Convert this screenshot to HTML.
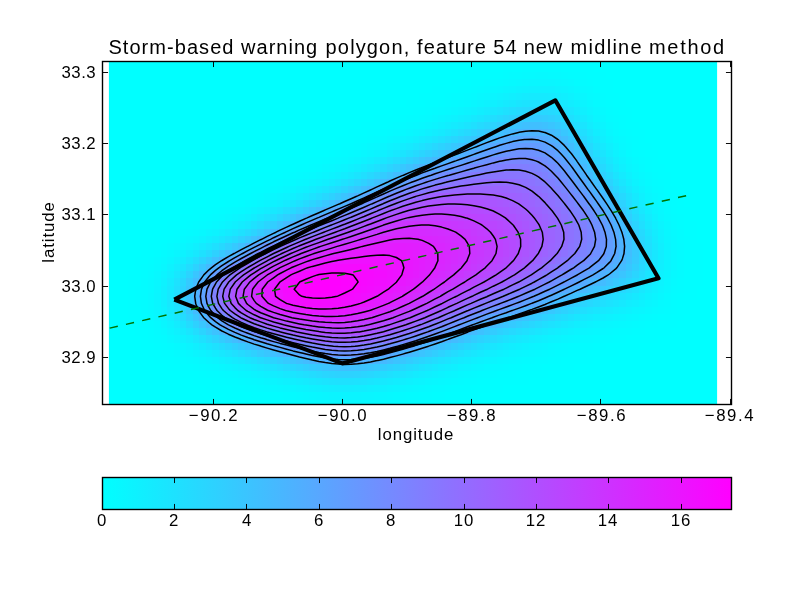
<!DOCTYPE html><html><head><meta charset="utf-8"><title>Storm-based warning polygon</title><style>html,body{margin:0;padding:0;background:#fff}body{width:812px;height:612px;position:relative;overflow:hidden;font-family:"Liberation Sans",sans-serif;color:#000}.t{position:absolute;white-space:nowrap;line-height:20px;height:20px;will-change:transform;-webkit-font-smoothing:antialiased}.c{width:100px;text-align:center}.r{width:100px;text-align:right}.yl{transform:rotate(-90deg);transform-origin:50% 50%}.ti span{position:absolute;top:0}</style></head><body><svg width="812" height="612" viewBox="0 0 812 612" style="position:absolute;left:0;top:0"><defs><linearGradient id="cg" x1="0" x2="1" y1="0" y2="0"><stop offset="0" stop-color="#00ffff"/><stop offset="1" stop-color="#ff00ff"/></linearGradient><clipPath id="ax"><rect x="102.5" y="61.5" width="629.0" height="343.0"/></clipPath></defs><rect x="102.5" y="477.5" width="629.0" height="32.0" fill="url(#cg)" stroke="#000" stroke-width="1.39"/><g clip-path="url(#ax)"><rect x="108.90" y="61.5" width="608.20" height="343.0" fill="#00ffff"/><g shape-rendering="crispEdges"><rect x="496.50" y="61.50" width="32.35" height="3.27" fill="#01feff"/><rect x="528.80" y="61.50" width="32.35" height="3.27" fill="#02fdff"/><rect x="561.10" y="61.50" width="25.89" height="3.27" fill="#01feff"/><rect x="477.12" y="64.72" width="25.89" height="7.17" fill="#01feff"/><rect x="502.96" y="64.72" width="19.43" height="7.17" fill="#02fdff"/><rect x="522.34" y="64.72" width="38.81" height="7.17" fill="#03fcff"/><rect x="561.10" y="64.72" width="19.43" height="7.17" fill="#02fdff"/><rect x="580.48" y="64.72" width="12.97" height="7.17" fill="#01feff"/><rect x="464.20" y="71.85" width="25.89" height="7.17" fill="#01feff"/><rect x="490.04" y="71.85" width="12.97" height="7.17" fill="#02fdff"/><rect x="502.96" y="71.85" width="6.51" height="7.17" fill="#03fcff"/><rect x="509.42" y="71.85" width="12.97" height="7.17" fill="#04fbff"/><rect x="522.34" y="71.85" width="12.97" height="7.17" fill="#05faff"/><rect x="535.26" y="71.85" width="12.97" height="7.17" fill="#06f9ff"/><rect x="548.18" y="71.85" width="12.97" height="7.17" fill="#05faff"/><rect x="561.10" y="71.85" width="6.51" height="7.17" fill="#04fbff"/><rect x="567.56" y="71.85" width="12.97" height="7.17" fill="#03fcff"/><rect x="580.48" y="71.85" width="6.51" height="7.17" fill="#02fdff"/><rect x="586.94" y="71.85" width="19.43" height="7.17" fill="#01feff"/><rect x="451.28" y="78.97" width="19.43" height="7.17" fill="#01feff"/><rect x="470.66" y="78.97" width="12.97" height="7.17" fill="#02fdff"/><rect x="483.58" y="78.97" width="12.97" height="7.17" fill="#03fcff"/><rect x="496.50" y="78.97" width="6.51" height="7.17" fill="#04fbff"/><rect x="502.96" y="78.97" width="6.51" height="7.17" fill="#05faff"/><rect x="509.42" y="78.97" width="6.51" height="7.17" fill="#06f9ff"/><rect x="515.88" y="78.97" width="6.51" height="7.17" fill="#07f8ff"/><rect x="522.34" y="78.97" width="6.51" height="7.17" fill="#08f7ff"/><rect x="528.80" y="78.97" width="25.89" height="7.17" fill="#09f6ff"/><rect x="554.64" y="78.97" width="6.51" height="7.17" fill="#08f7ff"/><rect x="561.10" y="78.97" width="6.51" height="7.17" fill="#07f8ff"/><rect x="567.56" y="78.97" width="6.51" height="7.17" fill="#06f9ff"/><rect x="574.02" y="78.97" width="6.51" height="7.17" fill="#04fbff"/><rect x="580.48" y="78.97" width="6.51" height="7.17" fill="#03fcff"/><rect x="586.94" y="78.97" width="6.51" height="7.17" fill="#02fdff"/><rect x="593.40" y="78.97" width="19.43" height="7.17" fill="#01feff"/><rect x="431.90" y="86.10" width="25.89" height="7.17" fill="#01feff"/><rect x="457.74" y="86.10" width="12.97" height="7.17" fill="#02fdff"/><rect x="470.66" y="86.10" width="6.51" height="7.17" fill="#03fcff"/><rect x="477.12" y="86.10" width="6.51" height="7.17" fill="#04fbff"/><rect x="483.58" y="86.10" width="6.51" height="7.17" fill="#05faff"/><rect x="490.04" y="86.10" width="6.51" height="7.17" fill="#06f9ff"/><rect x="496.50" y="86.10" width="6.51" height="7.17" fill="#07f8ff"/><rect x="502.96" y="86.10" width="6.51" height="7.17" fill="#09f6ff"/><rect x="509.42" y="86.10" width="6.51" height="7.17" fill="#0af5ff"/><rect x="515.88" y="86.10" width="6.51" height="7.17" fill="#0cf3ff"/><rect x="522.34" y="86.10" width="6.51" height="7.17" fill="#0df2ff"/><rect x="528.80" y="86.10" width="25.89" height="7.17" fill="#0ef1ff"/><rect x="554.64" y="86.10" width="6.51" height="7.17" fill="#0cf3ff"/><rect x="561.10" y="86.10" width="6.51" height="7.17" fill="#0bf4ff"/><rect x="567.56" y="86.10" width="6.51" height="7.17" fill="#09f6ff"/><rect x="574.02" y="86.10" width="6.51" height="7.17" fill="#07f8ff"/><rect x="580.48" y="86.10" width="6.51" height="7.17" fill="#05faff"/><rect x="586.94" y="86.10" width="6.51" height="7.17" fill="#04fbff"/><rect x="593.40" y="86.10" width="6.51" height="7.17" fill="#02fdff"/><rect x="599.86" y="86.10" width="12.97" height="7.17" fill="#01feff"/><rect x="418.98" y="93.22" width="25.89" height="7.17" fill="#01feff"/><rect x="444.82" y="93.22" width="6.51" height="7.17" fill="#02fdff"/><rect x="451.28" y="93.22" width="12.97" height="7.17" fill="#03fcff"/><rect x="464.20" y="93.22" width="6.51" height="7.17" fill="#04fbff"/><rect x="470.66" y="93.22" width="6.51" height="7.17" fill="#05faff"/><rect x="477.12" y="93.22" width="6.51" height="7.17" fill="#07f8ff"/><rect x="483.58" y="93.22" width="6.51" height="7.17" fill="#08f7ff"/><rect x="490.04" y="93.22" width="6.51" height="7.17" fill="#0af5ff"/><rect x="496.50" y="93.22" width="6.51" height="7.17" fill="#0cf3ff"/><rect x="502.96" y="93.22" width="6.51" height="7.17" fill="#0ef1ff"/><rect x="509.42" y="93.22" width="6.51" height="7.17" fill="#10efff"/><rect x="515.88" y="93.22" width="6.51" height="7.17" fill="#12edff"/><rect x="522.34" y="93.22" width="6.51" height="7.17" fill="#14ebff"/><rect x="528.80" y="93.22" width="19.43" height="7.17" fill="#15eaff"/><rect x="548.18" y="93.22" width="6.51" height="7.17" fill="#14ebff"/><rect x="554.64" y="93.22" width="6.51" height="7.17" fill="#12edff"/><rect x="561.10" y="93.22" width="6.51" height="7.17" fill="#10efff"/><rect x="567.56" y="93.22" width="6.51" height="7.17" fill="#0df2ff"/><rect x="574.02" y="93.22" width="6.51" height="7.17" fill="#0af5ff"/><rect x="580.48" y="93.22" width="6.51" height="7.17" fill="#08f7ff"/><rect x="586.94" y="93.22" width="6.51" height="7.17" fill="#05faff"/><rect x="593.40" y="93.22" width="6.51" height="7.17" fill="#04fbff"/><rect x="599.86" y="93.22" width="6.51" height="7.17" fill="#02fdff"/><rect x="606.32" y="93.22" width="12.97" height="7.17" fill="#01feff"/><rect x="406.06" y="100.35" width="19.43" height="7.17" fill="#01feff"/><rect x="425.44" y="100.35" width="12.97" height="7.17" fill="#02fdff"/><rect x="438.36" y="100.35" width="6.51" height="7.17" fill="#03fcff"/><rect x="444.82" y="100.35" width="6.51" height="7.17" fill="#04fbff"/><rect x="451.28" y="100.35" width="6.51" height="7.17" fill="#05faff"/><rect x="457.74" y="100.35" width="6.51" height="7.17" fill="#06f9ff"/><rect x="464.20" y="100.35" width="6.51" height="7.17" fill="#07f8ff"/><rect x="470.66" y="100.35" width="6.51" height="7.17" fill="#09f6ff"/><rect x="477.12" y="100.35" width="6.51" height="7.17" fill="#0bf4ff"/><rect x="483.58" y="100.35" width="6.51" height="7.17" fill="#0df2ff"/><rect x="490.04" y="100.35" width="6.51" height="7.17" fill="#0ff0ff"/><rect x="496.50" y="100.35" width="6.51" height="7.17" fill="#12edff"/><rect x="502.96" y="100.35" width="6.51" height="7.17" fill="#15eaff"/><rect x="509.42" y="100.35" width="6.51" height="7.17" fill="#17e8ff"/><rect x="515.88" y="100.35" width="6.51" height="7.17" fill="#1ae5ff"/><rect x="522.34" y="100.35" width="6.51" height="7.17" fill="#1ce3ff"/><rect x="528.80" y="100.35" width="6.51" height="7.17" fill="#1de2ff"/><rect x="535.26" y="100.35" width="12.97" height="7.17" fill="#1ee1ff"/><rect x="548.18" y="100.35" width="6.51" height="7.17" fill="#1ce3ff"/><rect x="554.64" y="100.35" width="6.51" height="7.17" fill="#19e6ff"/><rect x="561.10" y="100.35" width="6.51" height="7.17" fill="#16e9ff"/><rect x="567.56" y="100.35" width="6.51" height="7.17" fill="#12edff"/><rect x="574.02" y="100.35" width="6.51" height="7.17" fill="#0ff0ff"/><rect x="580.48" y="100.35" width="6.51" height="7.17" fill="#0bf4ff"/><rect x="586.94" y="100.35" width="6.51" height="7.17" fill="#08f7ff"/><rect x="593.40" y="100.35" width="6.51" height="7.17" fill="#05faff"/><rect x="599.86" y="100.35" width="6.51" height="7.17" fill="#03fcff"/><rect x="606.32" y="100.35" width="6.51" height="7.17" fill="#02fdff"/><rect x="612.78" y="100.35" width="12.97" height="7.17" fill="#01feff"/><rect x="393.14" y="107.47" width="19.43" height="7.17" fill="#01feff"/><rect x="412.52" y="107.47" width="12.97" height="7.17" fill="#02fdff"/><rect x="425.44" y="107.47" width="6.51" height="7.17" fill="#03fcff"/><rect x="431.90" y="107.47" width="6.51" height="7.17" fill="#04fbff"/><rect x="438.36" y="107.47" width="6.51" height="7.17" fill="#05faff"/><rect x="444.82" y="107.47" width="6.51" height="7.17" fill="#06f9ff"/><rect x="451.28" y="107.47" width="6.51" height="7.17" fill="#08f7ff"/><rect x="457.74" y="107.47" width="6.51" height="7.17" fill="#0af5ff"/><rect x="464.20" y="107.47" width="6.51" height="7.17" fill="#0cf3ff"/><rect x="470.66" y="107.47" width="6.51" height="7.17" fill="#0ef1ff"/><rect x="477.12" y="107.47" width="6.51" height="7.17" fill="#11eeff"/><rect x="483.58" y="107.47" width="6.51" height="7.17" fill="#14ebff"/><rect x="490.04" y="107.47" width="6.51" height="7.17" fill="#17e8ff"/><rect x="496.50" y="107.47" width="6.51" height="7.17" fill="#1ae5ff"/><rect x="502.96" y="107.47" width="6.51" height="7.17" fill="#1ee1ff"/><rect x="509.42" y="107.47" width="6.51" height="7.17" fill="#21deff"/><rect x="515.88" y="107.47" width="6.51" height="7.17" fill="#24dbff"/><rect x="522.34" y="107.47" width="6.51" height="7.17" fill="#26d9ff"/><rect x="528.80" y="107.47" width="12.97" height="7.17" fill="#28d7ff"/><rect x="541.72" y="107.47" width="6.51" height="7.17" fill="#27d8ff"/><rect x="548.18" y="107.47" width="6.51" height="7.17" fill="#25daff"/><rect x="554.64" y="107.47" width="6.51" height="7.17" fill="#22ddff"/><rect x="561.10" y="107.47" width="6.51" height="7.17" fill="#1ee1ff"/><rect x="567.56" y="107.47" width="6.51" height="7.17" fill="#19e6ff"/><rect x="574.02" y="107.47" width="6.51" height="7.17" fill="#14ebff"/><rect x="580.48" y="107.47" width="6.51" height="7.17" fill="#0ff0ff"/><rect x="586.94" y="107.47" width="6.51" height="7.17" fill="#0bf4ff"/><rect x="593.40" y="107.47" width="6.51" height="7.17" fill="#08f7ff"/><rect x="599.86" y="107.47" width="6.51" height="7.17" fill="#05faff"/><rect x="606.32" y="107.47" width="6.51" height="7.17" fill="#03fcff"/><rect x="612.78" y="107.47" width="6.51" height="7.17" fill="#02fdff"/><rect x="619.24" y="107.47" width="12.97" height="7.17" fill="#01feff"/><rect x="373.76" y="114.60" width="25.89" height="7.17" fill="#01feff"/><rect x="399.60" y="114.60" width="6.51" height="7.17" fill="#02fdff"/><rect x="406.06" y="114.60" width="12.97" height="7.17" fill="#03fcff"/><rect x="418.98" y="114.60" width="6.51" height="7.17" fill="#04fbff"/><rect x="425.44" y="114.60" width="6.51" height="7.17" fill="#05faff"/><rect x="431.90" y="114.60" width="6.51" height="7.17" fill="#07f8ff"/><rect x="438.36" y="114.60" width="6.51" height="7.17" fill="#09f6ff"/><rect x="444.82" y="114.60" width="6.51" height="7.17" fill="#0bf4ff"/><rect x="451.28" y="114.60" width="6.51" height="7.17" fill="#0df2ff"/><rect x="457.74" y="114.60" width="6.51" height="7.17" fill="#10efff"/><rect x="464.20" y="114.60" width="6.51" height="7.17" fill="#12edff"/><rect x="470.66" y="114.60" width="6.51" height="7.17" fill="#16e9ff"/><rect x="477.12" y="114.60" width="6.51" height="7.17" fill="#19e6ff"/><rect x="483.58" y="114.60" width="6.51" height="7.17" fill="#1de2ff"/><rect x="490.04" y="114.60" width="6.51" height="7.17" fill="#21deff"/><rect x="496.50" y="114.60" width="6.51" height="7.17" fill="#25daff"/><rect x="502.96" y="114.60" width="6.51" height="7.17" fill="#29d6ff"/><rect x="509.42" y="114.60" width="6.51" height="7.17" fill="#2cd3ff"/><rect x="515.88" y="114.60" width="6.51" height="7.17" fill="#30cfff"/><rect x="522.34" y="114.60" width="6.51" height="7.17" fill="#32cdff"/><rect x="528.80" y="114.60" width="6.51" height="7.17" fill="#33ccff"/><rect x="535.26" y="114.60" width="6.51" height="7.17" fill="#34cbff"/><rect x="541.72" y="114.60" width="6.51" height="7.17" fill="#32cdff"/><rect x="548.18" y="114.60" width="6.51" height="7.17" fill="#2fd0ff"/><rect x="554.64" y="114.60" width="6.51" height="7.17" fill="#2bd4ff"/><rect x="561.10" y="114.60" width="6.51" height="7.17" fill="#26d9ff"/><rect x="567.56" y="114.60" width="6.51" height="7.17" fill="#20dfff"/><rect x="574.02" y="114.60" width="6.51" height="7.17" fill="#1ae5ff"/><rect x="580.48" y="114.60" width="6.51" height="7.17" fill="#14ebff"/><rect x="586.94" y="114.60" width="6.51" height="7.17" fill="#0ff0ff"/><rect x="593.40" y="114.60" width="6.51" height="7.17" fill="#0af5ff"/><rect x="599.86" y="114.60" width="6.51" height="7.17" fill="#07f8ff"/><rect x="606.32" y="114.60" width="6.51" height="7.17" fill="#04fbff"/><rect x="612.78" y="114.60" width="6.51" height="7.17" fill="#03fcff"/><rect x="619.24" y="114.60" width="6.51" height="7.17" fill="#02fdff"/><rect x="625.70" y="114.60" width="6.51" height="7.17" fill="#01feff"/><rect x="360.84" y="121.72" width="25.89" height="7.17" fill="#01feff"/><rect x="386.68" y="121.72" width="6.51" height="7.17" fill="#02fdff"/><rect x="393.14" y="121.72" width="6.51" height="7.17" fill="#03fcff"/><rect x="399.60" y="121.72" width="6.51" height="7.17" fill="#04fbff"/><rect x="406.06" y="121.72" width="6.51" height="7.17" fill="#05faff"/><rect x="412.52" y="121.72" width="6.51" height="7.17" fill="#06f9ff"/><rect x="418.98" y="121.72" width="6.51" height="7.17" fill="#07f8ff"/><rect x="425.44" y="121.72" width="6.51" height="7.17" fill="#09f6ff"/><rect x="431.90" y="121.72" width="6.51" height="7.17" fill="#0bf4ff"/><rect x="438.36" y="121.72" width="6.51" height="7.17" fill="#0ef1ff"/><rect x="444.82" y="121.72" width="6.51" height="7.17" fill="#11eeff"/><rect x="451.28" y="121.72" width="6.51" height="7.17" fill="#14ebff"/><rect x="457.74" y="121.72" width="6.51" height="7.17" fill="#17e8ff"/><rect x="464.20" y="121.72" width="6.51" height="7.17" fill="#1be4ff"/><rect x="470.66" y="121.72" width="6.51" height="7.17" fill="#1fe0ff"/><rect x="477.12" y="121.72" width="6.51" height="7.17" fill="#24dbff"/><rect x="483.58" y="121.72" width="6.51" height="7.17" fill="#28d7ff"/><rect x="490.04" y="121.72" width="6.51" height="7.17" fill="#2cd3ff"/><rect x="496.50" y="121.72" width="6.51" height="7.17" fill="#31ceff"/><rect x="502.96" y="121.72" width="6.51" height="7.17" fill="#35caff"/><rect x="509.42" y="121.72" width="6.51" height="7.17" fill="#39c6ff"/><rect x="515.88" y="121.72" width="6.51" height="7.17" fill="#3cc3ff"/><rect x="522.34" y="121.72" width="6.51" height="7.17" fill="#3fc0ff"/><rect x="528.80" y="121.72" width="12.97" height="7.17" fill="#40bfff"/><rect x="541.72" y="121.72" width="6.51" height="7.17" fill="#3ec1ff"/><rect x="548.18" y="121.72" width="6.51" height="7.17" fill="#3ac5ff"/><rect x="554.64" y="121.72" width="6.51" height="7.17" fill="#35caff"/><rect x="561.10" y="121.72" width="6.51" height="7.17" fill="#2fd0ff"/><rect x="567.56" y="121.72" width="6.51" height="7.17" fill="#28d7ff"/><rect x="574.02" y="121.72" width="6.51" height="7.17" fill="#21deff"/><rect x="580.48" y="121.72" width="6.51" height="7.17" fill="#1ae5ff"/><rect x="586.94" y="121.72" width="6.51" height="7.17" fill="#13ecff"/><rect x="593.40" y="121.72" width="6.51" height="7.17" fill="#0ef1ff"/><rect x="599.86" y="121.72" width="6.51" height="7.17" fill="#0af5ff"/><rect x="606.32" y="121.72" width="6.51" height="7.17" fill="#06f9ff"/><rect x="612.78" y="121.72" width="6.51" height="7.17" fill="#04fbff"/><rect x="619.24" y="121.72" width="6.51" height="7.17" fill="#02fdff"/><rect x="625.70" y="121.72" width="12.97" height="7.17" fill="#01feff"/><rect x="347.92" y="128.85" width="19.43" height="7.17" fill="#01feff"/><rect x="367.30" y="128.85" width="12.97" height="7.17" fill="#02fdff"/><rect x="380.22" y="128.85" width="6.51" height="7.17" fill="#03fcff"/><rect x="386.68" y="128.85" width="6.51" height="7.17" fill="#04fbff"/><rect x="393.14" y="128.85" width="6.51" height="7.17" fill="#05faff"/><rect x="399.60" y="128.85" width="6.51" height="7.17" fill="#06f9ff"/><rect x="406.06" y="128.85" width="6.51" height="7.17" fill="#08f7ff"/><rect x="412.52" y="128.85" width="6.51" height="7.17" fill="#0af5ff"/><rect x="418.98" y="128.85" width="6.51" height="7.17" fill="#0cf3ff"/><rect x="425.44" y="128.85" width="6.51" height="7.17" fill="#0ff0ff"/><rect x="431.90" y="128.85" width="6.51" height="7.17" fill="#12edff"/><rect x="438.36" y="128.85" width="6.51" height="7.17" fill="#15eaff"/><rect x="444.82" y="128.85" width="6.51" height="7.17" fill="#19e6ff"/><rect x="451.28" y="128.85" width="6.51" height="7.17" fill="#1de2ff"/><rect x="457.74" y="128.85" width="6.51" height="7.17" fill="#22ddff"/><rect x="464.20" y="128.85" width="6.51" height="7.17" fill="#26d9ff"/><rect x="470.66" y="128.85" width="6.51" height="7.17" fill="#2bd4ff"/><rect x="477.12" y="128.85" width="6.51" height="7.17" fill="#30cfff"/><rect x="483.58" y="128.85" width="6.51" height="7.17" fill="#35caff"/><rect x="490.04" y="128.85" width="6.51" height="7.17" fill="#3ac5ff"/><rect x="496.50" y="128.85" width="6.51" height="7.17" fill="#3ec1ff"/><rect x="502.96" y="128.85" width="6.51" height="7.17" fill="#43bcff"/><rect x="509.42" y="128.85" width="6.51" height="7.17" fill="#47b8ff"/><rect x="515.88" y="128.85" width="6.51" height="7.17" fill="#4ab5ff"/><rect x="522.34" y="128.85" width="19.43" height="7.17" fill="#4cb3ff"/><rect x="541.72" y="128.85" width="6.51" height="7.17" fill="#49b6ff"/><rect x="548.18" y="128.85" width="6.51" height="7.17" fill="#45baff"/><rect x="554.64" y="128.85" width="6.51" height="7.17" fill="#3fc0ff"/><rect x="561.10" y="128.85" width="6.51" height="7.17" fill="#38c7ff"/><rect x="567.56" y="128.85" width="6.51" height="7.17" fill="#31ceff"/><rect x="574.02" y="128.85" width="6.51" height="7.17" fill="#28d7ff"/><rect x="580.48" y="128.85" width="6.51" height="7.17" fill="#20dfff"/><rect x="586.94" y="128.85" width="6.51" height="7.17" fill="#19e6ff"/><rect x="593.40" y="128.85" width="6.51" height="7.17" fill="#12edff"/><rect x="599.86" y="128.85" width="6.51" height="7.17" fill="#0df2ff"/><rect x="606.32" y="128.85" width="6.51" height="7.17" fill="#08f7ff"/><rect x="612.78" y="128.85" width="6.51" height="7.17" fill="#05faff"/><rect x="619.24" y="128.85" width="6.51" height="7.17" fill="#03fcff"/><rect x="625.70" y="128.85" width="6.51" height="7.17" fill="#02fdff"/><rect x="632.16" y="128.85" width="12.97" height="7.17" fill="#01feff"/><rect x="335.00" y="135.97" width="19.43" height="7.17" fill="#01feff"/><rect x="354.38" y="135.97" width="12.97" height="7.17" fill="#02fdff"/><rect x="367.30" y="135.97" width="6.51" height="7.17" fill="#03fcff"/><rect x="373.76" y="135.97" width="6.51" height="7.17" fill="#04fbff"/><rect x="380.22" y="135.97" width="6.51" height="7.17" fill="#05faff"/><rect x="386.68" y="135.97" width="6.51" height="7.17" fill="#07f8ff"/><rect x="393.14" y="135.97" width="6.51" height="7.17" fill="#09f6ff"/><rect x="399.60" y="135.97" width="6.51" height="7.17" fill="#0bf4ff"/><rect x="406.06" y="135.97" width="6.51" height="7.17" fill="#0df2ff"/><rect x="412.52" y="135.97" width="6.51" height="7.17" fill="#10efff"/><rect x="418.98" y="135.97" width="6.51" height="7.17" fill="#14ebff"/><rect x="425.44" y="135.97" width="6.51" height="7.17" fill="#17e8ff"/><rect x="431.90" y="135.97" width="6.51" height="7.17" fill="#1be4ff"/><rect x="438.36" y="135.97" width="6.51" height="7.17" fill="#1fe0ff"/><rect x="444.82" y="135.97" width="6.51" height="7.17" fill="#24dbff"/><rect x="451.28" y="135.97" width="6.51" height="7.17" fill="#29d6ff"/><rect x="457.74" y="135.97" width="6.51" height="7.17" fill="#2ed1ff"/><rect x="464.20" y="135.97" width="6.51" height="7.17" fill="#33ccff"/><rect x="470.66" y="135.97" width="6.51" height="7.17" fill="#38c7ff"/><rect x="477.12" y="135.97" width="6.51" height="7.17" fill="#3ec1ff"/><rect x="483.58" y="135.97" width="6.51" height="7.17" fill="#43bcff"/><rect x="490.04" y="135.97" width="6.51" height="7.17" fill="#48b7ff"/><rect x="496.50" y="135.97" width="6.51" height="7.17" fill="#4cb3ff"/><rect x="502.96" y="135.97" width="6.51" height="7.17" fill="#51aeff"/><rect x="509.42" y="135.97" width="6.51" height="7.17" fill="#54abff"/><rect x="515.88" y="135.97" width="6.51" height="7.17" fill="#57a8ff"/><rect x="522.34" y="135.97" width="12.97" height="7.17" fill="#58a7ff"/><rect x="535.26" y="135.97" width="6.51" height="7.17" fill="#57a8ff"/><rect x="541.72" y="135.97" width="6.51" height="7.17" fill="#54abff"/><rect x="548.18" y="135.97" width="6.51" height="7.17" fill="#50afff"/><rect x="554.64" y="135.97" width="6.51" height="7.17" fill="#49b6ff"/><rect x="561.10" y="135.97" width="6.51" height="7.17" fill="#42bdff"/><rect x="567.56" y="135.97" width="6.51" height="7.17" fill="#39c6ff"/><rect x="574.02" y="135.97" width="6.51" height="7.17" fill="#30cfff"/><rect x="580.48" y="135.97" width="6.51" height="7.17" fill="#27d8ff"/><rect x="586.94" y="135.97" width="6.51" height="7.17" fill="#1ee1ff"/><rect x="593.40" y="135.97" width="6.51" height="7.17" fill="#17e8ff"/><rect x="599.86" y="135.97" width="6.51" height="7.17" fill="#10efff"/><rect x="606.32" y="135.97" width="6.51" height="7.17" fill="#0bf4ff"/><rect x="612.78" y="135.97" width="6.51" height="7.17" fill="#07f8ff"/><rect x="619.24" y="135.97" width="6.51" height="7.17" fill="#05faff"/><rect x="625.70" y="135.97" width="6.51" height="7.17" fill="#03fcff"/><rect x="632.16" y="135.97" width="6.51" height="7.17" fill="#02fdff"/><rect x="638.62" y="135.97" width="6.51" height="7.17" fill="#01feff"/><rect x="315.62" y="143.10" width="25.89" height="7.17" fill="#01feff"/><rect x="341.46" y="143.10" width="12.97" height="7.17" fill="#02fdff"/><rect x="354.38" y="143.10" width="6.51" height="7.17" fill="#03fcff"/><rect x="360.84" y="143.10" width="6.51" height="7.17" fill="#04fbff"/><rect x="367.30" y="143.10" width="6.51" height="7.17" fill="#06f9ff"/><rect x="373.76" y="143.10" width="6.51" height="7.17" fill="#07f8ff"/><rect x="380.22" y="143.10" width="6.51" height="7.17" fill="#09f6ff"/><rect x="386.68" y="143.10" width="6.51" height="7.17" fill="#0cf3ff"/><rect x="393.14" y="143.10" width="6.51" height="7.17" fill="#0ef1ff"/><rect x="399.60" y="143.10" width="6.51" height="7.17" fill="#12edff"/><rect x="406.06" y="143.10" width="6.51" height="7.17" fill="#15eaff"/><rect x="412.52" y="143.10" width="6.51" height="7.17" fill="#19e6ff"/><rect x="418.98" y="143.10" width="6.51" height="7.17" fill="#1de2ff"/><rect x="425.44" y="143.10" width="6.51" height="7.17" fill="#22ddff"/><rect x="431.90" y="143.10" width="6.51" height="7.17" fill="#27d8ff"/><rect x="438.36" y="143.10" width="6.51" height="7.17" fill="#2cd3ff"/><rect x="444.82" y="143.10" width="6.51" height="7.17" fill="#31ceff"/><rect x="451.28" y="143.10" width="6.51" height="7.17" fill="#37c8ff"/><rect x="457.74" y="143.10" width="6.51" height="7.17" fill="#3cc3ff"/><rect x="464.20" y="143.10" width="6.51" height="7.17" fill="#42bdff"/><rect x="470.66" y="143.10" width="6.51" height="7.17" fill="#47b8ff"/><rect x="477.12" y="143.10" width="6.51" height="7.17" fill="#4db2ff"/><rect x="483.58" y="143.10" width="6.51" height="7.17" fill="#52adff"/><rect x="490.04" y="143.10" width="6.51" height="7.17" fill="#56a9ff"/><rect x="496.50" y="143.10" width="6.51" height="7.17" fill="#5ba4ff"/><rect x="502.96" y="143.10" width="6.51" height="7.17" fill="#5ea1ff"/><rect x="509.42" y="143.10" width="6.51" height="7.17" fill="#619eff"/><rect x="515.88" y="143.10" width="6.51" height="7.17" fill="#639cff"/><rect x="522.34" y="143.10" width="12.97" height="7.17" fill="#649bff"/><rect x="535.26" y="143.10" width="6.51" height="7.17" fill="#629dff"/><rect x="541.72" y="143.10" width="6.51" height="7.17" fill="#5ea1ff"/><rect x="548.18" y="143.10" width="6.51" height="7.17" fill="#59a6ff"/><rect x="554.64" y="143.10" width="6.51" height="7.17" fill="#53acff"/><rect x="561.10" y="143.10" width="6.51" height="7.17" fill="#4bb4ff"/><rect x="567.56" y="143.10" width="6.51" height="7.17" fill="#42bdff"/><rect x="574.02" y="143.10" width="6.51" height="7.17" fill="#38c7ff"/><rect x="580.48" y="143.10" width="6.51" height="7.17" fill="#2ed1ff"/><rect x="586.94" y="143.10" width="6.51" height="7.17" fill="#25daff"/><rect x="593.40" y="143.10" width="6.51" height="7.17" fill="#1ce3ff"/><rect x="599.86" y="143.10" width="6.51" height="7.17" fill="#15eaff"/><rect x="606.32" y="143.10" width="6.51" height="7.17" fill="#0ff0ff"/><rect x="612.78" y="143.10" width="6.51" height="7.17" fill="#0af5ff"/><rect x="619.24" y="143.10" width="6.51" height="7.17" fill="#06f9ff"/><rect x="625.70" y="143.10" width="6.51" height="7.17" fill="#04fbff"/><rect x="632.16" y="143.10" width="6.51" height="7.17" fill="#02fdff"/><rect x="638.62" y="143.10" width="12.97" height="7.17" fill="#01feff"/><rect x="302.70" y="150.22" width="25.89" height="7.17" fill="#01feff"/><rect x="328.54" y="150.22" width="6.51" height="7.17" fill="#02fdff"/><rect x="335.00" y="150.22" width="6.51" height="7.17" fill="#03fcff"/><rect x="341.46" y="150.22" width="6.51" height="7.17" fill="#04fbff"/><rect x="347.92" y="150.22" width="6.51" height="7.17" fill="#05faff"/><rect x="354.38" y="150.22" width="6.51" height="7.17" fill="#06f9ff"/><rect x="360.84" y="150.22" width="6.51" height="7.17" fill="#08f7ff"/><rect x="367.30" y="150.22" width="6.51" height="7.17" fill="#0af5ff"/><rect x="373.76" y="150.22" width="6.51" height="7.17" fill="#0cf3ff"/><rect x="380.22" y="150.22" width="6.51" height="7.17" fill="#0ff0ff"/><rect x="386.68" y="150.22" width="6.51" height="7.17" fill="#13ecff"/><rect x="393.14" y="150.22" width="6.51" height="7.17" fill="#17e8ff"/><rect x="399.60" y="150.22" width="6.51" height="7.17" fill="#1be4ff"/><rect x="406.06" y="150.22" width="6.51" height="7.17" fill="#20dfff"/><rect x="412.52" y="150.22" width="6.51" height="7.17" fill="#25daff"/><rect x="418.98" y="150.22" width="6.51" height="7.17" fill="#2ad5ff"/><rect x="425.44" y="150.22" width="6.51" height="7.17" fill="#2fd0ff"/><rect x="431.90" y="150.22" width="6.51" height="7.17" fill="#35caff"/><rect x="438.36" y="150.22" width="6.51" height="7.17" fill="#3bc4ff"/><rect x="444.82" y="150.22" width="6.51" height="7.17" fill="#41beff"/><rect x="451.28" y="150.22" width="6.51" height="7.17" fill="#46b9ff"/><rect x="457.74" y="150.22" width="6.51" height="7.17" fill="#4cb3ff"/><rect x="464.20" y="150.22" width="6.51" height="7.17" fill="#51aeff"/><rect x="470.66" y="150.22" width="6.51" height="7.17" fill="#57a8ff"/><rect x="477.12" y="150.22" width="6.51" height="7.17" fill="#5ca3ff"/><rect x="483.58" y="150.22" width="6.51" height="7.17" fill="#609fff"/><rect x="490.04" y="150.22" width="6.51" height="7.17" fill="#649bff"/><rect x="496.50" y="150.22" width="6.51" height="7.17" fill="#6897ff"/><rect x="502.96" y="150.22" width="6.51" height="7.17" fill="#6b94ff"/><rect x="509.42" y="150.22" width="6.51" height="7.17" fill="#6d92ff"/><rect x="515.88" y="150.22" width="12.97" height="7.17" fill="#6f90ff"/><rect x="528.80" y="150.22" width="6.51" height="7.17" fill="#6e91ff"/><rect x="535.26" y="150.22" width="6.51" height="7.17" fill="#6b94ff"/><rect x="541.72" y="150.22" width="6.51" height="7.17" fill="#6897ff"/><rect x="548.18" y="150.22" width="6.51" height="7.17" fill="#639cff"/><rect x="554.64" y="150.22" width="6.51" height="7.17" fill="#5ca3ff"/><rect x="561.10" y="150.22" width="6.51" height="7.17" fill="#54abff"/><rect x="567.56" y="150.22" width="6.51" height="7.17" fill="#4ab5ff"/><rect x="574.02" y="150.22" width="6.51" height="7.17" fill="#40bfff"/><rect x="580.48" y="150.22" width="6.51" height="7.17" fill="#36c9ff"/><rect x="586.94" y="150.22" width="6.51" height="7.17" fill="#2cd3ff"/><rect x="593.40" y="150.22" width="6.51" height="7.17" fill="#22ddff"/><rect x="599.86" y="150.22" width="6.51" height="7.17" fill="#1ae5ff"/><rect x="606.32" y="150.22" width="6.51" height="7.17" fill="#13ecff"/><rect x="612.78" y="150.22" width="6.51" height="7.17" fill="#0df2ff"/><rect x="619.24" y="150.22" width="6.51" height="7.17" fill="#09f6ff"/><rect x="625.70" y="150.22" width="6.51" height="7.17" fill="#05faff"/><rect x="632.16" y="150.22" width="6.51" height="7.17" fill="#03fcff"/><rect x="638.62" y="150.22" width="6.51" height="7.17" fill="#02fdff"/><rect x="645.08" y="150.22" width="12.97" height="7.17" fill="#01feff"/><rect x="289.78" y="157.35" width="19.43" height="7.17" fill="#01feff"/><rect x="309.16" y="157.35" width="12.97" height="7.17" fill="#02fdff"/><rect x="322.08" y="157.35" width="6.51" height="7.17" fill="#03fcff"/><rect x="328.54" y="157.35" width="6.51" height="7.17" fill="#04fbff"/><rect x="335.00" y="157.35" width="6.51" height="7.17" fill="#05faff"/><rect x="341.46" y="157.35" width="6.51" height="7.17" fill="#06f9ff"/><rect x="347.92" y="157.35" width="6.51" height="7.17" fill="#08f7ff"/><rect x="354.38" y="157.35" width="6.51" height="7.17" fill="#0af5ff"/><rect x="360.84" y="157.35" width="6.51" height="7.17" fill="#0df2ff"/><rect x="367.30" y="157.35" width="6.51" height="7.17" fill="#10efff"/><rect x="373.76" y="157.35" width="6.51" height="7.17" fill="#14ebff"/><rect x="380.22" y="157.35" width="6.51" height="7.17" fill="#18e7ff"/><rect x="386.68" y="157.35" width="6.51" height="7.17" fill="#1de2ff"/><rect x="393.14" y="157.35" width="6.51" height="7.17" fill="#22ddff"/><rect x="399.60" y="157.35" width="6.51" height="7.17" fill="#27d8ff"/><rect x="406.06" y="157.35" width="6.51" height="7.17" fill="#2dd2ff"/><rect x="412.52" y="157.35" width="6.51" height="7.17" fill="#33ccff"/><rect x="418.98" y="157.35" width="6.51" height="7.17" fill="#39c6ff"/><rect x="425.44" y="157.35" width="6.51" height="7.17" fill="#3fc0ff"/><rect x="431.90" y="157.35" width="6.51" height="7.17" fill="#46b9ff"/><rect x="438.36" y="157.35" width="6.51" height="7.17" fill="#4cb3ff"/><rect x="444.82" y="157.35" width="6.51" height="7.17" fill="#51aeff"/><rect x="451.28" y="157.35" width="6.51" height="7.17" fill="#57a8ff"/><rect x="457.74" y="157.35" width="6.51" height="7.17" fill="#5ca3ff"/><rect x="464.20" y="157.35" width="6.51" height="7.17" fill="#619eff"/><rect x="470.66" y="157.35" width="6.51" height="7.17" fill="#6699ff"/><rect x="477.12" y="157.35" width="6.51" height="7.17" fill="#6a95ff"/><rect x="483.58" y="157.35" width="6.51" height="7.17" fill="#6e91ff"/><rect x="490.04" y="157.35" width="6.51" height="7.17" fill="#728dff"/><rect x="496.50" y="157.35" width="6.51" height="7.17" fill="#758aff"/><rect x="502.96" y="157.35" width="6.51" height="7.17" fill="#7788ff"/><rect x="509.42" y="157.35" width="6.51" height="7.17" fill="#7887ff"/><rect x="515.88" y="157.35" width="6.51" height="7.17" fill="#7986ff"/><rect x="522.34" y="157.35" width="6.51" height="7.17" fill="#7887ff"/><rect x="528.80" y="157.35" width="6.51" height="7.17" fill="#7788ff"/><rect x="535.26" y="157.35" width="6.51" height="7.17" fill="#748bff"/><rect x="541.72" y="157.35" width="6.51" height="7.17" fill="#708fff"/><rect x="548.18" y="157.35" width="6.51" height="7.17" fill="#6b94ff"/><rect x="554.64" y="157.35" width="6.51" height="7.17" fill="#649bff"/><rect x="561.10" y="157.35" width="6.51" height="7.17" fill="#5ca3ff"/><rect x="567.56" y="157.35" width="6.51" height="7.17" fill="#53acff"/><rect x="574.02" y="157.35" width="6.51" height="7.17" fill="#49b6ff"/><rect x="580.48" y="157.35" width="6.51" height="7.17" fill="#3ec1ff"/><rect x="586.94" y="157.35" width="6.51" height="7.17" fill="#33ccff"/><rect x="593.40" y="157.35" width="6.51" height="7.17" fill="#29d6ff"/><rect x="599.86" y="157.35" width="6.51" height="7.17" fill="#20dfff"/><rect x="606.32" y="157.35" width="6.51" height="7.17" fill="#18e7ff"/><rect x="612.78" y="157.35" width="6.51" height="7.17" fill="#11eeff"/><rect x="619.24" y="157.35" width="6.51" height="7.17" fill="#0cf3ff"/><rect x="625.70" y="157.35" width="6.51" height="7.17" fill="#08f7ff"/><rect x="632.16" y="157.35" width="6.51" height="7.17" fill="#05faff"/><rect x="638.62" y="157.35" width="6.51" height="7.17" fill="#03fcff"/><rect x="645.08" y="157.35" width="6.51" height="7.17" fill="#02fdff"/><rect x="651.54" y="157.35" width="6.51" height="7.17" fill="#01feff"/><rect x="276.86" y="164.47" width="19.43" height="7.17" fill="#01feff"/><rect x="296.24" y="164.47" width="12.97" height="7.17" fill="#02fdff"/><rect x="309.16" y="164.47" width="6.51" height="7.17" fill="#03fcff"/><rect x="315.62" y="164.47" width="6.51" height="7.17" fill="#04fbff"/><rect x="322.08" y="164.47" width="6.51" height="7.17" fill="#06f9ff"/><rect x="328.54" y="164.47" width="6.51" height="7.17" fill="#07f8ff"/><rect x="335.00" y="164.47" width="6.51" height="7.17" fill="#09f6ff"/><rect x="341.46" y="164.47" width="6.51" height="7.17" fill="#0bf4ff"/><rect x="347.92" y="164.47" width="6.51" height="7.17" fill="#0ef1ff"/><rect x="354.38" y="164.47" width="6.51" height="7.17" fill="#11eeff"/><rect x="360.84" y="164.47" width="6.51" height="7.17" fill="#15eaff"/><rect x="367.30" y="164.47" width="6.51" height="7.17" fill="#19e6ff"/><rect x="373.76" y="164.47" width="6.51" height="7.17" fill="#1ee1ff"/><rect x="380.22" y="164.47" width="6.51" height="7.17" fill="#24dbff"/><rect x="386.68" y="164.47" width="6.51" height="7.17" fill="#2ad5ff"/><rect x="393.14" y="164.47" width="6.51" height="7.17" fill="#30cfff"/><rect x="399.60" y="164.47" width="6.51" height="7.17" fill="#37c8ff"/><rect x="406.06" y="164.47" width="6.51" height="7.17" fill="#3dc2ff"/><rect x="412.52" y="164.47" width="6.51" height="7.17" fill="#44bbff"/><rect x="418.98" y="164.47" width="6.51" height="7.17" fill="#4bb4ff"/><rect x="425.44" y="164.47" width="6.51" height="7.17" fill="#51aeff"/><rect x="431.90" y="164.47" width="6.51" height="7.17" fill="#57a8ff"/><rect x="438.36" y="164.47" width="6.51" height="7.17" fill="#5da2ff"/><rect x="444.82" y="164.47" width="6.51" height="7.17" fill="#639cff"/><rect x="451.28" y="164.47" width="6.51" height="7.17" fill="#6897ff"/><rect x="457.74" y="164.47" width="6.51" height="7.17" fill="#6d92ff"/><rect x="464.20" y="164.47" width="6.51" height="7.17" fill="#718eff"/><rect x="470.66" y="164.47" width="6.51" height="7.17" fill="#758aff"/><rect x="477.12" y="164.47" width="6.51" height="7.17" fill="#7887ff"/><rect x="483.58" y="164.47" width="6.51" height="7.17" fill="#7b84ff"/><rect x="490.04" y="164.47" width="6.51" height="7.17" fill="#7e81ff"/><rect x="496.50" y="164.47" width="6.51" height="7.17" fill="#807fff"/><rect x="502.96" y="164.47" width="6.51" height="7.17" fill="#817eff"/><rect x="509.42" y="164.47" width="12.97" height="7.17" fill="#827dff"/><rect x="522.34" y="164.47" width="6.51" height="7.17" fill="#817eff"/><rect x="528.80" y="164.47" width="6.51" height="7.17" fill="#7f80ff"/><rect x="535.26" y="164.47" width="6.51" height="7.17" fill="#7c83ff"/><rect x="541.72" y="164.47" width="6.51" height="7.17" fill="#7887ff"/><rect x="548.18" y="164.47" width="6.51" height="7.17" fill="#728dff"/><rect x="554.64" y="164.47" width="6.51" height="7.17" fill="#6c93ff"/><rect x="561.10" y="164.47" width="6.51" height="7.17" fill="#649bff"/><rect x="567.56" y="164.47" width="6.51" height="7.17" fill="#5ba4ff"/><rect x="574.02" y="164.47" width="6.51" height="7.17" fill="#51aeff"/><rect x="580.48" y="164.47" width="6.51" height="7.17" fill="#46b9ff"/><rect x="586.94" y="164.47" width="6.51" height="7.17" fill="#3bc4ff"/><rect x="593.40" y="164.47" width="6.51" height="7.17" fill="#30cfff"/><rect x="599.86" y="164.47" width="6.51" height="7.17" fill="#26d9ff"/><rect x="606.32" y="164.47" width="6.51" height="7.17" fill="#1de2ff"/><rect x="612.78" y="164.47" width="6.51" height="7.17" fill="#15eaff"/><rect x="619.24" y="164.47" width="6.51" height="7.17" fill="#0ff0ff"/><rect x="625.70" y="164.47" width="6.51" height="7.17" fill="#0af5ff"/><rect x="632.16" y="164.47" width="6.51" height="7.17" fill="#07f8ff"/><rect x="638.62" y="164.47" width="6.51" height="7.17" fill="#04fbff"/><rect x="645.08" y="164.47" width="6.51" height="7.17" fill="#02fdff"/><rect x="651.54" y="164.47" width="12.97" height="7.17" fill="#01feff"/><rect x="257.48" y="171.60" width="25.89" height="7.17" fill="#01feff"/><rect x="283.32" y="171.60" width="6.51" height="7.17" fill="#02fdff"/><rect x="289.78" y="171.60" width="6.51" height="7.17" fill="#03fcff"/><rect x="296.24" y="171.60" width="6.51" height="7.17" fill="#04fbff"/><rect x="302.70" y="171.60" width="6.51" height="7.17" fill="#05faff"/><rect x="309.16" y="171.60" width="6.51" height="7.17" fill="#06f9ff"/><rect x="315.62" y="171.60" width="6.51" height="7.17" fill="#08f7ff"/><rect x="322.08" y="171.60" width="6.51" height="7.17" fill="#0af5ff"/><rect x="328.54" y="171.60" width="6.51" height="7.17" fill="#0cf3ff"/><rect x="335.00" y="171.60" width="6.51" height="7.17" fill="#0ff0ff"/><rect x="341.46" y="171.60" width="6.51" height="7.17" fill="#12edff"/><rect x="347.92" y="171.60" width="6.51" height="7.17" fill="#16e9ff"/><rect x="354.38" y="171.60" width="6.51" height="7.17" fill="#1be4ff"/><rect x="360.84" y="171.60" width="6.51" height="7.17" fill="#20dfff"/><rect x="367.30" y="171.60" width="6.51" height="7.17" fill="#26d9ff"/><rect x="373.76" y="171.60" width="6.51" height="7.17" fill="#2cd3ff"/><rect x="380.22" y="171.60" width="6.51" height="7.17" fill="#33ccff"/><rect x="386.68" y="171.60" width="6.51" height="7.17" fill="#3ac5ff"/><rect x="393.14" y="171.60" width="6.51" height="7.17" fill="#41beff"/><rect x="399.60" y="171.60" width="6.51" height="7.17" fill="#49b6ff"/><rect x="406.06" y="171.60" width="6.51" height="7.17" fill="#50afff"/><rect x="412.52" y="171.60" width="6.51" height="7.17" fill="#57a8ff"/><rect x="418.98" y="171.60" width="6.51" height="7.17" fill="#5ea1ff"/><rect x="425.44" y="171.60" width="6.51" height="7.17" fill="#649bff"/><rect x="431.90" y="171.60" width="6.51" height="7.17" fill="#6a95ff"/><rect x="438.36" y="171.60" width="6.51" height="7.17" fill="#708fff"/><rect x="444.82" y="171.60" width="6.51" height="7.17" fill="#748bff"/><rect x="451.28" y="171.60" width="6.51" height="7.17" fill="#7986ff"/><rect x="457.74" y="171.60" width="6.51" height="7.17" fill="#7d82ff"/><rect x="464.20" y="171.60" width="6.51" height="7.17" fill="#807fff"/><rect x="470.66" y="171.60" width="6.51" height="7.17" fill="#837cff"/><rect x="477.12" y="171.60" width="6.51" height="7.17" fill="#857aff"/><rect x="483.58" y="171.60" width="6.51" height="7.17" fill="#8778ff"/><rect x="490.04" y="171.60" width="6.51" height="7.17" fill="#8976ff"/><rect x="496.50" y="171.60" width="19.43" height="7.17" fill="#8a75ff"/><rect x="515.88" y="171.60" width="6.51" height="7.17" fill="#8976ff"/><rect x="522.34" y="171.60" width="6.51" height="7.17" fill="#8877ff"/><rect x="528.80" y="171.60" width="6.51" height="7.17" fill="#8679ff"/><rect x="535.26" y="171.60" width="6.51" height="7.17" fill="#827dff"/><rect x="541.72" y="171.60" width="6.51" height="7.17" fill="#7e81ff"/><rect x="548.18" y="171.60" width="6.51" height="7.17" fill="#7986ff"/><rect x="554.64" y="171.60" width="6.51" height="7.17" fill="#738cff"/><rect x="561.10" y="171.60" width="6.51" height="7.17" fill="#6b94ff"/><rect x="567.56" y="171.60" width="6.51" height="7.17" fill="#629dff"/><rect x="574.02" y="171.60" width="6.51" height="7.17" fill="#59a6ff"/><rect x="580.48" y="171.60" width="6.51" height="7.17" fill="#4eb1ff"/><rect x="586.94" y="171.60" width="6.51" height="7.17" fill="#43bcff"/><rect x="593.40" y="171.60" width="6.51" height="7.17" fill="#38c7ff"/><rect x="599.86" y="171.60" width="6.51" height="7.17" fill="#2ed1ff"/><rect x="606.32" y="171.60" width="6.51" height="7.17" fill="#24dbff"/><rect x="612.78" y="171.60" width="6.51" height="7.17" fill="#1be4ff"/><rect x="619.24" y="171.60" width="6.51" height="7.17" fill="#14ebff"/><rect x="625.70" y="171.60" width="6.51" height="7.17" fill="#0ef1ff"/><rect x="632.16" y="171.60" width="6.51" height="7.17" fill="#09f6ff"/><rect x="638.62" y="171.60" width="6.51" height="7.17" fill="#06f9ff"/><rect x="645.08" y="171.60" width="6.51" height="7.17" fill="#04fbff"/><rect x="651.54" y="171.60" width="6.51" height="7.17" fill="#02fdff"/><rect x="658.00" y="171.60" width="12.97" height="7.17" fill="#01feff"/><rect x="244.56" y="178.72" width="19.43" height="7.17" fill="#01feff"/><rect x="263.94" y="178.72" width="12.97" height="7.17" fill="#02fdff"/><rect x="276.86" y="178.72" width="6.51" height="7.17" fill="#03fcff"/><rect x="283.32" y="178.72" width="6.51" height="7.17" fill="#04fbff"/><rect x="289.78" y="178.72" width="6.51" height="7.17" fill="#05faff"/><rect x="296.24" y="178.72" width="6.51" height="7.17" fill="#07f8ff"/><rect x="302.70" y="178.72" width="6.51" height="7.17" fill="#08f7ff"/><rect x="309.16" y="178.72" width="6.51" height="7.17" fill="#0bf4ff"/><rect x="315.62" y="178.72" width="6.51" height="7.17" fill="#0df2ff"/><rect x="322.08" y="178.72" width="6.51" height="7.17" fill="#10efff"/><rect x="328.54" y="178.72" width="6.51" height="7.17" fill="#14ebff"/><rect x="335.00" y="178.72" width="6.51" height="7.17" fill="#18e7ff"/><rect x="341.46" y="178.72" width="6.51" height="7.17" fill="#1de2ff"/><rect x="347.92" y="178.72" width="6.51" height="7.17" fill="#22ddff"/><rect x="354.38" y="178.72" width="6.51" height="7.17" fill="#28d7ff"/><rect x="360.84" y="178.72" width="6.51" height="7.17" fill="#2ed1ff"/><rect x="367.30" y="178.72" width="6.51" height="7.17" fill="#35caff"/><rect x="373.76" y="178.72" width="6.51" height="7.17" fill="#3dc2ff"/><rect x="380.22" y="178.72" width="6.51" height="7.17" fill="#45baff"/><rect x="386.68" y="178.72" width="6.51" height="7.17" fill="#4db2ff"/><rect x="393.14" y="178.72" width="6.51" height="7.17" fill="#55aaff"/><rect x="399.60" y="178.72" width="6.51" height="7.17" fill="#5da2ff"/><rect x="406.06" y="178.72" width="6.51" height="7.17" fill="#649bff"/><rect x="412.52" y="178.72" width="6.51" height="7.17" fill="#6b94ff"/><rect x="418.98" y="178.72" width="6.51" height="7.17" fill="#728dff"/><rect x="425.44" y="178.72" width="6.51" height="7.17" fill="#7887ff"/><rect x="431.90" y="178.72" width="6.51" height="7.17" fill="#7d82ff"/><rect x="438.36" y="178.72" width="6.51" height="7.17" fill="#817eff"/><rect x="444.82" y="178.72" width="6.51" height="7.17" fill="#857aff"/><rect x="451.28" y="178.72" width="6.51" height="7.17" fill="#8976ff"/><rect x="457.74" y="178.72" width="6.51" height="7.17" fill="#8b74ff"/><rect x="464.20" y="178.72" width="6.51" height="7.17" fill="#8e71ff"/><rect x="470.66" y="178.72" width="6.51" height="7.17" fill="#8f70ff"/><rect x="477.12" y="178.72" width="6.51" height="7.17" fill="#916eff"/><rect x="483.58" y="178.72" width="6.51" height="7.17" fill="#926dff"/><rect x="490.04" y="178.72" width="19.43" height="7.17" fill="#936cff"/><rect x="509.42" y="178.72" width="6.51" height="7.17" fill="#926dff"/><rect x="515.88" y="178.72" width="6.51" height="7.17" fill="#906fff"/><rect x="522.34" y="178.72" width="6.51" height="7.17" fill="#8e71ff"/><rect x="528.80" y="178.72" width="6.51" height="7.17" fill="#8c73ff"/><rect x="535.26" y="178.72" width="6.51" height="7.17" fill="#8877ff"/><rect x="541.72" y="178.72" width="6.51" height="7.17" fill="#847bff"/><rect x="548.18" y="178.72" width="6.51" height="7.17" fill="#7f80ff"/><rect x="554.64" y="178.72" width="6.51" height="7.17" fill="#7986ff"/><rect x="561.10" y="178.72" width="6.51" height="7.17" fill="#728dff"/><rect x="567.56" y="178.72" width="6.51" height="7.17" fill="#6a95ff"/><rect x="574.02" y="178.72" width="6.51" height="7.17" fill="#619eff"/><rect x="580.48" y="178.72" width="6.51" height="7.17" fill="#57a8ff"/><rect x="586.94" y="178.72" width="6.51" height="7.17" fill="#4cb3ff"/><rect x="593.40" y="178.72" width="6.51" height="7.17" fill="#41beff"/><rect x="599.86" y="178.72" width="6.51" height="7.17" fill="#36c9ff"/><rect x="606.32" y="178.72" width="6.51" height="7.17" fill="#2bd4ff"/><rect x="612.78" y="178.72" width="6.51" height="7.17" fill="#21deff"/><rect x="619.24" y="178.72" width="6.51" height="7.17" fill="#19e6ff"/><rect x="625.70" y="178.72" width="6.51" height="7.17" fill="#12edff"/><rect x="632.16" y="178.72" width="6.51" height="7.17" fill="#0cf3ff"/><rect x="638.62" y="178.72" width="6.51" height="7.17" fill="#08f7ff"/><rect x="645.08" y="178.72" width="6.51" height="7.17" fill="#05faff"/><rect x="651.54" y="178.72" width="6.51" height="7.17" fill="#03fcff"/><rect x="658.00" y="178.72" width="6.51" height="7.17" fill="#02fdff"/><rect x="664.46" y="178.72" width="6.51" height="7.17" fill="#01feff"/><rect x="231.64" y="185.85" width="19.43" height="7.17" fill="#01feff"/><rect x="251.02" y="185.85" width="12.97" height="7.17" fill="#02fdff"/><rect x="263.94" y="185.85" width="6.51" height="7.17" fill="#03fcff"/><rect x="270.40" y="185.85" width="6.51" height="7.17" fill="#04fbff"/><rect x="276.86" y="185.85" width="6.51" height="7.17" fill="#05faff"/><rect x="283.32" y="185.85" width="6.51" height="7.17" fill="#07f8ff"/><rect x="289.78" y="185.85" width="6.51" height="7.17" fill="#09f6ff"/><rect x="296.24" y="185.85" width="6.51" height="7.17" fill="#0cf3ff"/><rect x="302.70" y="185.85" width="6.51" height="7.17" fill="#0ef1ff"/><rect x="309.16" y="185.85" width="6.51" height="7.17" fill="#12edff"/><rect x="315.62" y="185.85" width="6.51" height="7.17" fill="#16e9ff"/><rect x="322.08" y="185.85" width="6.51" height="7.17" fill="#1ae5ff"/><rect x="328.54" y="185.85" width="6.51" height="7.17" fill="#1fe0ff"/><rect x="335.00" y="185.85" width="6.51" height="7.17" fill="#24dbff"/><rect x="341.46" y="185.85" width="6.51" height="7.17" fill="#2ad5ff"/><rect x="347.92" y="185.85" width="6.51" height="7.17" fill="#31ceff"/><rect x="354.38" y="185.85" width="6.51" height="7.17" fill="#38c7ff"/><rect x="360.84" y="185.85" width="6.51" height="7.17" fill="#40bfff"/><rect x="367.30" y="185.85" width="6.51" height="7.17" fill="#48b7ff"/><rect x="373.76" y="185.85" width="6.51" height="7.17" fill="#50afff"/><rect x="380.22" y="185.85" width="6.51" height="7.17" fill="#59a6ff"/><rect x="386.68" y="185.85" width="6.51" height="7.17" fill="#619eff"/><rect x="393.14" y="185.85" width="6.51" height="7.17" fill="#6a95ff"/><rect x="399.60" y="185.85" width="6.51" height="7.17" fill="#728dff"/><rect x="406.06" y="185.85" width="6.51" height="7.17" fill="#7986ff"/><rect x="412.52" y="185.85" width="6.51" height="7.17" fill="#7f80ff"/><rect x="418.98" y="185.85" width="6.51" height="7.17" fill="#857aff"/><rect x="425.44" y="185.85" width="6.51" height="7.17" fill="#8a75ff"/><rect x="431.90" y="185.85" width="6.51" height="7.17" fill="#8f70ff"/><rect x="438.36" y="185.85" width="6.51" height="7.17" fill="#926dff"/><rect x="444.82" y="185.85" width="6.51" height="7.17" fill="#956aff"/><rect x="451.28" y="185.85" width="6.51" height="7.17" fill="#9768ff"/><rect x="457.74" y="185.85" width="6.51" height="7.17" fill="#9966ff"/><rect x="464.20" y="185.85" width="6.51" height="7.17" fill="#9a65ff"/><rect x="470.66" y="185.85" width="32.35" height="7.17" fill="#9b64ff"/><rect x="502.96" y="185.85" width="6.51" height="7.17" fill="#9a65ff"/><rect x="509.42" y="185.85" width="6.51" height="7.17" fill="#9867ff"/><rect x="515.88" y="185.85" width="6.51" height="7.17" fill="#9669ff"/><rect x="522.34" y="185.85" width="6.51" height="7.17" fill="#946bff"/><rect x="528.80" y="185.85" width="6.51" height="7.17" fill="#916eff"/><rect x="535.26" y="185.85" width="6.51" height="7.17" fill="#8e71ff"/><rect x="541.72" y="185.85" width="6.51" height="7.17" fill="#8a75ff"/><rect x="548.18" y="185.85" width="6.51" height="7.17" fill="#857aff"/><rect x="554.64" y="185.85" width="6.51" height="7.17" fill="#7f80ff"/><rect x="561.10" y="185.85" width="6.51" height="7.17" fill="#7887ff"/><rect x="567.56" y="185.85" width="6.51" height="7.17" fill="#718eff"/><rect x="574.02" y="185.85" width="6.51" height="7.17" fill="#6897ff"/><rect x="580.48" y="185.85" width="6.51" height="7.17" fill="#5fa0ff"/><rect x="586.94" y="185.85" width="6.51" height="7.17" fill="#54abff"/><rect x="593.40" y="185.85" width="6.51" height="7.17" fill="#49b6ff"/><rect x="599.86" y="185.85" width="6.51" height="7.17" fill="#3ec1ff"/><rect x="606.32" y="185.85" width="6.51" height="7.17" fill="#33ccff"/><rect x="612.78" y="185.85" width="6.51" height="7.17" fill="#28d7ff"/><rect x="619.24" y="185.85" width="6.51" height="7.17" fill="#1fe0ff"/><rect x="625.70" y="185.85" width="6.51" height="7.17" fill="#17e8ff"/><rect x="632.16" y="185.85" width="6.51" height="7.17" fill="#10efff"/><rect x="638.62" y="185.85" width="6.51" height="7.17" fill="#0bf4ff"/><rect x="645.08" y="185.85" width="6.51" height="7.17" fill="#07f8ff"/><rect x="651.54" y="185.85" width="6.51" height="7.17" fill="#04fbff"/><rect x="658.00" y="185.85" width="6.51" height="7.17" fill="#03fcff"/><rect x="664.46" y="185.85" width="12.97" height="7.17" fill="#01feff"/><rect x="218.72" y="192.97" width="19.43" height="7.17" fill="#01feff"/><rect x="238.10" y="192.97" width="12.97" height="7.17" fill="#02fdff"/><rect x="251.02" y="192.97" width="6.51" height="7.17" fill="#03fcff"/><rect x="257.48" y="192.97" width="6.51" height="7.17" fill="#04fbff"/><rect x="263.94" y="192.97" width="6.51" height="7.17" fill="#06f9ff"/><rect x="270.40" y="192.97" width="6.51" height="7.17" fill="#08f7ff"/><rect x="276.86" y="192.97" width="6.51" height="7.17" fill="#0af5ff"/><rect x="283.32" y="192.97" width="6.51" height="7.17" fill="#0cf3ff"/><rect x="289.78" y="192.97" width="6.51" height="7.17" fill="#0ff0ff"/><rect x="296.24" y="192.97" width="6.51" height="7.17" fill="#13ecff"/><rect x="302.70" y="192.97" width="6.51" height="7.17" fill="#17e8ff"/><rect x="309.16" y="192.97" width="6.51" height="7.17" fill="#1ce3ff"/><rect x="315.62" y="192.97" width="6.51" height="7.17" fill="#21deff"/><rect x="322.08" y="192.97" width="6.51" height="7.17" fill="#27d8ff"/><rect x="328.54" y="192.97" width="6.51" height="7.17" fill="#2dd2ff"/><rect x="335.00" y="192.97" width="6.51" height="7.17" fill="#34cbff"/><rect x="341.46" y="192.97" width="6.51" height="7.17" fill="#3bc4ff"/><rect x="347.92" y="192.97" width="6.51" height="7.17" fill="#43bcff"/><rect x="354.38" y="192.97" width="6.51" height="7.17" fill="#4bb4ff"/><rect x="360.84" y="192.97" width="6.51" height="7.17" fill="#54abff"/><rect x="367.30" y="192.97" width="6.51" height="7.17" fill="#5da2ff"/><rect x="373.76" y="192.97" width="6.51" height="7.17" fill="#6699ff"/><rect x="380.22" y="192.97" width="6.51" height="7.17" fill="#6e91ff"/><rect x="386.68" y="192.97" width="6.51" height="7.17" fill="#7788ff"/><rect x="393.14" y="192.97" width="6.51" height="7.17" fill="#7f80ff"/><rect x="399.60" y="192.97" width="6.51" height="7.17" fill="#8679ff"/><rect x="406.06" y="192.97" width="6.51" height="7.17" fill="#8d72ff"/><rect x="412.52" y="192.97" width="6.51" height="7.17" fill="#936cff"/><rect x="418.98" y="192.97" width="6.51" height="7.17" fill="#9867ff"/><rect x="425.44" y="192.97" width="6.51" height="7.17" fill="#9c63ff"/><rect x="431.90" y="192.97" width="6.51" height="7.17" fill="#9f60ff"/><rect x="438.36" y="192.97" width="6.51" height="7.17" fill="#a15eff"/><rect x="444.82" y="192.97" width="6.51" height="7.17" fill="#a35cff"/><rect x="451.28" y="192.97" width="6.51" height="7.17" fill="#a45bff"/><rect x="457.74" y="192.97" width="19.43" height="7.17" fill="#a55aff"/><rect x="477.12" y="192.97" width="12.97" height="7.17" fill="#a45bff"/><rect x="490.04" y="192.97" width="6.51" height="7.17" fill="#a35cff"/><rect x="496.50" y="192.97" width="6.51" height="7.17" fill="#a25dff"/><rect x="502.96" y="192.97" width="6.51" height="7.17" fill="#a05fff"/><rect x="509.42" y="192.97" width="6.51" height="7.17" fill="#9e61ff"/><rect x="515.88" y="192.97" width="6.51" height="7.17" fill="#9c63ff"/><rect x="522.34" y="192.97" width="6.51" height="7.17" fill="#9966ff"/><rect x="528.80" y="192.97" width="6.51" height="7.17" fill="#9669ff"/><rect x="535.26" y="192.97" width="6.51" height="7.17" fill="#936cff"/><rect x="541.72" y="192.97" width="6.51" height="7.17" fill="#8f70ff"/><rect x="548.18" y="192.97" width="6.51" height="7.17" fill="#8a75ff"/><rect x="554.64" y="192.97" width="6.51" height="7.17" fill="#857aff"/><rect x="561.10" y="192.97" width="6.51" height="7.17" fill="#7f80ff"/><rect x="567.56" y="192.97" width="6.51" height="7.17" fill="#7887ff"/><rect x="574.02" y="192.97" width="6.51" height="7.17" fill="#708fff"/><rect x="580.48" y="192.97" width="6.51" height="7.17" fill="#6798ff"/><rect x="586.94" y="192.97" width="6.51" height="7.17" fill="#5da2ff"/><rect x="593.40" y="192.97" width="6.51" height="7.17" fill="#52adff"/><rect x="599.86" y="192.97" width="6.51" height="7.17" fill="#47b8ff"/><rect x="606.32" y="192.97" width="6.51" height="7.17" fill="#3bc4ff"/><rect x="612.78" y="192.97" width="6.51" height="7.17" fill="#30cfff"/><rect x="619.24" y="192.97" width="6.51" height="7.17" fill="#26d9ff"/><rect x="625.70" y="192.97" width="6.51" height="7.17" fill="#1de2ff"/><rect x="632.16" y="192.97" width="6.51" height="7.17" fill="#15eaff"/><rect x="638.62" y="192.97" width="6.51" height="7.17" fill="#0ef1ff"/><rect x="645.08" y="192.97" width="6.51" height="7.17" fill="#09f6ff"/><rect x="651.54" y="192.97" width="6.51" height="7.17" fill="#06f9ff"/><rect x="658.00" y="192.97" width="6.51" height="7.17" fill="#04fbff"/><rect x="664.46" y="192.97" width="6.51" height="7.17" fill="#02fdff"/><rect x="670.92" y="192.97" width="12.97" height="7.17" fill="#01feff"/><rect x="205.80" y="200.10" width="19.43" height="7.17" fill="#01feff"/><rect x="225.18" y="200.10" width="12.97" height="7.17" fill="#02fdff"/><rect x="238.10" y="200.10" width="6.51" height="7.17" fill="#03fcff"/><rect x="244.56" y="200.10" width="6.51" height="7.17" fill="#05faff"/><rect x="251.02" y="200.10" width="6.51" height="7.17" fill="#06f9ff"/><rect x="257.48" y="200.10" width="6.51" height="7.17" fill="#08f7ff"/><rect x="263.94" y="200.10" width="6.51" height="7.17" fill="#0af5ff"/><rect x="270.40" y="200.10" width="6.51" height="7.17" fill="#0df2ff"/><rect x="276.86" y="200.10" width="6.51" height="7.17" fill="#10efff"/><rect x="283.32" y="200.10" width="6.51" height="7.17" fill="#14ebff"/><rect x="289.78" y="200.10" width="6.51" height="7.17" fill="#19e6ff"/><rect x="296.24" y="200.10" width="6.51" height="7.17" fill="#1ee1ff"/><rect x="302.70" y="200.10" width="6.51" height="7.17" fill="#24dbff"/><rect x="309.16" y="200.10" width="6.51" height="7.17" fill="#2ad5ff"/><rect x="315.62" y="200.10" width="6.51" height="7.17" fill="#30cfff"/><rect x="322.08" y="200.10" width="6.51" height="7.17" fill="#38c7ff"/><rect x="328.54" y="200.10" width="6.51" height="7.17" fill="#3fc0ff"/><rect x="335.00" y="200.10" width="6.51" height="7.17" fill="#47b8ff"/><rect x="341.46" y="200.10" width="6.51" height="7.17" fill="#4fb0ff"/><rect x="347.92" y="200.10" width="6.51" height="7.17" fill="#58a7ff"/><rect x="354.38" y="200.10" width="6.51" height="7.17" fill="#619eff"/><rect x="360.84" y="200.10" width="6.51" height="7.17" fill="#6a95ff"/><rect x="367.30" y="200.10" width="6.51" height="7.17" fill="#738cff"/><rect x="373.76" y="200.10" width="6.51" height="7.17" fill="#7c83ff"/><rect x="380.22" y="200.10" width="6.51" height="7.17" fill="#847bff"/><rect x="386.68" y="200.10" width="6.51" height="7.17" fill="#8d72ff"/><rect x="393.14" y="200.10" width="6.51" height="7.17" fill="#946bff"/><rect x="399.60" y="200.10" width="6.51" height="7.17" fill="#9a65ff"/><rect x="406.06" y="200.10" width="6.51" height="7.17" fill="#a05fff"/><rect x="412.52" y="200.10" width="6.51" height="7.17" fill="#a55aff"/><rect x="418.98" y="200.10" width="6.51" height="7.17" fill="#a857ff"/><rect x="425.44" y="200.10" width="6.51" height="7.17" fill="#ab54ff"/><rect x="431.90" y="200.10" width="6.51" height="7.17" fill="#ad52ff"/><rect x="438.36" y="200.10" width="32.35" height="7.17" fill="#af50ff"/><rect x="470.66" y="200.10" width="6.51" height="7.17" fill="#ae51ff"/><rect x="477.12" y="200.10" width="6.51" height="7.17" fill="#ad52ff"/><rect x="483.58" y="200.10" width="6.51" height="7.17" fill="#ab54ff"/><rect x="490.04" y="200.10" width="6.51" height="7.17" fill="#aa55ff"/><rect x="496.50" y="200.10" width="6.51" height="7.17" fill="#a857ff"/><rect x="502.96" y="200.10" width="6.51" height="7.17" fill="#a659ff"/><rect x="509.42" y="200.10" width="6.51" height="7.17" fill="#a35cff"/><rect x="515.88" y="200.10" width="6.51" height="7.17" fill="#a15eff"/><rect x="522.34" y="200.10" width="6.51" height="7.17" fill="#9e61ff"/><rect x="528.80" y="200.10" width="6.51" height="7.17" fill="#9b64ff"/><rect x="535.26" y="200.10" width="6.51" height="7.17" fill="#9768ff"/><rect x="541.72" y="200.10" width="6.51" height="7.17" fill="#936cff"/><rect x="548.18" y="200.10" width="6.51" height="7.17" fill="#8f70ff"/><rect x="554.64" y="200.10" width="6.51" height="7.17" fill="#8a75ff"/><rect x="561.10" y="200.10" width="6.51" height="7.17" fill="#847bff"/><rect x="567.56" y="200.10" width="6.51" height="7.17" fill="#7e81ff"/><rect x="574.02" y="200.10" width="6.51" height="7.17" fill="#7689ff"/><rect x="580.48" y="200.10" width="6.51" height="7.17" fill="#6e91ff"/><rect x="586.94" y="200.10" width="6.51" height="7.17" fill="#659aff"/><rect x="593.40" y="200.10" width="6.51" height="7.17" fill="#5ba4ff"/><rect x="599.86" y="200.10" width="6.51" height="7.17" fill="#50afff"/><rect x="606.32" y="200.10" width="6.51" height="7.17" fill="#44bbff"/><rect x="612.78" y="200.10" width="6.51" height="7.17" fill="#38c7ff"/><rect x="619.24" y="200.10" width="6.51" height="7.17" fill="#2dd2ff"/><rect x="625.70" y="200.10" width="6.51" height="7.17" fill="#23dcff"/><rect x="632.16" y="200.10" width="6.51" height="7.17" fill="#1ae5ff"/><rect x="638.62" y="200.10" width="6.51" height="7.17" fill="#12edff"/><rect x="645.08" y="200.10" width="6.51" height="7.17" fill="#0cf3ff"/><rect x="651.54" y="200.10" width="6.51" height="7.17" fill="#08f7ff"/><rect x="658.00" y="200.10" width="6.51" height="7.17" fill="#05faff"/><rect x="664.46" y="200.10" width="6.51" height="7.17" fill="#03fcff"/><rect x="670.92" y="200.10" width="6.51" height="7.17" fill="#02fdff"/><rect x="677.38" y="200.10" width="6.51" height="7.17" fill="#01feff"/><rect x="192.88" y="207.22" width="19.43" height="7.17" fill="#01feff"/><rect x="212.26" y="207.22" width="6.51" height="7.17" fill="#02fdff"/><rect x="218.72" y="207.22" width="6.51" height="7.17" fill="#03fcff"/><rect x="225.18" y="207.22" width="6.51" height="7.17" fill="#04fbff"/><rect x="231.64" y="207.22" width="6.51" height="7.17" fill="#05faff"/><rect x="238.10" y="207.22" width="6.51" height="7.17" fill="#06f9ff"/><rect x="244.56" y="207.22" width="6.51" height="7.17" fill="#08f7ff"/><rect x="251.02" y="207.22" width="6.51" height="7.17" fill="#0bf4ff"/><rect x="257.48" y="207.22" width="6.51" height="7.17" fill="#0ef1ff"/><rect x="263.94" y="207.22" width="6.51" height="7.17" fill="#11eeff"/><rect x="270.40" y="207.22" width="6.51" height="7.17" fill="#16e9ff"/><rect x="276.86" y="207.22" width="6.51" height="7.17" fill="#1ae5ff"/><rect x="283.32" y="207.22" width="6.51" height="7.17" fill="#20dfff"/><rect x="289.78" y="207.22" width="6.51" height="7.17" fill="#26d9ff"/><rect x="296.24" y="207.22" width="6.51" height="7.17" fill="#2dd2ff"/><rect x="302.70" y="207.22" width="6.51" height="7.17" fill="#34cbff"/><rect x="309.16" y="207.22" width="6.51" height="7.17" fill="#3bc4ff"/><rect x="315.62" y="207.22" width="6.51" height="7.17" fill="#43bcff"/><rect x="322.08" y="207.22" width="6.51" height="7.17" fill="#4cb3ff"/><rect x="328.54" y="207.22" width="6.51" height="7.17" fill="#54abff"/><rect x="335.00" y="207.22" width="6.51" height="7.17" fill="#5da2ff"/><rect x="341.46" y="207.22" width="6.51" height="7.17" fill="#6699ff"/><rect x="347.92" y="207.22" width="6.51" height="7.17" fill="#6f90ff"/><rect x="354.38" y="207.22" width="6.51" height="7.17" fill="#7887ff"/><rect x="360.84" y="207.22" width="6.51" height="7.17" fill="#817eff"/><rect x="367.30" y="207.22" width="6.51" height="7.17" fill="#8976ff"/><rect x="373.76" y="207.22" width="6.51" height="7.17" fill="#926dff"/><rect x="380.22" y="207.22" width="6.51" height="7.17" fill="#9a65ff"/><rect x="386.68" y="207.22" width="6.51" height="7.17" fill="#a15eff"/><rect x="393.14" y="207.22" width="6.51" height="7.17" fill="#a758ff"/><rect x="399.60" y="207.22" width="6.51" height="7.17" fill="#ad52ff"/><rect x="406.06" y="207.22" width="6.51" height="7.17" fill="#b14eff"/><rect x="412.52" y="207.22" width="6.51" height="7.17" fill="#b44bff"/><rect x="418.98" y="207.22" width="6.51" height="7.17" fill="#b748ff"/><rect x="425.44" y="207.22" width="6.51" height="7.17" fill="#b946ff"/><rect x="431.90" y="207.22" width="19.43" height="7.17" fill="#ba45ff"/><rect x="451.28" y="207.22" width="6.51" height="7.17" fill="#b946ff"/><rect x="457.74" y="207.22" width="6.51" height="7.17" fill="#b847ff"/><rect x="464.20" y="207.22" width="6.51" height="7.17" fill="#b748ff"/><rect x="470.66" y="207.22" width="6.51" height="7.17" fill="#b54aff"/><rect x="477.12" y="207.22" width="6.51" height="7.17" fill="#b44bff"/><rect x="483.58" y="207.22" width="6.51" height="7.17" fill="#b24dff"/><rect x="490.04" y="207.22" width="6.51" height="7.17" fill="#b04fff"/><rect x="496.50" y="207.22" width="6.51" height="7.17" fill="#ad52ff"/><rect x="502.96" y="207.22" width="6.51" height="7.17" fill="#ab54ff"/><rect x="509.42" y="207.22" width="6.51" height="7.17" fill="#a857ff"/><rect x="515.88" y="207.22" width="6.51" height="7.17" fill="#a55aff"/><rect x="522.34" y="207.22" width="6.51" height="7.17" fill="#a25dff"/><rect x="528.80" y="207.22" width="6.51" height="7.17" fill="#9f60ff"/><rect x="535.26" y="207.22" width="6.51" height="7.17" fill="#9b64ff"/><rect x="541.72" y="207.22" width="6.51" height="7.17" fill="#9768ff"/><rect x="548.18" y="207.22" width="6.51" height="7.17" fill="#936cff"/><rect x="554.64" y="207.22" width="6.51" height="7.17" fill="#8e71ff"/><rect x="561.10" y="207.22" width="6.51" height="7.17" fill="#8976ff"/><rect x="567.56" y="207.22" width="6.51" height="7.17" fill="#837cff"/><rect x="574.02" y="207.22" width="6.51" height="7.17" fill="#7d82ff"/><rect x="580.48" y="207.22" width="6.51" height="7.17" fill="#758aff"/><rect x="586.94" y="207.22" width="6.51" height="7.17" fill="#6c93ff"/><rect x="593.40" y="207.22" width="6.51" height="7.17" fill="#639cff"/><rect x="599.86" y="207.22" width="6.51" height="7.17" fill="#58a7ff"/><rect x="606.32" y="207.22" width="6.51" height="7.17" fill="#4cb3ff"/><rect x="612.78" y="207.22" width="6.51" height="7.17" fill="#41beff"/><rect x="619.24" y="207.22" width="6.51" height="7.17" fill="#35caff"/><rect x="625.70" y="207.22" width="6.51" height="7.17" fill="#2ad5ff"/><rect x="632.16" y="207.22" width="6.51" height="7.17" fill="#20dfff"/><rect x="638.62" y="207.22" width="6.51" height="7.17" fill="#17e8ff"/><rect x="645.08" y="207.22" width="6.51" height="7.17" fill="#10efff"/><rect x="651.54" y="207.22" width="6.51" height="7.17" fill="#0af5ff"/><rect x="658.00" y="207.22" width="6.51" height="7.17" fill="#07f8ff"/><rect x="664.46" y="207.22" width="6.51" height="7.17" fill="#04fbff"/><rect x="670.92" y="207.22" width="6.51" height="7.17" fill="#02fdff"/><rect x="677.38" y="207.22" width="12.97" height="7.17" fill="#01feff"/><rect x="179.96" y="214.35" width="19.43" height="7.17" fill="#01feff"/><rect x="199.34" y="214.35" width="6.51" height="7.17" fill="#02fdff"/><rect x="205.80" y="214.35" width="6.51" height="7.17" fill="#03fcff"/><rect x="212.26" y="214.35" width="6.51" height="7.17" fill="#04fbff"/><rect x="218.72" y="214.35" width="6.51" height="7.17" fill="#05faff"/><rect x="225.18" y="214.35" width="6.51" height="7.17" fill="#07f8ff"/><rect x="231.64" y="214.35" width="6.51" height="7.17" fill="#09f6ff"/><rect x="238.10" y="214.35" width="6.51" height="7.17" fill="#0bf4ff"/><rect x="244.56" y="214.35" width="6.51" height="7.17" fill="#0ef1ff"/><rect x="251.02" y="214.35" width="6.51" height="7.17" fill="#12edff"/><rect x="257.48" y="214.35" width="6.51" height="7.17" fill="#17e8ff"/><rect x="263.94" y="214.35" width="6.51" height="7.17" fill="#1ce3ff"/><rect x="270.40" y="214.35" width="6.51" height="7.17" fill="#21deff"/><rect x="276.86" y="214.35" width="6.51" height="7.17" fill="#28d7ff"/><rect x="283.32" y="214.35" width="6.51" height="7.17" fill="#2fd0ff"/><rect x="289.78" y="214.35" width="6.51" height="7.17" fill="#37c8ff"/><rect x="296.24" y="214.35" width="6.51" height="7.17" fill="#3fc0ff"/><rect x="302.70" y="214.35" width="6.51" height="7.17" fill="#48b7ff"/><rect x="309.16" y="214.35" width="6.51" height="7.17" fill="#51aeff"/><rect x="315.62" y="214.35" width="6.51" height="7.17" fill="#5aa5ff"/><rect x="322.08" y="214.35" width="6.51" height="7.17" fill="#639cff"/><rect x="328.54" y="214.35" width="6.51" height="7.17" fill="#6c93ff"/><rect x="335.00" y="214.35" width="6.51" height="7.17" fill="#758aff"/><rect x="341.46" y="214.35" width="6.51" height="7.17" fill="#7e81ff"/><rect x="347.92" y="214.35" width="6.51" height="7.17" fill="#8679ff"/><rect x="354.38" y="214.35" width="6.51" height="7.17" fill="#8f70ff"/><rect x="360.84" y="214.35" width="6.51" height="7.17" fill="#9768ff"/><rect x="367.30" y="214.35" width="6.51" height="7.17" fill="#9f60ff"/><rect x="373.76" y="214.35" width="6.51" height="7.17" fill="#a659ff"/><rect x="380.22" y="214.35" width="6.51" height="7.17" fill="#ad52ff"/><rect x="386.68" y="214.35" width="6.51" height="7.17" fill="#b34cff"/><rect x="393.14" y="214.35" width="6.51" height="7.17" fill="#b847ff"/><rect x="399.60" y="214.35" width="6.51" height="7.17" fill="#bc43ff"/><rect x="406.06" y="214.35" width="6.51" height="7.17" fill="#bf40ff"/><rect x="412.52" y="214.35" width="6.51" height="7.17" fill="#c23dff"/><rect x="418.98" y="214.35" width="6.51" height="7.17" fill="#c33cff"/><rect x="425.44" y="214.35" width="19.43" height="7.17" fill="#c43bff"/><rect x="444.82" y="214.35" width="6.51" height="7.17" fill="#c33cff"/><rect x="451.28" y="214.35" width="6.51" height="7.17" fill="#c13eff"/><rect x="457.74" y="214.35" width="6.51" height="7.17" fill="#c03fff"/><rect x="464.20" y="214.35" width="6.51" height="7.17" fill="#be41ff"/><rect x="470.66" y="214.35" width="6.51" height="7.17" fill="#bc43ff"/><rect x="477.12" y="214.35" width="6.51" height="7.17" fill="#ba45ff"/><rect x="483.58" y="214.35" width="6.51" height="7.17" fill="#b847ff"/><rect x="490.04" y="214.35" width="6.51" height="7.17" fill="#b54aff"/><rect x="496.50" y="214.35" width="6.51" height="7.17" fill="#b24dff"/><rect x="502.96" y="214.35" width="6.51" height="7.17" fill="#af50ff"/><rect x="509.42" y="214.35" width="6.51" height="7.17" fill="#ad52ff"/><rect x="515.88" y="214.35" width="6.51" height="7.17" fill="#a956ff"/><rect x="522.34" y="214.35" width="6.51" height="7.17" fill="#a659ff"/><rect x="528.80" y="214.35" width="6.51" height="7.17" fill="#a35cff"/><rect x="535.26" y="214.35" width="6.51" height="7.17" fill="#9f60ff"/><rect x="541.72" y="214.35" width="6.51" height="7.17" fill="#9b64ff"/><rect x="548.18" y="214.35" width="6.51" height="7.17" fill="#9768ff"/><rect x="554.64" y="214.35" width="6.51" height="7.17" fill="#926dff"/><rect x="561.10" y="214.35" width="6.51" height="7.17" fill="#8d72ff"/><rect x="567.56" y="214.35" width="6.51" height="7.17" fill="#8877ff"/><rect x="574.02" y="214.35" width="6.51" height="7.17" fill="#827dff"/><rect x="580.48" y="214.35" width="6.51" height="7.17" fill="#7b84ff"/><rect x="586.94" y="214.35" width="6.51" height="7.17" fill="#738cff"/><rect x="593.40" y="214.35" width="6.51" height="7.17" fill="#6a95ff"/><rect x="599.86" y="214.35" width="6.51" height="7.17" fill="#5fa0ff"/><rect x="606.32" y="214.35" width="6.51" height="7.17" fill="#54abff"/><rect x="612.78" y="214.35" width="6.51" height="7.17" fill="#48b7ff"/><rect x="619.24" y="214.35" width="6.51" height="7.17" fill="#3cc3ff"/><rect x="625.70" y="214.35" width="6.51" height="7.17" fill="#30cfff"/><rect x="632.16" y="214.35" width="6.51" height="7.17" fill="#25daff"/><rect x="638.62" y="214.35" width="6.51" height="7.17" fill="#1ce3ff"/><rect x="645.08" y="214.35" width="6.51" height="7.17" fill="#14ebff"/><rect x="651.54" y="214.35" width="6.51" height="7.17" fill="#0df2ff"/><rect x="658.00" y="214.35" width="6.51" height="7.17" fill="#08f7ff"/><rect x="664.46" y="214.35" width="6.51" height="7.17" fill="#05faff"/><rect x="670.92" y="214.35" width="6.51" height="7.17" fill="#03fcff"/><rect x="677.38" y="214.35" width="6.51" height="7.17" fill="#02fdff"/><rect x="683.84" y="214.35" width="6.51" height="7.17" fill="#01feff"/><rect x="167.04" y="221.47" width="19.43" height="7.17" fill="#01feff"/><rect x="186.42" y="221.47" width="6.51" height="7.17" fill="#02fdff"/><rect x="192.88" y="221.47" width="6.51" height="7.17" fill="#03fcff"/><rect x="199.34" y="221.47" width="6.51" height="7.17" fill="#04fbff"/><rect x="205.80" y="221.47" width="6.51" height="7.17" fill="#05faff"/><rect x="212.26" y="221.47" width="6.51" height="7.17" fill="#07f8ff"/><rect x="218.72" y="221.47" width="6.51" height="7.17" fill="#09f6ff"/><rect x="225.18" y="221.47" width="6.51" height="7.17" fill="#0cf3ff"/><rect x="231.64" y="221.47" width="6.51" height="7.17" fill="#0ff0ff"/><rect x="238.10" y="221.47" width="6.51" height="7.17" fill="#13ecff"/><rect x="244.56" y="221.47" width="6.51" height="7.17" fill="#17e8ff"/><rect x="251.02" y="221.47" width="6.51" height="7.17" fill="#1de2ff"/><rect x="257.48" y="221.47" width="6.51" height="7.17" fill="#23dcff"/><rect x="263.94" y="221.47" width="6.51" height="7.17" fill="#2ad5ff"/><rect x="270.40" y="221.47" width="6.51" height="7.17" fill="#31ceff"/><rect x="276.86" y="221.47" width="6.51" height="7.17" fill="#3ac5ff"/><rect x="283.32" y="221.47" width="6.51" height="7.17" fill="#43bcff"/><rect x="289.78" y="221.47" width="6.51" height="7.17" fill="#4cb3ff"/><rect x="296.24" y="221.47" width="6.51" height="7.17" fill="#55aaff"/><rect x="302.70" y="221.47" width="6.51" height="7.17" fill="#5fa0ff"/><rect x="309.16" y="221.47" width="6.51" height="7.17" fill="#6996ff"/><rect x="315.62" y="221.47" width="6.51" height="7.17" fill="#728dff"/><rect x="322.08" y="221.47" width="6.51" height="7.17" fill="#7b84ff"/><rect x="328.54" y="221.47" width="6.51" height="7.17" fill="#847bff"/><rect x="335.00" y="221.47" width="6.51" height="7.17" fill="#8d72ff"/><rect x="341.46" y="221.47" width="6.51" height="7.17" fill="#956aff"/><rect x="347.92" y="221.47" width="6.51" height="7.17" fill="#9d62ff"/><rect x="354.38" y="221.47" width="6.51" height="7.17" fill="#a55aff"/><rect x="360.84" y="221.47" width="6.51" height="7.17" fill="#ac53ff"/><rect x="367.30" y="221.47" width="6.51" height="7.17" fill="#b34cff"/><rect x="373.76" y="221.47" width="6.51" height="7.17" fill="#b946ff"/><rect x="380.22" y="221.47" width="6.51" height="7.17" fill="#be41ff"/><rect x="386.68" y="221.47" width="6.51" height="7.17" fill="#c33cff"/><rect x="393.14" y="221.47" width="6.51" height="7.17" fill="#c738ff"/><rect x="399.60" y="221.47" width="6.51" height="7.17" fill="#ca35ff"/><rect x="406.06" y="221.47" width="6.51" height="7.17" fill="#cc33ff"/><rect x="412.52" y="221.47" width="19.43" height="7.17" fill="#cd32ff"/><rect x="431.90" y="221.47" width="6.51" height="7.17" fill="#cc33ff"/><rect x="438.36" y="221.47" width="6.51" height="7.17" fill="#cb34ff"/><rect x="444.82" y="221.47" width="6.51" height="7.17" fill="#ca35ff"/><rect x="451.28" y="221.47" width="6.51" height="7.17" fill="#c837ff"/><rect x="457.74" y="221.47" width="6.51" height="7.17" fill="#c639ff"/><rect x="464.20" y="221.47" width="6.51" height="7.17" fill="#c43bff"/><rect x="470.66" y="221.47" width="6.51" height="7.17" fill="#c23dff"/><rect x="477.12" y="221.47" width="6.51" height="7.17" fill="#bf40ff"/><rect x="483.58" y="221.47" width="6.51" height="7.17" fill="#bc43ff"/><rect x="490.04" y="221.47" width="6.51" height="7.17" fill="#ba45ff"/><rect x="496.50" y="221.47" width="6.51" height="7.17" fill="#b748ff"/><rect x="502.96" y="221.47" width="6.51" height="7.17" fill="#b34cff"/><rect x="509.42" y="221.47" width="6.51" height="7.17" fill="#b04fff"/><rect x="515.88" y="221.47" width="6.51" height="7.17" fill="#ad52ff"/><rect x="522.34" y="221.47" width="6.51" height="7.17" fill="#a956ff"/><rect x="528.80" y="221.47" width="6.51" height="7.17" fill="#a55aff"/><rect x="535.26" y="221.47" width="6.51" height="7.17" fill="#a25dff"/><rect x="541.72" y="221.47" width="6.51" height="7.17" fill="#9e61ff"/><rect x="548.18" y="221.47" width="6.51" height="7.17" fill="#9966ff"/><rect x="554.64" y="221.47" width="6.51" height="7.17" fill="#956aff"/><rect x="561.10" y="221.47" width="6.51" height="7.17" fill="#906fff"/><rect x="567.56" y="221.47" width="6.51" height="7.17" fill="#8b74ff"/><rect x="574.02" y="221.47" width="6.51" height="7.17" fill="#857aff"/><rect x="580.48" y="221.47" width="6.51" height="7.17" fill="#7f80ff"/><rect x="586.94" y="221.47" width="6.51" height="7.17" fill="#7887ff"/><rect x="593.40" y="221.47" width="6.51" height="7.17" fill="#6f90ff"/><rect x="599.86" y="221.47" width="6.51" height="7.17" fill="#659aff"/><rect x="606.32" y="221.47" width="6.51" height="7.17" fill="#5ba4ff"/><rect x="612.78" y="221.47" width="6.51" height="7.17" fill="#4fb0ff"/><rect x="619.24" y="221.47" width="6.51" height="7.17" fill="#43bcff"/><rect x="625.70" y="221.47" width="6.51" height="7.17" fill="#37c8ff"/><rect x="632.16" y="221.47" width="6.51" height="7.17" fill="#2bd4ff"/><rect x="638.62" y="221.47" width="6.51" height="7.17" fill="#20dfff"/><rect x="645.08" y="221.47" width="6.51" height="7.17" fill="#17e8ff"/><rect x="651.54" y="221.47" width="6.51" height="7.17" fill="#10efff"/><rect x="658.00" y="221.47" width="6.51" height="7.17" fill="#0bf4ff"/><rect x="664.46" y="221.47" width="6.51" height="7.17" fill="#07f8ff"/><rect x="670.92" y="221.47" width="6.51" height="7.17" fill="#04fbff"/><rect x="677.38" y="221.47" width="6.51" height="7.17" fill="#02fdff"/><rect x="683.84" y="221.47" width="12.97" height="7.17" fill="#01feff"/><rect x="160.58" y="228.60" width="12.97" height="7.17" fill="#01feff"/><rect x="173.50" y="228.60" width="6.51" height="7.17" fill="#02fdff"/><rect x="179.96" y="228.60" width="6.51" height="7.17" fill="#03fcff"/><rect x="186.42" y="228.60" width="6.51" height="7.17" fill="#04fbff"/><rect x="192.88" y="228.60" width="6.51" height="7.17" fill="#05faff"/><rect x="199.34" y="228.60" width="6.51" height="7.17" fill="#07f8ff"/><rect x="205.80" y="228.60" width="6.51" height="7.17" fill="#0af5ff"/><rect x="212.26" y="228.60" width="6.51" height="7.17" fill="#0cf3ff"/><rect x="218.72" y="228.60" width="6.51" height="7.17" fill="#10efff"/><rect x="225.18" y="228.60" width="6.51" height="7.17" fill="#14ebff"/><rect x="231.64" y="228.60" width="6.51" height="7.17" fill="#18e7ff"/><rect x="238.10" y="228.60" width="6.51" height="7.17" fill="#1ee1ff"/><rect x="244.56" y="228.60" width="6.51" height="7.17" fill="#24dbff"/><rect x="251.02" y="228.60" width="6.51" height="7.17" fill="#2bd4ff"/><rect x="257.48" y="228.60" width="6.51" height="7.17" fill="#33ccff"/><rect x="263.94" y="228.60" width="6.51" height="7.17" fill="#3cc3ff"/><rect x="270.40" y="228.60" width="6.51" height="7.17" fill="#46b9ff"/><rect x="276.86" y="228.60" width="6.51" height="7.17" fill="#4fb0ff"/><rect x="283.32" y="228.60" width="6.51" height="7.17" fill="#5aa5ff"/><rect x="289.78" y="228.60" width="6.51" height="7.17" fill="#649bff"/><rect x="296.24" y="228.60" width="6.51" height="7.17" fill="#6e91ff"/><rect x="302.70" y="228.60" width="6.51" height="7.17" fill="#7986ff"/><rect x="309.16" y="228.60" width="6.51" height="7.17" fill="#827dff"/><rect x="315.62" y="228.60" width="6.51" height="7.17" fill="#8c73ff"/><rect x="322.08" y="228.60" width="6.51" height="7.17" fill="#956aff"/><rect x="328.54" y="228.60" width="6.51" height="7.17" fill="#9d62ff"/><rect x="335.00" y="228.60" width="6.51" height="7.17" fill="#a55aff"/><rect x="341.46" y="228.60" width="6.51" height="7.17" fill="#ac53ff"/><rect x="347.92" y="228.60" width="6.51" height="7.17" fill="#b34cff"/><rect x="354.38" y="228.60" width="6.51" height="7.17" fill="#b946ff"/><rect x="360.84" y="228.60" width="6.51" height="7.17" fill="#bf40ff"/><rect x="367.30" y="228.60" width="6.51" height="7.17" fill="#c43bff"/><rect x="373.76" y="228.60" width="6.51" height="7.17" fill="#c936ff"/><rect x="380.22" y="228.60" width="6.51" height="7.17" fill="#cd32ff"/><rect x="386.68" y="228.60" width="6.51" height="7.17" fill="#d02fff"/><rect x="393.14" y="228.60" width="6.51" height="7.17" fill="#d32cff"/><rect x="399.60" y="228.60" width="6.51" height="7.17" fill="#d42bff"/><rect x="406.06" y="228.60" width="6.51" height="7.17" fill="#d52aff"/><rect x="412.52" y="228.60" width="6.51" height="7.17" fill="#d629ff"/><rect x="418.98" y="228.60" width="6.51" height="7.17" fill="#d52aff"/><rect x="425.44" y="228.60" width="6.51" height="7.17" fill="#d42bff"/><rect x="431.90" y="228.60" width="6.51" height="7.17" fill="#d32cff"/><rect x="438.36" y="228.60" width="6.51" height="7.17" fill="#d22dff"/><rect x="444.82" y="228.60" width="6.51" height="7.17" fill="#d02fff"/><rect x="451.28" y="228.60" width="6.51" height="7.17" fill="#ce31ff"/><rect x="457.74" y="228.60" width="6.51" height="7.17" fill="#cb34ff"/><rect x="464.20" y="228.60" width="6.51" height="7.17" fill="#c936ff"/><rect x="470.66" y="228.60" width="6.51" height="7.17" fill="#c639ff"/><rect x="477.12" y="228.60" width="6.51" height="7.17" fill="#c33cff"/><rect x="483.58" y="228.60" width="6.51" height="7.17" fill="#c03fff"/><rect x="490.04" y="228.60" width="6.51" height="7.17" fill="#bd42ff"/><rect x="496.50" y="228.60" width="6.51" height="7.17" fill="#ba45ff"/><rect x="502.96" y="228.60" width="6.51" height="7.17" fill="#b649ff"/><rect x="509.42" y="228.60" width="6.51" height="7.17" fill="#b34cff"/><rect x="515.88" y="228.60" width="6.51" height="7.17" fill="#af50ff"/><rect x="522.34" y="228.60" width="6.51" height="7.17" fill="#ac53ff"/><rect x="528.80" y="228.60" width="6.51" height="7.17" fill="#a857ff"/><rect x="535.26" y="228.60" width="6.51" height="7.17" fill="#a45bff"/><rect x="541.72" y="228.60" width="6.51" height="7.17" fill="#9f60ff"/><rect x="548.18" y="228.60" width="6.51" height="7.17" fill="#9b64ff"/><rect x="554.64" y="228.60" width="6.51" height="7.17" fill="#9768ff"/><rect x="561.10" y="228.60" width="6.51" height="7.17" fill="#926dff"/><rect x="567.56" y="228.60" width="6.51" height="7.17" fill="#8d72ff"/><rect x="574.02" y="228.60" width="6.51" height="7.17" fill="#8877ff"/><rect x="580.48" y="228.60" width="6.51" height="7.17" fill="#827dff"/><rect x="586.94" y="228.60" width="6.51" height="7.17" fill="#7b84ff"/><rect x="593.40" y="228.60" width="6.51" height="7.17" fill="#738cff"/><rect x="599.86" y="228.60" width="6.51" height="7.17" fill="#6a95ff"/><rect x="606.32" y="228.60" width="6.51" height="7.17" fill="#5fa0ff"/><rect x="612.78" y="228.60" width="6.51" height="7.17" fill="#54abff"/><rect x="619.24" y="228.60" width="6.51" height="7.17" fill="#48b7ff"/><rect x="625.70" y="228.60" width="6.51" height="7.17" fill="#3cc3ff"/><rect x="632.16" y="228.60" width="6.51" height="7.17" fill="#30cfff"/><rect x="638.62" y="228.60" width="6.51" height="7.17" fill="#25daff"/><rect x="645.08" y="228.60" width="6.51" height="7.17" fill="#1be4ff"/><rect x="651.54" y="228.60" width="6.51" height="7.17" fill="#13ecff"/><rect x="658.00" y="228.60" width="6.51" height="7.17" fill="#0df2ff"/><rect x="664.46" y="228.60" width="6.51" height="7.17" fill="#08f7ff"/><rect x="670.92" y="228.60" width="6.51" height="7.17" fill="#05faff"/><rect x="677.38" y="228.60" width="6.51" height="7.17" fill="#03fcff"/><rect x="683.84" y="228.60" width="12.97" height="7.17" fill="#01feff"/><rect x="154.12" y="235.72" width="12.97" height="7.17" fill="#01feff"/><rect x="167.04" y="235.72" width="6.51" height="7.17" fill="#02fdff"/><rect x="173.50" y="235.72" width="6.51" height="7.17" fill="#03fcff"/><rect x="179.96" y="235.72" width="6.51" height="7.17" fill="#05faff"/><rect x="186.42" y="235.72" width="6.51" height="7.17" fill="#07f8ff"/><rect x="192.88" y="235.72" width="6.51" height="7.17" fill="#09f6ff"/><rect x="199.34" y="235.72" width="6.51" height="7.17" fill="#0cf3ff"/><rect x="205.80" y="235.72" width="6.51" height="7.17" fill="#10efff"/><rect x="212.26" y="235.72" width="6.51" height="7.17" fill="#14ebff"/><rect x="218.72" y="235.72" width="6.51" height="7.17" fill="#19e6ff"/><rect x="225.18" y="235.72" width="6.51" height="7.17" fill="#1fe0ff"/><rect x="231.64" y="235.72" width="6.51" height="7.17" fill="#25daff"/><rect x="238.10" y="235.72" width="6.51" height="7.17" fill="#2dd2ff"/><rect x="244.56" y="235.72" width="6.51" height="7.17" fill="#35caff"/><rect x="251.02" y="235.72" width="6.51" height="7.17" fill="#3ec1ff"/><rect x="257.48" y="235.72" width="6.51" height="7.17" fill="#48b7ff"/><rect x="263.94" y="235.72" width="6.51" height="7.17" fill="#52adff"/><rect x="270.40" y="235.72" width="6.51" height="7.17" fill="#5da2ff"/><rect x="276.86" y="235.72" width="6.51" height="7.17" fill="#6897ff"/><rect x="283.32" y="235.72" width="6.51" height="7.17" fill="#748bff"/><rect x="289.78" y="235.72" width="6.51" height="7.17" fill="#7e81ff"/><rect x="296.24" y="235.72" width="6.51" height="7.17" fill="#8976ff"/><rect x="302.70" y="235.72" width="6.51" height="7.17" fill="#936cff"/><rect x="309.16" y="235.72" width="6.51" height="7.17" fill="#9c63ff"/><rect x="315.62" y="235.72" width="6.51" height="7.17" fill="#a55aff"/><rect x="322.08" y="235.72" width="6.51" height="7.17" fill="#ad52ff"/><rect x="328.54" y="235.72" width="6.51" height="7.17" fill="#b44bff"/><rect x="335.00" y="235.72" width="6.51" height="7.17" fill="#bb44ff"/><rect x="341.46" y="235.72" width="6.51" height="7.17" fill="#c13eff"/><rect x="347.92" y="235.72" width="6.51" height="7.17" fill="#c639ff"/><rect x="354.38" y="235.72" width="6.51" height="7.17" fill="#cb34ff"/><rect x="360.84" y="235.72" width="6.51" height="7.17" fill="#cf30ff"/><rect x="367.30" y="235.72" width="6.51" height="7.17" fill="#d32cff"/><rect x="373.76" y="235.72" width="6.51" height="7.17" fill="#d629ff"/><rect x="380.22" y="235.72" width="6.51" height="7.17" fill="#d926ff"/><rect x="386.68" y="235.72" width="6.51" height="7.17" fill="#db24ff"/><rect x="393.14" y="235.72" width="6.51" height="7.17" fill="#dc23ff"/><rect x="399.60" y="235.72" width="12.97" height="7.17" fill="#dd22ff"/><rect x="412.52" y="235.72" width="6.51" height="7.17" fill="#dc23ff"/><rect x="418.98" y="235.72" width="6.51" height="7.17" fill="#db24ff"/><rect x="425.44" y="235.72" width="6.51" height="7.17" fill="#da25ff"/><rect x="431.90" y="235.72" width="6.51" height="7.17" fill="#d827ff"/><rect x="438.36" y="235.72" width="6.51" height="7.17" fill="#d629ff"/><rect x="444.82" y="235.72" width="6.51" height="7.17" fill="#d42bff"/><rect x="451.28" y="235.72" width="6.51" height="7.17" fill="#d12eff"/><rect x="457.74" y="235.72" width="6.51" height="7.17" fill="#cf30ff"/><rect x="464.20" y="235.72" width="6.51" height="7.17" fill="#cc33ff"/><rect x="470.66" y="235.72" width="6.51" height="7.17" fill="#c936ff"/><rect x="477.12" y="235.72" width="6.51" height="7.17" fill="#c639ff"/><rect x="483.58" y="235.72" width="6.51" height="7.17" fill="#c33cff"/><rect x="490.04" y="235.72" width="6.51" height="7.17" fill="#c03fff"/><rect x="496.50" y="235.72" width="6.51" height="7.17" fill="#bc43ff"/><rect x="502.96" y="235.72" width="6.51" height="7.17" fill="#b847ff"/><rect x="509.42" y="235.72" width="6.51" height="7.17" fill="#b54aff"/><rect x="515.88" y="235.72" width="6.51" height="7.17" fill="#b14eff"/><rect x="522.34" y="235.72" width="6.51" height="7.17" fill="#ad52ff"/><rect x="528.80" y="235.72" width="6.51" height="7.17" fill="#a956ff"/><rect x="535.26" y="235.72" width="6.51" height="7.17" fill="#a45bff"/><rect x="541.72" y="235.72" width="6.51" height="7.17" fill="#a05fff"/><rect x="548.18" y="235.72" width="6.51" height="7.17" fill="#9c63ff"/><rect x="554.64" y="235.72" width="6.51" height="7.17" fill="#9768ff"/><rect x="561.10" y="235.72" width="6.51" height="7.17" fill="#926dff"/><rect x="567.56" y="235.72" width="6.51" height="7.17" fill="#8d72ff"/><rect x="574.02" y="235.72" width="6.51" height="7.17" fill="#8877ff"/><rect x="580.48" y="235.72" width="6.51" height="7.17" fill="#827dff"/><rect x="586.94" y="235.72" width="6.51" height="7.17" fill="#7c83ff"/><rect x="593.40" y="235.72" width="6.51" height="7.17" fill="#748bff"/><rect x="599.86" y="235.72" width="6.51" height="7.17" fill="#6c93ff"/><rect x="606.32" y="235.72" width="6.51" height="7.17" fill="#629dff"/><rect x="612.78" y="235.72" width="6.51" height="7.17" fill="#57a8ff"/><rect x="619.24" y="235.72" width="6.51" height="7.17" fill="#4cb3ff"/><rect x="625.70" y="235.72" width="6.51" height="7.17" fill="#40bfff"/><rect x="632.16" y="235.72" width="6.51" height="7.17" fill="#34cbff"/><rect x="638.62" y="235.72" width="6.51" height="7.17" fill="#28d7ff"/><rect x="645.08" y="235.72" width="6.51" height="7.17" fill="#1ee1ff"/><rect x="651.54" y="235.72" width="6.51" height="7.17" fill="#15eaff"/><rect x="658.00" y="235.72" width="6.51" height="7.17" fill="#0ef1ff"/><rect x="664.46" y="235.72" width="6.51" height="7.17" fill="#09f6ff"/><rect x="670.92" y="235.72" width="6.51" height="7.17" fill="#06f9ff"/><rect x="677.38" y="235.72" width="6.51" height="7.17" fill="#03fcff"/><rect x="683.84" y="235.72" width="6.51" height="7.17" fill="#02fdff"/><rect x="690.30" y="235.72" width="6.51" height="7.17" fill="#01feff"/><rect x="147.66" y="242.85" width="12.97" height="7.17" fill="#01feff"/><rect x="160.58" y="242.85" width="6.51" height="7.17" fill="#02fdff"/><rect x="167.04" y="242.85" width="6.51" height="7.17" fill="#04fbff"/><rect x="173.50" y="242.85" width="6.51" height="7.17" fill="#06f9ff"/><rect x="179.96" y="242.85" width="6.51" height="7.17" fill="#08f7ff"/><rect x="186.42" y="242.85" width="6.51" height="7.17" fill="#0bf4ff"/><rect x="192.88" y="242.85" width="6.51" height="7.17" fill="#0ff0ff"/><rect x="199.34" y="242.85" width="6.51" height="7.17" fill="#14ebff"/><rect x="205.80" y="242.85" width="6.51" height="7.17" fill="#19e6ff"/><rect x="212.26" y="242.85" width="6.51" height="7.17" fill="#1fe0ff"/><rect x="218.72" y="242.85" width="6.51" height="7.17" fill="#26d9ff"/><rect x="225.18" y="242.85" width="6.51" height="7.17" fill="#2ed1ff"/><rect x="231.64" y="242.85" width="6.51" height="7.17" fill="#36c9ff"/><rect x="238.10" y="242.85" width="6.51" height="7.17" fill="#3fc0ff"/><rect x="244.56" y="242.85" width="6.51" height="7.17" fill="#4ab5ff"/><rect x="251.02" y="242.85" width="6.51" height="7.17" fill="#54abff"/><rect x="257.48" y="242.85" width="6.51" height="7.17" fill="#609fff"/><rect x="263.94" y="242.85" width="6.51" height="7.17" fill="#6c93ff"/><rect x="270.40" y="242.85" width="6.51" height="7.17" fill="#7788ff"/><rect x="276.86" y="242.85" width="6.51" height="7.17" fill="#837cff"/><rect x="283.32" y="242.85" width="6.51" height="7.17" fill="#8f70ff"/><rect x="289.78" y="242.85" width="6.51" height="7.17" fill="#9966ff"/><rect x="296.24" y="242.85" width="6.51" height="7.17" fill="#a45bff"/><rect x="302.70" y="242.85" width="6.51" height="7.17" fill="#ad52ff"/><rect x="309.16" y="242.85" width="6.51" height="7.17" fill="#b54aff"/><rect x="315.62" y="242.85" width="6.51" height="7.17" fill="#bd42ff"/><rect x="322.08" y="242.85" width="6.51" height="7.17" fill="#c33cff"/><rect x="328.54" y="242.85" width="6.51" height="7.17" fill="#c936ff"/><rect x="335.00" y="242.85" width="6.51" height="7.17" fill="#ce31ff"/><rect x="341.46" y="242.85" width="6.51" height="7.17" fill="#d22dff"/><rect x="347.92" y="242.85" width="6.51" height="7.17" fill="#d629ff"/><rect x="354.38" y="242.85" width="6.51" height="7.17" fill="#da25ff"/><rect x="360.84" y="242.85" width="6.51" height="7.17" fill="#dd22ff"/><rect x="367.30" y="242.85" width="6.51" height="7.17" fill="#df20ff"/><rect x="373.76" y="242.85" width="6.51" height="7.17" fill="#e11eff"/><rect x="380.22" y="242.85" width="6.51" height="7.17" fill="#e21dff"/><rect x="386.68" y="242.85" width="6.51" height="7.17" fill="#e31cff"/><rect x="393.14" y="242.85" width="6.51" height="7.17" fill="#e41bff"/><rect x="399.60" y="242.85" width="6.51" height="7.17" fill="#e31cff"/><rect x="406.06" y="242.85" width="6.51" height="7.17" fill="#e21dff"/><rect x="412.52" y="242.85" width="6.51" height="7.17" fill="#e11eff"/><rect x="418.98" y="242.85" width="6.51" height="7.17" fill="#df20ff"/><rect x="425.44" y="242.85" width="6.51" height="7.17" fill="#dd22ff"/><rect x="431.90" y="242.85" width="6.51" height="7.17" fill="#db24ff"/><rect x="438.36" y="242.85" width="6.51" height="7.17" fill="#d926ff"/><rect x="444.82" y="242.85" width="6.51" height="7.17" fill="#d629ff"/><rect x="451.28" y="242.85" width="6.51" height="7.17" fill="#d42bff"/><rect x="457.74" y="242.85" width="6.51" height="7.17" fill="#d12eff"/><rect x="464.20" y="242.85" width="6.51" height="7.17" fill="#ce31ff"/><rect x="470.66" y="242.85" width="6.51" height="7.17" fill="#cb34ff"/><rect x="477.12" y="242.85" width="6.51" height="7.17" fill="#c837ff"/><rect x="483.58" y="242.85" width="6.51" height="7.17" fill="#c43bff"/><rect x="490.04" y="242.85" width="6.51" height="7.17" fill="#c13eff"/><rect x="496.50" y="242.85" width="6.51" height="7.17" fill="#bd42ff"/><rect x="502.96" y="242.85" width="6.51" height="7.17" fill="#b946ff"/><rect x="509.42" y="242.85" width="6.51" height="7.17" fill="#b54aff"/><rect x="515.88" y="242.85" width="6.51" height="7.17" fill="#b14eff"/><rect x="522.34" y="242.85" width="6.51" height="7.17" fill="#ad52ff"/><rect x="528.80" y="242.85" width="6.51" height="7.17" fill="#a857ff"/><rect x="535.26" y="242.85" width="6.51" height="7.17" fill="#a45bff"/><rect x="541.72" y="242.85" width="6.51" height="7.17" fill="#9f60ff"/><rect x="548.18" y="242.85" width="6.51" height="7.17" fill="#9a65ff"/><rect x="554.64" y="242.85" width="6.51" height="7.17" fill="#9669ff"/><rect x="561.10" y="242.85" width="6.51" height="7.17" fill="#916eff"/><rect x="567.56" y="242.85" width="6.51" height="7.17" fill="#8b74ff"/><rect x="574.02" y="242.85" width="6.51" height="7.17" fill="#8679ff"/><rect x="580.48" y="242.85" width="6.51" height="7.17" fill="#807fff"/><rect x="586.94" y="242.85" width="6.51" height="7.17" fill="#7a85ff"/><rect x="593.40" y="242.85" width="6.51" height="7.17" fill="#738cff"/><rect x="599.86" y="242.85" width="6.51" height="7.17" fill="#6b94ff"/><rect x="606.32" y="242.85" width="6.51" height="7.17" fill="#629dff"/><rect x="612.78" y="242.85" width="6.51" height="7.17" fill="#58a7ff"/><rect x="619.24" y="242.85" width="6.51" height="7.17" fill="#4db2ff"/><rect x="625.70" y="242.85" width="6.51" height="7.17" fill="#41beff"/><rect x="632.16" y="242.85" width="6.51" height="7.17" fill="#36c9ff"/><rect x="638.62" y="242.85" width="6.51" height="7.17" fill="#2ad5ff"/><rect x="645.08" y="242.85" width="6.51" height="7.17" fill="#20dfff"/><rect x="651.54" y="242.85" width="6.51" height="7.17" fill="#17e8ff"/><rect x="658.00" y="242.85" width="6.51" height="7.17" fill="#10efff"/><rect x="664.46" y="242.85" width="6.51" height="7.17" fill="#0af5ff"/><rect x="670.92" y="242.85" width="6.51" height="7.17" fill="#06f9ff"/><rect x="677.38" y="242.85" width="6.51" height="7.17" fill="#04fbff"/><rect x="683.84" y="242.85" width="6.51" height="7.17" fill="#02fdff"/><rect x="690.30" y="242.85" width="12.97" height="7.17" fill="#01feff"/><rect x="141.20" y="249.97" width="12.97" height="7.18" fill="#01feff"/><rect x="154.12" y="249.97" width="6.51" height="7.18" fill="#02fdff"/><rect x="160.58" y="249.97" width="6.51" height="7.18" fill="#04fbff"/><rect x="167.04" y="249.97" width="6.51" height="7.18" fill="#06f9ff"/><rect x="173.50" y="249.97" width="6.51" height="7.18" fill="#09f6ff"/><rect x="179.96" y="249.97" width="6.51" height="7.18" fill="#0df2ff"/><rect x="186.42" y="249.97" width="6.51" height="7.18" fill="#12edff"/><rect x="192.88" y="249.97" width="6.51" height="7.18" fill="#17e8ff"/><rect x="199.34" y="249.97" width="6.51" height="7.18" fill="#1ee1ff"/><rect x="205.80" y="249.97" width="6.51" height="7.18" fill="#25daff"/><rect x="212.26" y="249.97" width="6.51" height="7.18" fill="#2ed1ff"/><rect x="218.72" y="249.97" width="6.51" height="7.18" fill="#37c8ff"/><rect x="225.18" y="249.97" width="6.51" height="7.18" fill="#40bfff"/><rect x="231.64" y="249.97" width="6.51" height="7.18" fill="#4bb4ff"/><rect x="238.10" y="249.97" width="6.51" height="7.18" fill="#56a9ff"/><rect x="244.56" y="249.97" width="6.51" height="7.18" fill="#619eff"/><rect x="251.02" y="249.97" width="6.51" height="7.18" fill="#6e91ff"/><rect x="257.48" y="249.97" width="6.51" height="7.18" fill="#7a85ff"/><rect x="263.94" y="249.97" width="6.51" height="7.18" fill="#8679ff"/><rect x="270.40" y="249.97" width="6.51" height="7.18" fill="#936cff"/><rect x="276.86" y="249.97" width="6.51" height="7.18" fill="#9e61ff"/><rect x="283.32" y="249.97" width="6.51" height="7.18" fill="#a956ff"/><rect x="289.78" y="249.97" width="6.51" height="7.18" fill="#b34cff"/><rect x="296.24" y="249.97" width="6.51" height="7.18" fill="#bd42ff"/><rect x="302.70" y="249.97" width="6.51" height="7.18" fill="#c53aff"/><rect x="309.16" y="249.97" width="6.51" height="7.18" fill="#cc33ff"/><rect x="315.62" y="249.97" width="6.51" height="7.18" fill="#d22dff"/><rect x="322.08" y="249.97" width="6.51" height="7.18" fill="#d728ff"/><rect x="328.54" y="249.97" width="6.51" height="7.18" fill="#db24ff"/><rect x="335.00" y="249.97" width="6.51" height="7.18" fill="#de21ff"/><rect x="341.46" y="249.97" width="6.51" height="7.18" fill="#e11eff"/><rect x="347.92" y="249.97" width="6.51" height="7.18" fill="#e41bff"/><rect x="354.38" y="249.97" width="6.51" height="7.18" fill="#e619ff"/><rect x="360.84" y="249.97" width="6.51" height="7.18" fill="#e718ff"/><rect x="367.30" y="249.97" width="6.51" height="7.18" fill="#e817ff"/><rect x="373.76" y="249.97" width="25.89" height="7.18" fill="#e916ff"/><rect x="399.60" y="249.97" width="6.51" height="7.18" fill="#e817ff"/><rect x="406.06" y="249.97" width="6.51" height="7.18" fill="#e619ff"/><rect x="412.52" y="249.97" width="6.51" height="7.18" fill="#e41bff"/><rect x="418.98" y="249.97" width="6.51" height="7.18" fill="#e21dff"/><rect x="425.44" y="249.97" width="6.51" height="7.18" fill="#e01fff"/><rect x="431.90" y="249.97" width="6.51" height="7.18" fill="#dd22ff"/><rect x="438.36" y="249.97" width="6.51" height="7.18" fill="#da25ff"/><rect x="444.82" y="249.97" width="6.51" height="7.18" fill="#d728ff"/><rect x="451.28" y="249.97" width="6.51" height="7.18" fill="#d52aff"/><rect x="457.74" y="249.97" width="6.51" height="7.18" fill="#d22dff"/><rect x="464.20" y="249.97" width="6.51" height="7.18" fill="#ce31ff"/><rect x="470.66" y="249.97" width="6.51" height="7.18" fill="#cb34ff"/><rect x="477.12" y="249.97" width="6.51" height="7.18" fill="#c837ff"/><rect x="483.58" y="249.97" width="6.51" height="7.18" fill="#c43bff"/><rect x="490.04" y="249.97" width="6.51" height="7.18" fill="#c03fff"/><rect x="496.50" y="249.97" width="6.51" height="7.18" fill="#bc43ff"/><rect x="502.96" y="249.97" width="6.51" height="7.18" fill="#b847ff"/><rect x="509.42" y="249.97" width="6.51" height="7.18" fill="#b44bff"/><rect x="515.88" y="249.97" width="6.51" height="7.18" fill="#af50ff"/><rect x="522.34" y="249.97" width="6.51" height="7.18" fill="#ab54ff"/><rect x="528.80" y="249.97" width="6.51" height="7.18" fill="#a659ff"/><rect x="535.26" y="249.97" width="6.51" height="7.18" fill="#a15eff"/><rect x="541.72" y="249.97" width="6.51" height="7.18" fill="#9c63ff"/><rect x="548.18" y="249.97" width="6.51" height="7.18" fill="#9768ff"/><rect x="554.64" y="249.97" width="6.51" height="7.18" fill="#926dff"/><rect x="561.10" y="249.97" width="6.51" height="7.18" fill="#8d72ff"/><rect x="567.56" y="249.97" width="6.51" height="7.18" fill="#8778ff"/><rect x="574.02" y="249.97" width="6.51" height="7.18" fill="#827dff"/><rect x="580.48" y="249.97" width="6.51" height="7.18" fill="#7c83ff"/><rect x="586.94" y="249.97" width="6.51" height="7.18" fill="#7689ff"/><rect x="593.40" y="249.97" width="6.51" height="7.18" fill="#6f90ff"/><rect x="599.86" y="249.97" width="6.51" height="7.18" fill="#6897ff"/><rect x="606.32" y="249.97" width="6.51" height="7.18" fill="#5fa0ff"/><rect x="612.78" y="249.97" width="6.51" height="7.18" fill="#56a9ff"/><rect x="619.24" y="249.97" width="6.51" height="7.18" fill="#4cb3ff"/><rect x="625.70" y="249.97" width="6.51" height="7.18" fill="#41beff"/><rect x="632.16" y="249.97" width="6.51" height="7.18" fill="#36c9ff"/><rect x="638.62" y="249.97" width="6.51" height="7.18" fill="#2bd4ff"/><rect x="645.08" y="249.97" width="6.51" height="7.18" fill="#21deff"/><rect x="651.54" y="249.97" width="6.51" height="7.18" fill="#18e7ff"/><rect x="658.00" y="249.97" width="6.51" height="7.18" fill="#11eeff"/><rect x="664.46" y="249.97" width="6.51" height="7.18" fill="#0bf4ff"/><rect x="670.92" y="249.97" width="6.51" height="7.18" fill="#07f8ff"/><rect x="677.38" y="249.97" width="6.51" height="7.18" fill="#04fbff"/><rect x="683.84" y="249.97" width="6.51" height="7.18" fill="#02fdff"/><rect x="690.30" y="249.97" width="12.97" height="7.18" fill="#01feff"/><rect x="134.74" y="257.10" width="12.97" height="7.17" fill="#01feff"/><rect x="147.66" y="257.10" width="6.51" height="7.17" fill="#02fdff"/><rect x="154.12" y="257.10" width="6.51" height="7.17" fill="#04fbff"/><rect x="160.58" y="257.10" width="6.51" height="7.17" fill="#06f9ff"/><rect x="167.04" y="257.10" width="6.51" height="7.17" fill="#09f6ff"/><rect x="173.50" y="257.10" width="6.51" height="7.17" fill="#0ef1ff"/><rect x="179.96" y="257.10" width="6.51" height="7.17" fill="#13ecff"/><rect x="186.42" y="257.10" width="6.51" height="7.17" fill="#1ae5ff"/><rect x="192.88" y="257.10" width="6.51" height="7.17" fill="#22ddff"/><rect x="199.34" y="257.10" width="6.51" height="7.17" fill="#2bd4ff"/><rect x="205.80" y="257.10" width="6.51" height="7.17" fill="#34cbff"/><rect x="212.26" y="257.10" width="6.51" height="7.17" fill="#3fc0ff"/><rect x="218.72" y="257.10" width="6.51" height="7.17" fill="#4ab5ff"/><rect x="225.18" y="257.10" width="6.51" height="7.17" fill="#55aaff"/><rect x="231.64" y="257.10" width="6.51" height="7.17" fill="#619eff"/><rect x="238.10" y="257.10" width="6.51" height="7.17" fill="#6e91ff"/><rect x="244.56" y="257.10" width="6.51" height="7.17" fill="#7b84ff"/><rect x="251.02" y="257.10" width="6.51" height="7.17" fill="#8877ff"/><rect x="257.48" y="257.10" width="6.51" height="7.17" fill="#946bff"/><rect x="263.94" y="257.10" width="6.51" height="7.17" fill="#a15eff"/><rect x="270.40" y="257.10" width="6.51" height="7.17" fill="#ad52ff"/><rect x="276.86" y="257.10" width="6.51" height="7.17" fill="#b847ff"/><rect x="283.32" y="257.10" width="6.51" height="7.17" fill="#c23dff"/><rect x="289.78" y="257.10" width="6.51" height="7.17" fill="#cb34ff"/><rect x="296.24" y="257.10" width="6.51" height="7.17" fill="#d22dff"/><rect x="302.70" y="257.10" width="6.51" height="7.17" fill="#d926ff"/><rect x="309.16" y="257.10" width="6.51" height="7.17" fill="#df20ff"/><rect x="315.62" y="257.10" width="6.51" height="7.17" fill="#e31cff"/><rect x="322.08" y="257.10" width="6.51" height="7.17" fill="#e619ff"/><rect x="328.54" y="257.10" width="6.51" height="7.17" fill="#e916ff"/><rect x="335.00" y="257.10" width="6.51" height="7.17" fill="#eb14ff"/><rect x="341.46" y="257.10" width="6.51" height="7.17" fill="#ed12ff"/><rect x="347.92" y="257.10" width="6.51" height="7.17" fill="#ee11ff"/><rect x="354.38" y="257.10" width="25.89" height="7.17" fill="#ef10ff"/><rect x="380.22" y="257.10" width="6.51" height="7.17" fill="#ee11ff"/><rect x="386.68" y="257.10" width="6.51" height="7.17" fill="#ed12ff"/><rect x="393.14" y="257.10" width="6.51" height="7.17" fill="#ec13ff"/><rect x="399.60" y="257.10" width="6.51" height="7.17" fill="#ea15ff"/><rect x="406.06" y="257.10" width="6.51" height="7.17" fill="#e817ff"/><rect x="412.52" y="257.10" width="6.51" height="7.17" fill="#e619ff"/><rect x="418.98" y="257.10" width="6.51" height="7.17" fill="#e31cff"/><rect x="425.44" y="257.10" width="6.51" height="7.17" fill="#e01fff"/><rect x="431.90" y="257.10" width="6.51" height="7.17" fill="#dd22ff"/><rect x="438.36" y="257.10" width="6.51" height="7.17" fill="#da25ff"/><rect x="444.82" y="257.10" width="6.51" height="7.17" fill="#d728ff"/><rect x="451.28" y="257.10" width="6.51" height="7.17" fill="#d42bff"/><rect x="457.74" y="257.10" width="6.51" height="7.17" fill="#d02fff"/><rect x="464.20" y="257.10" width="6.51" height="7.17" fill="#cd32ff"/><rect x="470.66" y="257.10" width="6.51" height="7.17" fill="#c936ff"/><rect x="477.12" y="257.10" width="6.51" height="7.17" fill="#c639ff"/><rect x="483.58" y="257.10" width="6.51" height="7.17" fill="#c23dff"/><rect x="490.04" y="257.10" width="6.51" height="7.17" fill="#be41ff"/><rect x="496.50" y="257.10" width="6.51" height="7.17" fill="#b946ff"/><rect x="502.96" y="257.10" width="6.51" height="7.17" fill="#b54aff"/><rect x="509.42" y="257.10" width="6.51" height="7.17" fill="#b04fff"/><rect x="515.88" y="257.10" width="6.51" height="7.17" fill="#ac53ff"/><rect x="522.34" y="257.10" width="6.51" height="7.17" fill="#a758ff"/><rect x="528.80" y="257.10" width="6.51" height="7.17" fill="#a25dff"/><rect x="535.26" y="257.10" width="6.51" height="7.17" fill="#9c63ff"/><rect x="541.72" y="257.10" width="6.51" height="7.17" fill="#9768ff"/><rect x="548.18" y="257.10" width="6.51" height="7.17" fill="#926dff"/><rect x="554.64" y="257.10" width="6.51" height="7.17" fill="#8c73ff"/><rect x="561.10" y="257.10" width="6.51" height="7.17" fill="#8679ff"/><rect x="567.56" y="257.10" width="6.51" height="7.17" fill="#817eff"/><rect x="574.02" y="257.10" width="6.51" height="7.17" fill="#7b84ff"/><rect x="580.48" y="257.10" width="6.51" height="7.17" fill="#758aff"/><rect x="586.94" y="257.10" width="6.51" height="7.17" fill="#6f90ff"/><rect x="593.40" y="257.10" width="6.51" height="7.17" fill="#6996ff"/><rect x="599.86" y="257.10" width="6.51" height="7.17" fill="#629dff"/><rect x="606.32" y="257.10" width="6.51" height="7.17" fill="#5aa5ff"/><rect x="612.78" y="257.10" width="6.51" height="7.17" fill="#51aeff"/><rect x="619.24" y="257.10" width="6.51" height="7.17" fill="#48b7ff"/><rect x="625.70" y="257.10" width="6.51" height="7.17" fill="#3ec1ff"/><rect x="632.16" y="257.10" width="6.51" height="7.17" fill="#34cbff"/><rect x="638.62" y="257.10" width="6.51" height="7.17" fill="#2ad5ff"/><rect x="645.08" y="257.10" width="6.51" height="7.17" fill="#20dfff"/><rect x="651.54" y="257.10" width="6.51" height="7.17" fill="#18e7ff"/><rect x="658.00" y="257.10" width="6.51" height="7.17" fill="#11eeff"/><rect x="664.46" y="257.10" width="6.51" height="7.17" fill="#0bf4ff"/><rect x="670.92" y="257.10" width="6.51" height="7.17" fill="#07f8ff"/><rect x="677.38" y="257.10" width="6.51" height="7.17" fill="#04fbff"/><rect x="683.84" y="257.10" width="6.51" height="7.17" fill="#02fdff"/><rect x="690.30" y="257.10" width="12.97" height="7.17" fill="#01feff"/><rect x="134.74" y="264.23" width="6.51" height="7.17" fill="#01feff"/><rect x="141.20" y="264.23" width="6.51" height="7.17" fill="#02fdff"/><rect x="147.66" y="264.23" width="6.51" height="7.17" fill="#03fcff"/><rect x="154.12" y="264.23" width="6.51" height="7.17" fill="#05faff"/><rect x="160.58" y="264.23" width="6.51" height="7.17" fill="#08f7ff"/><rect x="167.04" y="264.23" width="6.51" height="7.17" fill="#0df2ff"/><rect x="173.50" y="264.23" width="6.51" height="7.17" fill="#13ecff"/><rect x="179.96" y="264.23" width="6.51" height="7.17" fill="#1ae5ff"/><rect x="186.42" y="264.23" width="6.51" height="7.17" fill="#23dcff"/><rect x="192.88" y="264.23" width="6.51" height="7.17" fill="#2dd2ff"/><rect x="199.34" y="264.23" width="6.51" height="7.17" fill="#38c7ff"/><rect x="205.80" y="264.23" width="6.51" height="7.17" fill="#45baff"/><rect x="212.26" y="264.23" width="6.51" height="7.17" fill="#51aeff"/><rect x="218.72" y="264.23" width="6.51" height="7.17" fill="#5ea1ff"/><rect x="225.18" y="264.23" width="6.51" height="7.17" fill="#6c93ff"/><rect x="231.64" y="264.23" width="6.51" height="7.17" fill="#7986ff"/><rect x="238.10" y="264.23" width="6.51" height="7.17" fill="#8679ff"/><rect x="244.56" y="264.23" width="6.51" height="7.17" fill="#946bff"/><rect x="251.02" y="264.23" width="6.51" height="7.17" fill="#a15eff"/><rect x="257.48" y="264.23" width="6.51" height="7.17" fill="#ad52ff"/><rect x="263.94" y="264.23" width="6.51" height="7.17" fill="#b946ff"/><rect x="270.40" y="264.23" width="6.51" height="7.17" fill="#c43bff"/><rect x="276.86" y="264.23" width="6.51" height="7.17" fill="#ce31ff"/><rect x="283.32" y="264.23" width="6.51" height="7.17" fill="#d728ff"/><rect x="289.78" y="264.23" width="6.51" height="7.17" fill="#de21ff"/><rect x="296.24" y="264.23" width="6.51" height="7.17" fill="#e41bff"/><rect x="302.70" y="264.23" width="6.51" height="7.17" fill="#e916ff"/><rect x="309.16" y="264.23" width="6.51" height="7.17" fill="#ed12ff"/><rect x="315.62" y="264.23" width="6.51" height="7.17" fill="#f00fff"/><rect x="322.08" y="264.23" width="6.51" height="7.17" fill="#f20dff"/><rect x="328.54" y="264.23" width="6.51" height="7.17" fill="#f40bff"/><rect x="335.00" y="264.23" width="25.89" height="7.17" fill="#f50aff"/><rect x="360.84" y="264.23" width="12.97" height="7.17" fill="#f40bff"/><rect x="373.76" y="264.23" width="6.51" height="7.17" fill="#f20dff"/><rect x="380.22" y="264.23" width="6.51" height="7.17" fill="#f10eff"/><rect x="386.68" y="264.23" width="6.51" height="7.17" fill="#ef10ff"/><rect x="393.14" y="264.23" width="6.51" height="7.17" fill="#ed12ff"/><rect x="399.60" y="264.23" width="6.51" height="7.17" fill="#eb14ff"/><rect x="406.06" y="264.23" width="6.51" height="7.17" fill="#e817ff"/><rect x="412.52" y="264.23" width="6.51" height="7.17" fill="#e51aff"/><rect x="418.98" y="264.23" width="6.51" height="7.17" fill="#e21dff"/><rect x="425.44" y="264.23" width="6.51" height="7.17" fill="#df20ff"/><rect x="431.90" y="264.23" width="6.51" height="7.17" fill="#dc23ff"/><rect x="438.36" y="264.23" width="6.51" height="7.17" fill="#d827ff"/><rect x="444.82" y="264.23" width="6.51" height="7.17" fill="#d52aff"/><rect x="451.28" y="264.23" width="6.51" height="7.17" fill="#d12eff"/><rect x="457.74" y="264.23" width="6.51" height="7.17" fill="#cd32ff"/><rect x="464.20" y="264.23" width="6.51" height="7.17" fill="#ca35ff"/><rect x="470.66" y="264.23" width="6.51" height="7.17" fill="#c639ff"/><rect x="477.12" y="264.23" width="6.51" height="7.17" fill="#c23dff"/><rect x="483.58" y="264.23" width="6.51" height="7.17" fill="#bd42ff"/><rect x="490.04" y="264.23" width="6.51" height="7.17" fill="#b946ff"/><rect x="496.50" y="264.23" width="6.51" height="7.17" fill="#b54aff"/><rect x="502.96" y="264.23" width="6.51" height="7.17" fill="#b04fff"/><rect x="509.42" y="264.23" width="6.51" height="7.17" fill="#ab54ff"/><rect x="515.88" y="264.23" width="6.51" height="7.17" fill="#a659ff"/><rect x="522.34" y="264.23" width="6.51" height="7.17" fill="#a05fff"/><rect x="528.80" y="264.23" width="6.51" height="7.17" fill="#9b64ff"/><rect x="535.26" y="264.23" width="6.51" height="7.17" fill="#956aff"/><rect x="541.72" y="264.23" width="6.51" height="7.17" fill="#906fff"/><rect x="548.18" y="264.23" width="6.51" height="7.17" fill="#8a75ff"/><rect x="554.64" y="264.23" width="6.51" height="7.17" fill="#847bff"/><rect x="561.10" y="264.23" width="6.51" height="7.17" fill="#7e81ff"/><rect x="567.56" y="264.23" width="6.51" height="7.17" fill="#7887ff"/><rect x="574.02" y="264.23" width="6.51" height="7.17" fill="#728dff"/><rect x="580.48" y="264.23" width="6.51" height="7.17" fill="#6c93ff"/><rect x="586.94" y="264.23" width="6.51" height="7.17" fill="#6699ff"/><rect x="593.40" y="264.23" width="6.51" height="7.17" fill="#609fff"/><rect x="599.86" y="264.23" width="6.51" height="7.17" fill="#59a6ff"/><rect x="606.32" y="264.23" width="6.51" height="7.17" fill="#52adff"/><rect x="612.78" y="264.23" width="6.51" height="7.17" fill="#4ab5ff"/><rect x="619.24" y="264.23" width="6.51" height="7.17" fill="#42bdff"/><rect x="625.70" y="264.23" width="6.51" height="7.17" fill="#39c6ff"/><rect x="632.16" y="264.23" width="6.51" height="7.17" fill="#30cfff"/><rect x="638.62" y="264.23" width="6.51" height="7.17" fill="#27d8ff"/><rect x="645.08" y="264.23" width="6.51" height="7.17" fill="#1ee1ff"/><rect x="651.54" y="264.23" width="6.51" height="7.17" fill="#17e8ff"/><rect x="658.00" y="264.23" width="6.51" height="7.17" fill="#10efff"/><rect x="664.46" y="264.23" width="6.51" height="7.17" fill="#0bf4ff"/><rect x="670.92" y="264.23" width="6.51" height="7.17" fill="#07f8ff"/><rect x="677.38" y="264.23" width="6.51" height="7.17" fill="#04fbff"/><rect x="683.84" y="264.23" width="6.51" height="7.17" fill="#02fdff"/><rect x="690.30" y="264.23" width="12.97" height="7.17" fill="#01feff"/><rect x="128.28" y="271.35" width="12.97" height="7.17" fill="#01feff"/><rect x="141.20" y="271.35" width="6.51" height="7.17" fill="#02fdff"/><rect x="147.66" y="271.35" width="6.51" height="7.17" fill="#04fbff"/><rect x="154.12" y="271.35" width="6.51" height="7.17" fill="#07f8ff"/><rect x="160.58" y="271.35" width="6.51" height="7.17" fill="#0bf4ff"/><rect x="167.04" y="271.35" width="6.51" height="7.17" fill="#10efff"/><rect x="173.50" y="271.35" width="6.51" height="7.17" fill="#18e7ff"/><rect x="179.96" y="271.35" width="6.51" height="7.17" fill="#21deff"/><rect x="186.42" y="271.35" width="6.51" height="7.17" fill="#2cd3ff"/><rect x="192.88" y="271.35" width="6.51" height="7.17" fill="#39c6ff"/><rect x="199.34" y="271.35" width="6.51" height="7.17" fill="#46b9ff"/><rect x="205.80" y="271.35" width="6.51" height="7.17" fill="#55aaff"/><rect x="212.26" y="271.35" width="6.51" height="7.17" fill="#639cff"/><rect x="218.72" y="271.35" width="6.51" height="7.17" fill="#728dff"/><rect x="225.18" y="271.35" width="6.51" height="7.17" fill="#817eff"/><rect x="231.64" y="271.35" width="6.51" height="7.17" fill="#8f70ff"/><rect x="238.10" y="271.35" width="6.51" height="7.17" fill="#9d62ff"/><rect x="244.56" y="271.35" width="6.51" height="7.17" fill="#aa55ff"/><rect x="251.02" y="271.35" width="6.51" height="7.17" fill="#b649ff"/><rect x="257.48" y="271.35" width="6.51" height="7.17" fill="#c23dff"/><rect x="263.94" y="271.35" width="6.51" height="7.17" fill="#cd32ff"/><rect x="270.40" y="271.35" width="6.51" height="7.17" fill="#d728ff"/><rect x="276.86" y="271.35" width="6.51" height="7.17" fill="#df20ff"/><rect x="283.32" y="271.35" width="6.51" height="7.17" fill="#e619ff"/><rect x="289.78" y="271.35" width="6.51" height="7.17" fill="#ec13ff"/><rect x="296.24" y="271.35" width="6.51" height="7.17" fill="#f10eff"/><rect x="302.70" y="271.35" width="6.51" height="7.17" fill="#f50aff"/><rect x="309.16" y="271.35" width="6.51" height="7.17" fill="#f807ff"/><rect x="315.62" y="271.35" width="6.51" height="7.17" fill="#fa05ff"/><rect x="322.08" y="271.35" width="19.43" height="7.17" fill="#fb04ff"/><rect x="341.46" y="271.35" width="6.51" height="7.17" fill="#fa05ff"/><rect x="347.92" y="271.35" width="6.51" height="7.17" fill="#f906ff"/><rect x="354.38" y="271.35" width="6.51" height="7.17" fill="#f807ff"/><rect x="360.84" y="271.35" width="6.51" height="7.17" fill="#f708ff"/><rect x="367.30" y="271.35" width="6.51" height="7.17" fill="#f609ff"/><rect x="373.76" y="271.35" width="6.51" height="7.17" fill="#f40bff"/><rect x="380.22" y="271.35" width="6.51" height="7.17" fill="#f20dff"/><rect x="386.68" y="271.35" width="6.51" height="7.17" fill="#ef10ff"/><rect x="393.14" y="271.35" width="6.51" height="7.17" fill="#ed12ff"/><rect x="399.60" y="271.35" width="6.51" height="7.17" fill="#ea15ff"/><rect x="406.06" y="271.35" width="6.51" height="7.17" fill="#e718ff"/><rect x="412.52" y="271.35" width="6.51" height="7.17" fill="#e41bff"/><rect x="418.98" y="271.35" width="6.51" height="7.17" fill="#e01fff"/><rect x="425.44" y="271.35" width="6.51" height="7.17" fill="#dc23ff"/><rect x="431.90" y="271.35" width="6.51" height="7.17" fill="#d926ff"/><rect x="438.36" y="271.35" width="6.51" height="7.17" fill="#d52aff"/><rect x="444.82" y="271.35" width="6.51" height="7.17" fill="#d12eff"/><rect x="451.28" y="271.35" width="6.51" height="7.17" fill="#cd32ff"/><rect x="457.74" y="271.35" width="6.51" height="7.17" fill="#c936ff"/><rect x="464.20" y="271.35" width="6.51" height="7.17" fill="#c43bff"/><rect x="470.66" y="271.35" width="6.51" height="7.17" fill="#c03fff"/><rect x="477.12" y="271.35" width="6.51" height="7.17" fill="#bb44ff"/><rect x="483.58" y="271.35" width="6.51" height="7.17" fill="#b748ff"/><rect x="490.04" y="271.35" width="6.51" height="7.17" fill="#b24dff"/><rect x="496.50" y="271.35" width="6.51" height="7.17" fill="#ad52ff"/><rect x="502.96" y="271.35" width="6.51" height="7.17" fill="#a857ff"/><rect x="509.42" y="271.35" width="6.51" height="7.17" fill="#a35cff"/><rect x="515.88" y="271.35" width="6.51" height="7.17" fill="#9d62ff"/><rect x="522.34" y="271.35" width="6.51" height="7.17" fill="#9867ff"/><rect x="528.80" y="271.35" width="6.51" height="7.17" fill="#926dff"/><rect x="535.26" y="271.35" width="6.51" height="7.17" fill="#8c73ff"/><rect x="541.72" y="271.35" width="6.51" height="7.17" fill="#8679ff"/><rect x="548.18" y="271.35" width="6.51" height="7.17" fill="#807fff"/><rect x="554.64" y="271.35" width="6.51" height="7.17" fill="#7986ff"/><rect x="561.10" y="271.35" width="6.51" height="7.17" fill="#738cff"/><rect x="567.56" y="271.35" width="6.51" height="7.17" fill="#6d92ff"/><rect x="574.02" y="271.35" width="6.51" height="7.17" fill="#6798ff"/><rect x="580.48" y="271.35" width="6.51" height="7.17" fill="#619eff"/><rect x="586.94" y="271.35" width="6.51" height="7.17" fill="#5ba4ff"/><rect x="593.40" y="271.35" width="6.51" height="7.17" fill="#55aaff"/><rect x="599.86" y="271.35" width="6.51" height="7.17" fill="#4eb1ff"/><rect x="606.32" y="271.35" width="6.51" height="7.17" fill="#48b7ff"/><rect x="612.78" y="271.35" width="6.51" height="7.17" fill="#41beff"/><rect x="619.24" y="271.35" width="6.51" height="7.17" fill="#3ac5ff"/><rect x="625.70" y="271.35" width="6.51" height="7.17" fill="#32cdff"/><rect x="632.16" y="271.35" width="6.51" height="7.17" fill="#2ad5ff"/><rect x="638.62" y="271.35" width="6.51" height="7.17" fill="#23dcff"/><rect x="645.08" y="271.35" width="6.51" height="7.17" fill="#1be4ff"/><rect x="651.54" y="271.35" width="6.51" height="7.17" fill="#14ebff"/><rect x="658.00" y="271.35" width="6.51" height="7.17" fill="#0ef1ff"/><rect x="664.46" y="271.35" width="6.51" height="7.17" fill="#0af5ff"/><rect x="670.92" y="271.35" width="6.51" height="7.17" fill="#06f9ff"/><rect x="677.38" y="271.35" width="6.51" height="7.17" fill="#04fbff"/><rect x="683.84" y="271.35" width="6.51" height="7.17" fill="#02fdff"/><rect x="690.30" y="271.35" width="12.97" height="7.17" fill="#01feff"/><rect x="128.28" y="278.48" width="12.97" height="7.17" fill="#01feff"/><rect x="141.20" y="278.48" width="6.51" height="7.17" fill="#03fcff"/><rect x="147.66" y="278.48" width="6.51" height="7.17" fill="#05faff"/><rect x="154.12" y="278.48" width="6.51" height="7.17" fill="#08f7ff"/><rect x="160.58" y="278.48" width="6.51" height="7.17" fill="#0df2ff"/><rect x="167.04" y="278.48" width="6.51" height="7.17" fill="#14ebff"/><rect x="173.50" y="278.48" width="6.51" height="7.17" fill="#1de2ff"/><rect x="179.96" y="278.48" width="6.51" height="7.17" fill="#28d7ff"/><rect x="186.42" y="278.48" width="6.51" height="7.17" fill="#35caff"/><rect x="192.88" y="278.48" width="6.51" height="7.17" fill="#43bcff"/><rect x="199.34" y="278.48" width="6.51" height="7.17" fill="#53acff"/><rect x="205.80" y="278.48" width="6.51" height="7.17" fill="#639cff"/><rect x="212.26" y="278.48" width="6.51" height="7.17" fill="#738cff"/><rect x="218.72" y="278.48" width="6.51" height="7.17" fill="#837cff"/><rect x="225.18" y="278.48" width="6.51" height="7.17" fill="#926dff"/><rect x="231.64" y="278.48" width="6.51" height="7.17" fill="#a05fff"/><rect x="238.10" y="278.48" width="6.51" height="7.17" fill="#ae51ff"/><rect x="244.56" y="278.48" width="6.51" height="7.17" fill="#bb44ff"/><rect x="251.02" y="278.48" width="6.51" height="7.17" fill="#c738ff"/><rect x="257.48" y="278.48" width="6.51" height="7.17" fill="#d12eff"/><rect x="263.94" y="278.48" width="6.51" height="7.17" fill="#db24ff"/><rect x="270.40" y="278.48" width="6.51" height="7.17" fill="#e41bff"/><rect x="276.86" y="278.48" width="6.51" height="7.17" fill="#eb14ff"/><rect x="283.32" y="278.48" width="6.51" height="7.17" fill="#f10eff"/><rect x="289.78" y="278.48" width="6.51" height="7.17" fill="#f50aff"/><rect x="296.24" y="278.48" width="6.51" height="7.17" fill="#f906ff"/><rect x="302.70" y="278.48" width="6.51" height="7.17" fill="#fc03ff"/><rect x="309.16" y="278.48" width="6.51" height="7.17" fill="#fd02ff"/><rect x="315.62" y="278.48" width="6.51" height="7.17" fill="#fe01ff"/><rect x="322.08" y="278.48" width="6.51" height="7.17" fill="#ff00ff"/><rect x="328.54" y="278.48" width="12.97" height="7.17" fill="#fe01ff"/><rect x="341.46" y="278.48" width="6.51" height="7.17" fill="#fc03ff"/><rect x="347.92" y="278.48" width="6.51" height="7.17" fill="#fb04ff"/><rect x="354.38" y="278.48" width="6.51" height="7.17" fill="#f906ff"/><rect x="360.84" y="278.48" width="6.51" height="7.17" fill="#f708ff"/><rect x="367.30" y="278.48" width="6.51" height="7.17" fill="#f50aff"/><rect x="373.76" y="278.48" width="6.51" height="7.17" fill="#f30cff"/><rect x="380.22" y="278.48" width="6.51" height="7.17" fill="#f00fff"/><rect x="386.68" y="278.48" width="6.51" height="7.17" fill="#ee11ff"/><rect x="393.14" y="278.48" width="6.51" height="7.17" fill="#eb14ff"/><rect x="399.60" y="278.48" width="6.51" height="7.17" fill="#e718ff"/><rect x="406.06" y="278.48" width="6.51" height="7.17" fill="#e41bff"/><rect x="412.52" y="278.48" width="6.51" height="7.17" fill="#e01fff"/><rect x="418.98" y="278.48" width="6.51" height="7.17" fill="#dc23ff"/><rect x="425.44" y="278.48" width="6.51" height="7.17" fill="#d827ff"/><rect x="431.90" y="278.48" width="6.51" height="7.17" fill="#d42bff"/><rect x="438.36" y="278.48" width="6.51" height="7.17" fill="#cf30ff"/><rect x="444.82" y="278.48" width="6.51" height="7.17" fill="#cb34ff"/><rect x="451.28" y="278.48" width="6.51" height="7.17" fill="#c639ff"/><rect x="457.74" y="278.48" width="6.51" height="7.17" fill="#c13eff"/><rect x="464.20" y="278.48" width="6.51" height="7.17" fill="#bd42ff"/><rect x="470.66" y="278.48" width="6.51" height="7.17" fill="#b847ff"/><rect x="477.12" y="278.48" width="6.51" height="7.17" fill="#b34cff"/><rect x="483.58" y="278.48" width="6.51" height="7.17" fill="#ae51ff"/><rect x="490.04" y="278.48" width="6.51" height="7.17" fill="#a857ff"/><rect x="496.50" y="278.48" width="6.51" height="7.17" fill="#a35cff"/><rect x="502.96" y="278.48" width="6.51" height="7.17" fill="#9e61ff"/><rect x="509.42" y="278.48" width="6.51" height="7.17" fill="#9867ff"/><rect x="515.88" y="278.48" width="6.51" height="7.17" fill="#926dff"/><rect x="522.34" y="278.48" width="6.51" height="7.17" fill="#8c73ff"/><rect x="528.80" y="278.48" width="6.51" height="7.17" fill="#8679ff"/><rect x="535.26" y="278.48" width="6.51" height="7.17" fill="#807fff"/><rect x="541.72" y="278.48" width="6.51" height="7.17" fill="#7a85ff"/><rect x="548.18" y="278.48" width="6.51" height="7.17" fill="#738cff"/><rect x="554.64" y="278.48" width="6.51" height="7.17" fill="#6d92ff"/><rect x="561.10" y="278.48" width="6.51" height="7.17" fill="#6699ff"/><rect x="567.56" y="278.48" width="6.51" height="7.17" fill="#609fff"/><rect x="574.02" y="278.48" width="6.51" height="7.17" fill="#5aa5ff"/><rect x="580.48" y="278.48" width="6.51" height="7.17" fill="#54abff"/><rect x="586.94" y="278.48" width="6.51" height="7.17" fill="#4eb1ff"/><rect x="593.40" y="278.48" width="6.51" height="7.17" fill="#48b7ff"/><rect x="599.86" y="278.48" width="6.51" height="7.17" fill="#43bcff"/><rect x="606.32" y="278.48" width="6.51" height="7.17" fill="#3dc2ff"/><rect x="612.78" y="278.48" width="6.51" height="7.17" fill="#37c8ff"/><rect x="619.24" y="278.48" width="6.51" height="7.17" fill="#31ceff"/><rect x="625.70" y="278.48" width="6.51" height="7.17" fill="#2ad5ff"/><rect x="632.16" y="278.48" width="6.51" height="7.17" fill="#24dbff"/><rect x="638.62" y="278.48" width="6.51" height="7.17" fill="#1de2ff"/><rect x="645.08" y="278.48" width="6.51" height="7.17" fill="#17e8ff"/><rect x="651.54" y="278.48" width="6.51" height="7.17" fill="#11eeff"/><rect x="658.00" y="278.48" width="6.51" height="7.17" fill="#0cf3ff"/><rect x="664.46" y="278.48" width="6.51" height="7.17" fill="#08f7ff"/><rect x="670.92" y="278.48" width="6.51" height="7.17" fill="#05faff"/><rect x="677.38" y="278.48" width="6.51" height="7.17" fill="#03fcff"/><rect x="683.84" y="278.48" width="6.51" height="7.17" fill="#02fdff"/><rect x="690.30" y="278.48" width="12.97" height="7.17" fill="#01feff"/><rect x="128.28" y="285.60" width="6.51" height="7.17" fill="#01feff"/><rect x="134.74" y="285.60" width="6.51" height="7.17" fill="#02fdff"/><rect x="141.20" y="285.60" width="6.51" height="7.17" fill="#03fcff"/><rect x="147.66" y="285.60" width="6.51" height="7.17" fill="#05faff"/><rect x="154.12" y="285.60" width="6.51" height="7.17" fill="#09f6ff"/><rect x="160.58" y="285.60" width="6.51" height="7.17" fill="#0ff0ff"/><rect x="167.04" y="285.60" width="6.51" height="7.17" fill="#16e9ff"/><rect x="173.50" y="285.60" width="6.51" height="7.17" fill="#20dfff"/><rect x="179.96" y="285.60" width="6.51" height="7.17" fill="#2cd3ff"/><rect x="186.42" y="285.60" width="6.51" height="7.17" fill="#3ac5ff"/><rect x="192.88" y="285.60" width="6.51" height="7.17" fill="#4ab5ff"/><rect x="199.34" y="285.60" width="6.51" height="7.17" fill="#5ba4ff"/><rect x="205.80" y="285.60" width="6.51" height="7.17" fill="#6c93ff"/><rect x="212.26" y="285.60" width="6.51" height="7.17" fill="#7d82ff"/><rect x="218.72" y="285.60" width="6.51" height="7.17" fill="#8d72ff"/><rect x="225.18" y="285.60" width="6.51" height="7.17" fill="#9d62ff"/><rect x="231.64" y="285.60" width="6.51" height="7.17" fill="#ab54ff"/><rect x="238.10" y="285.60" width="6.51" height="7.17" fill="#b946ff"/><rect x="244.56" y="285.60" width="6.51" height="7.17" fill="#c53aff"/><rect x="251.02" y="285.60" width="6.51" height="7.17" fill="#d02fff"/><rect x="257.48" y="285.60" width="6.51" height="7.17" fill="#da25ff"/><rect x="263.94" y="285.60" width="6.51" height="7.17" fill="#e21dff"/><rect x="270.40" y="285.60" width="6.51" height="7.17" fill="#ea15ff"/><rect x="276.86" y="285.60" width="6.51" height="7.17" fill="#f00fff"/><rect x="283.32" y="285.60" width="6.51" height="7.17" fill="#f50aff"/><rect x="289.78" y="285.60" width="6.51" height="7.17" fill="#f906ff"/><rect x="296.24" y="285.60" width="6.51" height="7.17" fill="#fb04ff"/><rect x="302.70" y="285.60" width="6.51" height="7.17" fill="#fd02ff"/><rect x="309.16" y="285.60" width="19.43" height="7.17" fill="#ff00ff"/><rect x="328.54" y="285.60" width="6.51" height="7.17" fill="#fe01ff"/><rect x="335.00" y="285.60" width="6.51" height="7.17" fill="#fd02ff"/><rect x="341.46" y="285.60" width="6.51" height="7.17" fill="#fb04ff"/><rect x="347.92" y="285.60" width="6.51" height="7.17" fill="#fa05ff"/><rect x="354.38" y="285.60" width="6.51" height="7.17" fill="#f708ff"/><rect x="360.84" y="285.60" width="6.51" height="7.17" fill="#f50aff"/><rect x="367.30" y="285.60" width="6.51" height="7.17" fill="#f30cff"/><rect x="373.76" y="285.60" width="6.51" height="7.17" fill="#f00fff"/><rect x="380.22" y="285.60" width="6.51" height="7.17" fill="#ed12ff"/><rect x="386.68" y="285.60" width="6.51" height="7.17" fill="#ea15ff"/><rect x="393.14" y="285.60" width="6.51" height="7.17" fill="#e619ff"/><rect x="399.60" y="285.60" width="6.51" height="7.17" fill="#e31cff"/><rect x="406.06" y="285.60" width="6.51" height="7.17" fill="#df20ff"/><rect x="412.52" y="285.60" width="6.51" height="7.17" fill="#da25ff"/><rect x="418.98" y="285.60" width="6.51" height="7.17" fill="#d629ff"/><rect x="425.44" y="285.60" width="6.51" height="7.17" fill="#d12eff"/><rect x="431.90" y="285.60" width="6.51" height="7.17" fill="#cc33ff"/><rect x="438.36" y="285.60" width="6.51" height="7.17" fill="#c837ff"/><rect x="444.82" y="285.60" width="6.51" height="7.17" fill="#c23dff"/><rect x="451.28" y="285.60" width="6.51" height="7.17" fill="#bd42ff"/><rect x="457.74" y="285.60" width="6.51" height="7.17" fill="#b847ff"/><rect x="464.20" y="285.60" width="6.51" height="7.17" fill="#b24dff"/><rect x="470.66" y="285.60" width="6.51" height="7.17" fill="#ad52ff"/><rect x="477.12" y="285.60" width="6.51" height="7.17" fill="#a758ff"/><rect x="483.58" y="285.60" width="6.51" height="7.17" fill="#a25dff"/><rect x="490.04" y="285.60" width="6.51" height="7.17" fill="#9c63ff"/><rect x="496.50" y="285.60" width="6.51" height="7.17" fill="#9669ff"/><rect x="502.96" y="285.60" width="6.51" height="7.17" fill="#916eff"/><rect x="509.42" y="285.60" width="6.51" height="7.17" fill="#8b74ff"/><rect x="515.88" y="285.60" width="6.51" height="7.17" fill="#857aff"/><rect x="522.34" y="285.60" width="6.51" height="7.17" fill="#7e81ff"/><rect x="528.80" y="285.60" width="6.51" height="7.17" fill="#7887ff"/><rect x="535.26" y="285.60" width="6.51" height="7.17" fill="#728dff"/><rect x="541.72" y="285.60" width="6.51" height="7.17" fill="#6b94ff"/><rect x="548.18" y="285.60" width="6.51" height="7.17" fill="#659aff"/><rect x="554.64" y="285.60" width="6.51" height="7.17" fill="#5ea1ff"/><rect x="561.10" y="285.60" width="6.51" height="7.17" fill="#58a7ff"/><rect x="567.56" y="285.60" width="6.51" height="7.17" fill="#52adff"/><rect x="574.02" y="285.60" width="6.51" height="7.17" fill="#4cb3ff"/><rect x="580.48" y="285.60" width="6.51" height="7.17" fill="#46b9ff"/><rect x="586.94" y="285.60" width="6.51" height="7.17" fill="#41beff"/><rect x="593.40" y="285.60" width="6.51" height="7.17" fill="#3bc4ff"/><rect x="599.86" y="285.60" width="6.51" height="7.17" fill="#36c9ff"/><rect x="606.32" y="285.60" width="6.51" height="7.17" fill="#31ceff"/><rect x="612.78" y="285.60" width="6.51" height="7.17" fill="#2cd3ff"/><rect x="619.24" y="285.60" width="6.51" height="7.17" fill="#27d8ff"/><rect x="625.70" y="285.60" width="6.51" height="7.17" fill="#22ddff"/><rect x="632.16" y="285.60" width="6.51" height="7.17" fill="#1de2ff"/><rect x="638.62" y="285.60" width="6.51" height="7.17" fill="#17e8ff"/><rect x="645.08" y="285.60" width="6.51" height="7.17" fill="#12edff"/><rect x="651.54" y="285.60" width="6.51" height="7.17" fill="#0ef1ff"/><rect x="658.00" y="285.60" width="6.51" height="7.17" fill="#0af5ff"/><rect x="664.46" y="285.60" width="6.51" height="7.17" fill="#07f8ff"/><rect x="670.92" y="285.60" width="6.51" height="7.17" fill="#04fbff"/><rect x="677.38" y="285.60" width="6.51" height="7.17" fill="#03fcff"/><rect x="683.84" y="285.60" width="6.51" height="7.17" fill="#02fdff"/><rect x="690.30" y="285.60" width="6.51" height="7.17" fill="#01feff"/><rect x="128.28" y="292.73" width="6.51" height="7.17" fill="#01feff"/><rect x="134.74" y="292.73" width="6.51" height="7.17" fill="#02fdff"/><rect x="141.20" y="292.73" width="6.51" height="7.17" fill="#03fcff"/><rect x="147.66" y="292.73" width="6.51" height="7.17" fill="#06f9ff"/><rect x="154.12" y="292.73" width="6.51" height="7.17" fill="#0af5ff"/><rect x="160.58" y="292.73" width="6.51" height="7.17" fill="#0ff0ff"/><rect x="167.04" y="292.73" width="6.51" height="7.17" fill="#17e8ff"/><rect x="173.50" y="292.73" width="6.51" height="7.17" fill="#21deff"/><rect x="179.96" y="292.73" width="6.51" height="7.17" fill="#2ed1ff"/><rect x="186.42" y="292.73" width="6.51" height="7.17" fill="#3dc2ff"/><rect x="192.88" y="292.73" width="6.51" height="7.17" fill="#4db2ff"/><rect x="199.34" y="292.73" width="6.51" height="7.17" fill="#5ea1ff"/><rect x="205.80" y="292.73" width="6.51" height="7.17" fill="#6f90ff"/><rect x="212.26" y="292.73" width="6.51" height="7.17" fill="#807fff"/><rect x="218.72" y="292.73" width="6.51" height="7.17" fill="#916eff"/><rect x="225.18" y="292.73" width="6.51" height="7.17" fill="#a05fff"/><rect x="231.64" y="292.73" width="6.51" height="7.17" fill="#ae51ff"/><rect x="238.10" y="292.73" width="6.51" height="7.17" fill="#bb44ff"/><rect x="244.56" y="292.73" width="6.51" height="7.17" fill="#c738ff"/><rect x="251.02" y="292.73" width="6.51" height="7.17" fill="#d12eff"/><rect x="257.48" y="292.73" width="6.51" height="7.17" fill="#da25ff"/><rect x="263.94" y="292.73" width="6.51" height="7.17" fill="#e21dff"/><rect x="270.40" y="292.73" width="6.51" height="7.17" fill="#e916ff"/><rect x="276.86" y="292.73" width="6.51" height="7.17" fill="#ee11ff"/><rect x="283.32" y="292.73" width="6.51" height="7.17" fill="#f30cff"/><rect x="289.78" y="292.73" width="6.51" height="7.17" fill="#f609ff"/><rect x="296.24" y="292.73" width="6.51" height="7.17" fill="#f906ff"/><rect x="302.70" y="292.73" width="6.51" height="7.17" fill="#fa05ff"/><rect x="309.16" y="292.73" width="19.43" height="7.17" fill="#fb04ff"/><rect x="328.54" y="292.73" width="6.51" height="7.17" fill="#fa05ff"/><rect x="335.00" y="292.73" width="6.51" height="7.17" fill="#f906ff"/><rect x="341.46" y="292.73" width="6.51" height="7.17" fill="#f708ff"/><rect x="347.92" y="292.73" width="6.51" height="7.17" fill="#f50aff"/><rect x="354.38" y="292.73" width="6.51" height="7.17" fill="#f30cff"/><rect x="360.84" y="292.73" width="6.51" height="7.17" fill="#f00fff"/><rect x="367.30" y="292.73" width="6.51" height="7.17" fill="#ee11ff"/><rect x="373.76" y="292.73" width="6.51" height="7.17" fill="#eb14ff"/><rect x="380.22" y="292.73" width="6.51" height="7.17" fill="#e718ff"/><rect x="386.68" y="292.73" width="6.51" height="7.17" fill="#e41bff"/><rect x="393.14" y="292.73" width="6.51" height="7.17" fill="#e01fff"/><rect x="399.60" y="292.73" width="6.51" height="7.17" fill="#dc23ff"/><rect x="406.06" y="292.73" width="6.51" height="7.17" fill="#d728ff"/><rect x="412.52" y="292.73" width="6.51" height="7.17" fill="#d22dff"/><rect x="418.98" y="292.73" width="6.51" height="7.17" fill="#ce31ff"/><rect x="425.44" y="292.73" width="6.51" height="7.17" fill="#c837ff"/><rect x="431.90" y="292.73" width="6.51" height="7.17" fill="#c33cff"/><rect x="438.36" y="292.73" width="6.51" height="7.17" fill="#bd42ff"/><rect x="444.82" y="292.73" width="6.51" height="7.17" fill="#b847ff"/><rect x="451.28" y="292.73" width="6.51" height="7.17" fill="#b24dff"/><rect x="457.74" y="292.73" width="6.51" height="7.17" fill="#ac53ff"/><rect x="464.20" y="292.73" width="6.51" height="7.17" fill="#a659ff"/><rect x="470.66" y="292.73" width="6.51" height="7.17" fill="#a05fff"/><rect x="477.12" y="292.73" width="6.51" height="7.17" fill="#9966ff"/><rect x="483.58" y="292.73" width="6.51" height="7.17" fill="#936cff"/><rect x="490.04" y="292.73" width="6.51" height="7.17" fill="#8d72ff"/><rect x="496.50" y="292.73" width="6.51" height="7.17" fill="#8778ff"/><rect x="502.96" y="292.73" width="6.51" height="7.17" fill="#817eff"/><rect x="509.42" y="292.73" width="6.51" height="7.17" fill="#7b84ff"/><rect x="515.88" y="292.73" width="6.51" height="7.17" fill="#758aff"/><rect x="522.34" y="292.73" width="6.51" height="7.17" fill="#6f90ff"/><rect x="528.80" y="292.73" width="6.51" height="7.17" fill="#6897ff"/><rect x="535.26" y="292.73" width="6.51" height="7.17" fill="#629dff"/><rect x="541.72" y="292.73" width="6.51" height="7.17" fill="#5ca3ff"/><rect x="548.18" y="292.73" width="6.51" height="7.17" fill="#55aaff"/><rect x="554.64" y="292.73" width="6.51" height="7.17" fill="#4fb0ff"/><rect x="561.10" y="292.73" width="6.51" height="7.17" fill="#49b6ff"/><rect x="567.56" y="292.73" width="6.51" height="7.17" fill="#43bcff"/><rect x="574.02" y="292.73" width="6.51" height="7.17" fill="#3ec1ff"/><rect x="580.48" y="292.73" width="6.51" height="7.17" fill="#38c7ff"/><rect x="586.94" y="292.73" width="6.51" height="7.17" fill="#33ccff"/><rect x="593.40" y="292.73" width="6.51" height="7.17" fill="#2fd0ff"/><rect x="599.86" y="292.73" width="6.51" height="7.17" fill="#2ad5ff"/><rect x="606.32" y="292.73" width="6.51" height="7.17" fill="#26d9ff"/><rect x="612.78" y="292.73" width="6.51" height="7.17" fill="#22ddff"/><rect x="619.24" y="292.73" width="6.51" height="7.17" fill="#1ee1ff"/><rect x="625.70" y="292.73" width="6.51" height="7.17" fill="#1ae5ff"/><rect x="632.16" y="292.73" width="6.51" height="7.17" fill="#16e9ff"/><rect x="638.62" y="292.73" width="6.51" height="7.17" fill="#12edff"/><rect x="645.08" y="292.73" width="6.51" height="7.17" fill="#0ef1ff"/><rect x="651.54" y="292.73" width="6.51" height="7.17" fill="#0bf4ff"/><rect x="658.00" y="292.73" width="6.51" height="7.17" fill="#08f7ff"/><rect x="664.46" y="292.73" width="6.51" height="7.17" fill="#05faff"/><rect x="670.92" y="292.73" width="6.51" height="7.17" fill="#03fcff"/><rect x="677.38" y="292.73" width="6.51" height="7.17" fill="#02fdff"/><rect x="683.84" y="292.73" width="12.97" height="7.17" fill="#01feff"/><rect x="128.28" y="299.85" width="6.51" height="7.17" fill="#01feff"/><rect x="134.74" y="299.85" width="6.51" height="7.17" fill="#02fdff"/><rect x="141.20" y="299.85" width="6.51" height="7.17" fill="#03fcff"/><rect x="147.66" y="299.85" width="6.51" height="7.17" fill="#05faff"/><rect x="154.12" y="299.85" width="6.51" height="7.17" fill="#09f6ff"/><rect x="160.58" y="299.85" width="6.51" height="7.17" fill="#0ff0ff"/><rect x="167.04" y="299.85" width="6.51" height="7.17" fill="#17e8ff"/><rect x="173.50" y="299.85" width="6.51" height="7.17" fill="#20dfff"/><rect x="179.96" y="299.85" width="6.51" height="7.17" fill="#2dd2ff"/><rect x="186.42" y="299.85" width="6.51" height="7.17" fill="#3bc4ff"/><rect x="192.88" y="299.85" width="6.51" height="7.17" fill="#4ab5ff"/><rect x="199.34" y="299.85" width="6.51" height="7.17" fill="#5ba4ff"/><rect x="205.80" y="299.85" width="6.51" height="7.17" fill="#6c93ff"/><rect x="212.26" y="299.85" width="6.51" height="7.17" fill="#7c83ff"/><rect x="218.72" y="299.85" width="6.51" height="7.17" fill="#8c73ff"/><rect x="225.18" y="299.85" width="6.51" height="7.17" fill="#9b64ff"/><rect x="231.64" y="299.85" width="6.51" height="7.17" fill="#a956ff"/><rect x="238.10" y="299.85" width="6.51" height="7.17" fill="#b54aff"/><rect x="244.56" y="299.85" width="6.51" height="7.17" fill="#c13eff"/><rect x="251.02" y="299.85" width="6.51" height="7.17" fill="#ca35ff"/><rect x="257.48" y="299.85" width="6.51" height="7.17" fill="#d32cff"/><rect x="263.94" y="299.85" width="6.51" height="7.17" fill="#db24ff"/><rect x="270.40" y="299.85" width="6.51" height="7.17" fill="#e11eff"/><rect x="276.86" y="299.85" width="6.51" height="7.17" fill="#e619ff"/><rect x="283.32" y="299.85" width="6.51" height="7.17" fill="#eb14ff"/><rect x="289.78" y="299.85" width="6.51" height="7.17" fill="#ee11ff"/><rect x="296.24" y="299.85" width="6.51" height="7.17" fill="#f00fff"/><rect x="302.70" y="299.85" width="6.51" height="7.17" fill="#f20dff"/><rect x="309.16" y="299.85" width="6.51" height="7.17" fill="#f30cff"/><rect x="315.62" y="299.85" width="6.51" height="7.17" fill="#f40bff"/><rect x="322.08" y="299.85" width="12.97" height="7.17" fill="#f30cff"/><rect x="335.00" y="299.85" width="6.51" height="7.17" fill="#f20dff"/><rect x="341.46" y="299.85" width="6.51" height="7.17" fill="#f00fff"/><rect x="347.92" y="299.85" width="6.51" height="7.17" fill="#ee11ff"/><rect x="354.38" y="299.85" width="6.51" height="7.17" fill="#ec13ff"/><rect x="360.84" y="299.85" width="6.51" height="7.17" fill="#e916ff"/><rect x="367.30" y="299.85" width="6.51" height="7.17" fill="#e619ff"/><rect x="373.76" y="299.85" width="6.51" height="7.17" fill="#e31cff"/><rect x="380.22" y="299.85" width="6.51" height="7.17" fill="#df20ff"/><rect x="386.68" y="299.85" width="6.51" height="7.17" fill="#db24ff"/><rect x="393.14" y="299.85" width="6.51" height="7.17" fill="#d728ff"/><rect x="399.60" y="299.85" width="6.51" height="7.17" fill="#d22dff"/><rect x="406.06" y="299.85" width="6.51" height="7.17" fill="#cd32ff"/><rect x="412.52" y="299.85" width="6.51" height="7.17" fill="#c837ff"/><rect x="418.98" y="299.85" width="6.51" height="7.17" fill="#c33cff"/><rect x="425.44" y="299.85" width="6.51" height="7.17" fill="#bd42ff"/><rect x="431.90" y="299.85" width="6.51" height="7.17" fill="#b748ff"/><rect x="438.36" y="299.85" width="6.51" height="7.17" fill="#b14eff"/><rect x="444.82" y="299.85" width="6.51" height="7.17" fill="#aa55ff"/><rect x="451.28" y="299.85" width="6.51" height="7.17" fill="#a45bff"/><rect x="457.74" y="299.85" width="6.51" height="7.17" fill="#9d62ff"/><rect x="464.20" y="299.85" width="6.51" height="7.17" fill="#9669ff"/><rect x="470.66" y="299.85" width="6.51" height="7.17" fill="#906fff"/><rect x="477.12" y="299.85" width="6.51" height="7.17" fill="#8976ff"/><rect x="483.58" y="299.85" width="6.51" height="7.17" fill="#837cff"/><rect x="490.04" y="299.85" width="6.51" height="7.17" fill="#7c83ff"/><rect x="496.50" y="299.85" width="6.51" height="7.17" fill="#7689ff"/><rect x="502.96" y="299.85" width="6.51" height="7.17" fill="#708fff"/><rect x="509.42" y="299.85" width="6.51" height="7.17" fill="#6a95ff"/><rect x="515.88" y="299.85" width="6.51" height="7.17" fill="#649bff"/><rect x="522.34" y="299.85" width="6.51" height="7.17" fill="#5ea1ff"/><rect x="528.80" y="299.85" width="6.51" height="7.17" fill="#58a7ff"/><rect x="535.26" y="299.85" width="6.51" height="7.17" fill="#52adff"/><rect x="541.72" y="299.85" width="6.51" height="7.17" fill="#4cb3ff"/><rect x="548.18" y="299.85" width="6.51" height="7.17" fill="#46b9ff"/><rect x="554.64" y="299.85" width="6.51" height="7.17" fill="#40bfff"/><rect x="561.10" y="299.85" width="6.51" height="7.17" fill="#3ac5ff"/><rect x="567.56" y="299.85" width="6.51" height="7.17" fill="#35caff"/><rect x="574.02" y="299.85" width="6.51" height="7.17" fill="#30cfff"/><rect x="580.48" y="299.85" width="6.51" height="7.17" fill="#2bd4ff"/><rect x="586.94" y="299.85" width="6.51" height="7.17" fill="#27d8ff"/><rect x="593.40" y="299.85" width="6.51" height="7.17" fill="#23dcff"/><rect x="599.86" y="299.85" width="6.51" height="7.17" fill="#1fe0ff"/><rect x="606.32" y="299.85" width="6.51" height="7.17" fill="#1ce3ff"/><rect x="612.78" y="299.85" width="6.51" height="7.17" fill="#19e6ff"/><rect x="619.24" y="299.85" width="6.51" height="7.17" fill="#16e9ff"/><rect x="625.70" y="299.85" width="6.51" height="7.17" fill="#12edff"/><rect x="632.16" y="299.85" width="6.51" height="7.17" fill="#10efff"/><rect x="638.62" y="299.85" width="6.51" height="7.17" fill="#0df2ff"/><rect x="645.08" y="299.85" width="6.51" height="7.17" fill="#0af5ff"/><rect x="651.54" y="299.85" width="6.51" height="7.17" fill="#08f7ff"/><rect x="658.00" y="299.85" width="6.51" height="7.17" fill="#05faff"/><rect x="664.46" y="299.85" width="6.51" height="7.17" fill="#04fbff"/><rect x="670.92" y="299.85" width="6.51" height="7.17" fill="#02fdff"/><rect x="677.38" y="299.85" width="12.97" height="7.17" fill="#01feff"/><rect x="128.28" y="306.98" width="12.97" height="7.17" fill="#01feff"/><rect x="141.20" y="306.98" width="6.51" height="7.17" fill="#03fcff"/><rect x="147.66" y="306.98" width="6.51" height="7.17" fill="#05faff"/><rect x="154.12" y="306.98" width="6.51" height="7.17" fill="#08f7ff"/><rect x="160.58" y="306.98" width="6.51" height="7.17" fill="#0df2ff"/><rect x="167.04" y="306.98" width="6.51" height="7.17" fill="#14ebff"/><rect x="173.50" y="306.98" width="6.51" height="7.17" fill="#1de2ff"/><rect x="179.96" y="306.98" width="6.51" height="7.17" fill="#28d7ff"/><rect x="186.42" y="306.98" width="6.51" height="7.17" fill="#35caff"/><rect x="192.88" y="306.98" width="6.51" height="7.17" fill="#44bbff"/><rect x="199.34" y="306.98" width="6.51" height="7.17" fill="#53acff"/><rect x="205.80" y="306.98" width="6.51" height="7.17" fill="#629dff"/><rect x="212.26" y="306.98" width="6.51" height="7.17" fill="#728dff"/><rect x="218.72" y="306.98" width="6.51" height="7.17" fill="#817eff"/><rect x="225.18" y="306.98" width="6.51" height="7.17" fill="#8f70ff"/><rect x="231.64" y="306.98" width="6.51" height="7.17" fill="#9c63ff"/><rect x="238.10" y="306.98" width="6.51" height="7.17" fill="#a857ff"/><rect x="244.56" y="306.98" width="6.51" height="7.17" fill="#b24dff"/><rect x="251.02" y="306.98" width="6.51" height="7.17" fill="#bc43ff"/><rect x="257.48" y="306.98" width="6.51" height="7.17" fill="#c53aff"/><rect x="263.94" y="306.98" width="6.51" height="7.17" fill="#cc33ff"/><rect x="270.40" y="306.98" width="6.51" height="7.17" fill="#d32cff"/><rect x="276.86" y="306.98" width="6.51" height="7.17" fill="#d827ff"/><rect x="283.32" y="306.98" width="6.51" height="7.17" fill="#dd22ff"/><rect x="289.78" y="306.98" width="6.51" height="7.17" fill="#e01fff"/><rect x="296.24" y="306.98" width="6.51" height="7.17" fill="#e31cff"/><rect x="302.70" y="306.98" width="6.51" height="7.17" fill="#e51aff"/><rect x="309.16" y="306.98" width="6.51" height="7.17" fill="#e718ff"/><rect x="315.62" y="306.98" width="19.43" height="7.17" fill="#e817ff"/><rect x="335.00" y="306.98" width="6.51" height="7.17" fill="#e718ff"/><rect x="341.46" y="306.98" width="6.51" height="7.17" fill="#e619ff"/><rect x="347.92" y="306.98" width="6.51" height="7.17" fill="#e41bff"/><rect x="354.38" y="306.98" width="6.51" height="7.17" fill="#e11eff"/><rect x="360.84" y="306.98" width="6.51" height="7.17" fill="#df20ff"/><rect x="367.30" y="306.98" width="6.51" height="7.17" fill="#db24ff"/><rect x="373.76" y="306.98" width="6.51" height="7.17" fill="#d827ff"/><rect x="380.22" y="306.98" width="6.51" height="7.17" fill="#d42bff"/><rect x="386.68" y="306.98" width="6.51" height="7.17" fill="#cf30ff"/><rect x="393.14" y="306.98" width="6.51" height="7.17" fill="#cb34ff"/><rect x="399.60" y="306.98" width="6.51" height="7.17" fill="#c639ff"/><rect x="406.06" y="306.98" width="6.51" height="7.17" fill="#c03fff"/><rect x="412.52" y="306.98" width="6.51" height="7.17" fill="#bb44ff"/><rect x="418.98" y="306.98" width="6.51" height="7.17" fill="#b54aff"/><rect x="425.44" y="306.98" width="6.51" height="7.17" fill="#ae51ff"/><rect x="431.90" y="306.98" width="6.51" height="7.17" fill="#a857ff"/><rect x="438.36" y="306.98" width="6.51" height="7.17" fill="#a15eff"/><rect x="444.82" y="306.98" width="6.51" height="7.17" fill="#9a65ff"/><rect x="451.28" y="306.98" width="6.51" height="7.17" fill="#936cff"/><rect x="457.74" y="306.98" width="6.51" height="7.17" fill="#8c73ff"/><rect x="464.20" y="306.98" width="6.51" height="7.17" fill="#857aff"/><rect x="470.66" y="306.98" width="6.51" height="7.17" fill="#7e81ff"/><rect x="477.12" y="306.98" width="6.51" height="7.17" fill="#7788ff"/><rect x="483.58" y="306.98" width="6.51" height="7.17" fill="#708fff"/><rect x="490.04" y="306.98" width="6.51" height="7.17" fill="#6a95ff"/><rect x="496.50" y="306.98" width="6.51" height="7.17" fill="#649bff"/><rect x="502.96" y="306.98" width="6.51" height="7.17" fill="#5da2ff"/><rect x="509.42" y="306.98" width="6.51" height="7.17" fill="#57a8ff"/><rect x="515.88" y="306.98" width="6.51" height="7.17" fill="#52adff"/><rect x="522.34" y="306.98" width="6.51" height="7.17" fill="#4cb3ff"/><rect x="528.80" y="306.98" width="6.51" height="7.17" fill="#47b8ff"/><rect x="535.26" y="306.98" width="6.51" height="7.17" fill="#41beff"/><rect x="541.72" y="306.98" width="6.51" height="7.17" fill="#3cc3ff"/><rect x="548.18" y="306.98" width="6.51" height="7.17" fill="#37c8ff"/><rect x="554.64" y="306.98" width="6.51" height="7.17" fill="#31ceff"/><rect x="561.10" y="306.98" width="6.51" height="7.17" fill="#2dd2ff"/><rect x="567.56" y="306.98" width="6.51" height="7.17" fill="#28d7ff"/><rect x="574.02" y="306.98" width="6.51" height="7.17" fill="#24dbff"/><rect x="580.48" y="306.98" width="6.51" height="7.17" fill="#20dfff"/><rect x="586.94" y="306.98" width="6.51" height="7.17" fill="#1ce3ff"/><rect x="593.40" y="306.98" width="6.51" height="7.17" fill="#19e6ff"/><rect x="599.86" y="306.98" width="6.51" height="7.17" fill="#16e9ff"/><rect x="606.32" y="306.98" width="6.51" height="7.17" fill="#14ebff"/><rect x="612.78" y="306.98" width="6.51" height="7.17" fill="#11eeff"/><rect x="619.24" y="306.98" width="6.51" height="7.17" fill="#0ff0ff"/><rect x="625.70" y="306.98" width="6.51" height="7.17" fill="#0df2ff"/><rect x="632.16" y="306.98" width="6.51" height="7.17" fill="#0af5ff"/><rect x="638.62" y="306.98" width="6.51" height="7.17" fill="#09f6ff"/><rect x="645.08" y="306.98" width="6.51" height="7.17" fill="#07f8ff"/><rect x="651.54" y="306.98" width="6.51" height="7.17" fill="#05faff"/><rect x="658.00" y="306.98" width="6.51" height="7.17" fill="#04fbff"/><rect x="664.46" y="306.98" width="6.51" height="7.17" fill="#03fcff"/><rect x="670.92" y="306.98" width="6.51" height="7.17" fill="#02fdff"/><rect x="677.38" y="306.98" width="12.97" height="7.17" fill="#01feff"/><rect x="128.28" y="314.10" width="12.97" height="7.17" fill="#01feff"/><rect x="141.20" y="314.10" width="6.51" height="7.17" fill="#02fdff"/><rect x="147.66" y="314.10" width="6.51" height="7.17" fill="#04fbff"/><rect x="154.12" y="314.10" width="6.51" height="7.17" fill="#07f8ff"/><rect x="160.58" y="314.10" width="6.51" height="7.17" fill="#0bf4ff"/><rect x="167.04" y="314.10" width="6.51" height="7.17" fill="#11eeff"/><rect x="173.50" y="314.10" width="6.51" height="7.17" fill="#19e6ff"/><rect x="179.96" y="314.10" width="6.51" height="7.17" fill="#22ddff"/><rect x="186.42" y="314.10" width="6.51" height="7.17" fill="#2dd2ff"/><rect x="192.88" y="314.10" width="6.51" height="7.17" fill="#39c6ff"/><rect x="199.34" y="314.10" width="6.51" height="7.17" fill="#47b8ff"/><rect x="205.80" y="314.10" width="6.51" height="7.17" fill="#54abff"/><rect x="212.26" y="314.10" width="6.51" height="7.17" fill="#629dff"/><rect x="218.72" y="314.10" width="6.51" height="7.17" fill="#708fff"/><rect x="225.18" y="314.10" width="6.51" height="7.17" fill="#7c83ff"/><rect x="231.64" y="314.10" width="6.51" height="7.17" fill="#8877ff"/><rect x="238.10" y="314.10" width="6.51" height="7.17" fill="#946bff"/><rect x="244.56" y="314.10" width="6.51" height="7.17" fill="#9e61ff"/><rect x="251.02" y="314.10" width="6.51" height="7.17" fill="#a857ff"/><rect x="257.48" y="314.10" width="6.51" height="7.17" fill="#b04fff"/><rect x="263.94" y="314.10" width="6.51" height="7.17" fill="#b847ff"/><rect x="270.40" y="314.10" width="6.51" height="7.17" fill="#bf40ff"/><rect x="276.86" y="314.10" width="6.51" height="7.17" fill="#c43bff"/><rect x="283.32" y="314.10" width="6.51" height="7.17" fill="#ca35ff"/><rect x="289.78" y="314.10" width="6.51" height="7.17" fill="#ce31ff"/><rect x="296.24" y="314.10" width="6.51" height="7.17" fill="#d22dff"/><rect x="302.70" y="314.10" width="6.51" height="7.17" fill="#d42bff"/><rect x="309.16" y="314.10" width="6.51" height="7.17" fill="#d728ff"/><rect x="315.62" y="314.10" width="6.51" height="7.17" fill="#d827ff"/><rect x="322.08" y="314.10" width="6.51" height="7.17" fill="#d926ff"/><rect x="328.54" y="314.10" width="6.51" height="7.17" fill="#da25ff"/><rect x="335.00" y="314.10" width="6.51" height="7.17" fill="#d926ff"/><rect x="341.46" y="314.10" width="6.51" height="7.17" fill="#d827ff"/><rect x="347.92" y="314.10" width="6.51" height="7.17" fill="#d629ff"/><rect x="354.38" y="314.10" width="6.51" height="7.17" fill="#d42bff"/><rect x="360.84" y="314.10" width="6.51" height="7.17" fill="#d12eff"/><rect x="367.30" y="314.10" width="6.51" height="7.17" fill="#ce31ff"/><rect x="373.76" y="314.10" width="6.51" height="7.17" fill="#ca35ff"/><rect x="380.22" y="314.10" width="6.51" height="7.17" fill="#c639ff"/><rect x="386.68" y="314.10" width="6.51" height="7.17" fill="#c13eff"/><rect x="393.14" y="314.10" width="6.51" height="7.17" fill="#bc43ff"/><rect x="399.60" y="314.10" width="6.51" height="7.17" fill="#b649ff"/><rect x="406.06" y="314.10" width="6.51" height="7.17" fill="#b14eff"/><rect x="412.52" y="314.10" width="6.51" height="7.17" fill="#aa55ff"/><rect x="418.98" y="314.10" width="6.51" height="7.17" fill="#a45bff"/><rect x="425.44" y="314.10" width="6.51" height="7.17" fill="#9d62ff"/><rect x="431.90" y="314.10" width="6.51" height="7.17" fill="#9669ff"/><rect x="438.36" y="314.10" width="6.51" height="7.17" fill="#8f70ff"/><rect x="444.82" y="314.10" width="6.51" height="7.17" fill="#8877ff"/><rect x="451.28" y="314.10" width="6.51" height="7.17" fill="#807fff"/><rect x="457.74" y="314.10" width="6.51" height="7.17" fill="#7986ff"/><rect x="464.20" y="314.10" width="6.51" height="7.17" fill="#728dff"/><rect x="470.66" y="314.10" width="6.51" height="7.17" fill="#6a95ff"/><rect x="477.12" y="314.10" width="6.51" height="7.17" fill="#649bff"/><rect x="483.58" y="314.10" width="6.51" height="7.17" fill="#5da2ff"/><rect x="490.04" y="314.10" width="6.51" height="7.17" fill="#57a8ff"/><rect x="496.50" y="314.10" width="6.51" height="7.17" fill="#51aeff"/><rect x="502.96" y="314.10" width="6.51" height="7.17" fill="#4bb4ff"/><rect x="509.42" y="314.10" width="6.51" height="7.17" fill="#46b9ff"/><rect x="515.88" y="314.10" width="6.51" height="7.17" fill="#40bfff"/><rect x="522.34" y="314.10" width="6.51" height="7.17" fill="#3bc4ff"/><rect x="528.80" y="314.10" width="6.51" height="7.17" fill="#36c9ff"/><rect x="535.26" y="314.10" width="6.51" height="7.17" fill="#32cdff"/><rect x="541.72" y="314.10" width="6.51" height="7.17" fill="#2dd2ff"/><rect x="548.18" y="314.10" width="6.51" height="7.17" fill="#29d6ff"/><rect x="554.64" y="314.10" width="6.51" height="7.17" fill="#24dbff"/><rect x="561.10" y="314.10" width="6.51" height="7.17" fill="#21deff"/><rect x="567.56" y="314.10" width="6.51" height="7.17" fill="#1de2ff"/><rect x="574.02" y="314.10" width="6.51" height="7.17" fill="#19e6ff"/><rect x="580.48" y="314.10" width="6.51" height="7.17" fill="#16e9ff"/><rect x="586.94" y="314.10" width="6.51" height="7.17" fill="#14ebff"/><rect x="593.40" y="314.10" width="6.51" height="7.17" fill="#11eeff"/><rect x="599.86" y="314.10" width="6.51" height="7.17" fill="#0ff0ff"/><rect x="606.32" y="314.10" width="6.51" height="7.17" fill="#0df2ff"/><rect x="612.78" y="314.10" width="6.51" height="7.17" fill="#0bf4ff"/><rect x="619.24" y="314.10" width="6.51" height="7.17" fill="#0af5ff"/><rect x="625.70" y="314.10" width="6.51" height="7.17" fill="#08f7ff"/><rect x="632.16" y="314.10" width="6.51" height="7.17" fill="#07f8ff"/><rect x="638.62" y="314.10" width="6.51" height="7.17" fill="#05faff"/><rect x="645.08" y="314.10" width="6.51" height="7.17" fill="#04fbff"/><rect x="651.54" y="314.10" width="6.51" height="7.17" fill="#03fcff"/><rect x="658.00" y="314.10" width="12.97" height="7.17" fill="#02fdff"/><rect x="670.92" y="314.10" width="12.97" height="7.17" fill="#01feff"/><rect x="134.74" y="321.23" width="6.51" height="7.17" fill="#01feff"/><rect x="141.20" y="321.23" width="6.51" height="7.17" fill="#02fdff"/><rect x="147.66" y="321.23" width="6.51" height="7.17" fill="#03fcff"/><rect x="154.12" y="321.23" width="6.51" height="7.17" fill="#05faff"/><rect x="160.58" y="321.23" width="6.51" height="7.17" fill="#09f6ff"/><rect x="167.04" y="321.23" width="6.51" height="7.17" fill="#0df2ff"/><rect x="173.50" y="321.23" width="6.51" height="7.17" fill="#13ecff"/><rect x="179.96" y="321.23" width="6.51" height="7.17" fill="#1be4ff"/><rect x="186.42" y="321.23" width="6.51" height="7.17" fill="#24dbff"/><rect x="192.88" y="321.23" width="6.51" height="7.17" fill="#2ed1ff"/><rect x="199.34" y="321.23" width="6.51" height="7.17" fill="#39c6ff"/><rect x="205.80" y="321.23" width="6.51" height="7.17" fill="#44bbff"/><rect x="212.26" y="321.23" width="6.51" height="7.17" fill="#50afff"/><rect x="218.72" y="321.23" width="6.51" height="7.17" fill="#5ba4ff"/><rect x="225.18" y="321.23" width="6.51" height="7.17" fill="#6798ff"/><rect x="231.64" y="321.23" width="6.51" height="7.17" fill="#728dff"/><rect x="238.10" y="321.23" width="6.51" height="7.17" fill="#7c83ff"/><rect x="244.56" y="321.23" width="6.51" height="7.17" fill="#8679ff"/><rect x="251.02" y="321.23" width="6.51" height="7.17" fill="#8f70ff"/><rect x="257.48" y="321.23" width="6.51" height="7.17" fill="#9768ff"/><rect x="263.94" y="321.23" width="6.51" height="7.17" fill="#9f60ff"/><rect x="270.40" y="321.23" width="6.51" height="7.17" fill="#a659ff"/><rect x="276.86" y="321.23" width="6.51" height="7.17" fill="#ad52ff"/><rect x="283.32" y="321.23" width="6.51" height="7.17" fill="#b24dff"/><rect x="289.78" y="321.23" width="6.51" height="7.17" fill="#b748ff"/><rect x="296.24" y="321.23" width="6.51" height="7.17" fill="#bc43ff"/><rect x="302.70" y="321.23" width="6.51" height="7.17" fill="#c03fff"/><rect x="309.16" y="321.23" width="6.51" height="7.17" fill="#c33cff"/><rect x="315.62" y="321.23" width="6.51" height="7.17" fill="#c53aff"/><rect x="322.08" y="321.23" width="6.51" height="7.17" fill="#c738ff"/><rect x="328.54" y="321.23" width="12.97" height="7.17" fill="#c837ff"/><rect x="341.46" y="321.23" width="6.51" height="7.17" fill="#c738ff"/><rect x="347.92" y="321.23" width="6.51" height="7.17" fill="#c639ff"/><rect x="354.38" y="321.23" width="6.51" height="7.17" fill="#c43bff"/><rect x="360.84" y="321.23" width="6.51" height="7.17" fill="#c13eff"/><rect x="367.30" y="321.23" width="6.51" height="7.17" fill="#bd42ff"/><rect x="373.76" y="321.23" width="6.51" height="7.17" fill="#b946ff"/><rect x="380.22" y="321.23" width="6.51" height="7.17" fill="#b54aff"/><rect x="386.68" y="321.23" width="6.51" height="7.17" fill="#af50ff"/><rect x="393.14" y="321.23" width="6.51" height="7.17" fill="#aa55ff"/><rect x="399.60" y="321.23" width="6.51" height="7.17" fill="#a45bff"/><rect x="406.06" y="321.23" width="6.51" height="7.17" fill="#9e61ff"/><rect x="412.52" y="321.23" width="6.51" height="7.17" fill="#9768ff"/><rect x="418.98" y="321.23" width="6.51" height="7.17" fill="#916eff"/><rect x="425.44" y="321.23" width="6.51" height="7.17" fill="#8976ff"/><rect x="431.90" y="321.23" width="6.51" height="7.17" fill="#827dff"/><rect x="438.36" y="321.23" width="6.51" height="7.17" fill="#7b84ff"/><rect x="444.82" y="321.23" width="6.51" height="7.17" fill="#738cff"/><rect x="451.28" y="321.23" width="6.51" height="7.17" fill="#6c93ff"/><rect x="457.74" y="321.23" width="6.51" height="7.17" fill="#659aff"/><rect x="464.20" y="321.23" width="6.51" height="7.17" fill="#5ea1ff"/><rect x="470.66" y="321.23" width="6.51" height="7.17" fill="#57a8ff"/><rect x="477.12" y="321.23" width="6.51" height="7.17" fill="#50afff"/><rect x="483.58" y="321.23" width="6.51" height="7.17" fill="#4ab5ff"/><rect x="490.04" y="321.23" width="6.51" height="7.17" fill="#44bbff"/><rect x="496.50" y="321.23" width="6.51" height="7.17" fill="#3fc0ff"/><rect x="502.96" y="321.23" width="6.51" height="7.17" fill="#3ac5ff"/><rect x="509.42" y="321.23" width="6.51" height="7.17" fill="#35caff"/><rect x="515.88" y="321.23" width="6.51" height="7.17" fill="#30cfff"/><rect x="522.34" y="321.23" width="6.51" height="7.17" fill="#2cd3ff"/><rect x="528.80" y="321.23" width="6.51" height="7.17" fill="#28d7ff"/><rect x="535.26" y="321.23" width="6.51" height="7.17" fill="#24dbff"/><rect x="541.72" y="321.23" width="6.51" height="7.17" fill="#20dfff"/><rect x="548.18" y="321.23" width="6.51" height="7.17" fill="#1de2ff"/><rect x="554.64" y="321.23" width="6.51" height="7.17" fill="#1ae5ff"/><rect x="561.10" y="321.23" width="6.51" height="7.17" fill="#17e8ff"/><rect x="567.56" y="321.23" width="6.51" height="7.17" fill="#14ebff"/><rect x="574.02" y="321.23" width="6.51" height="7.17" fill="#11eeff"/><rect x="580.48" y="321.23" width="6.51" height="7.17" fill="#0ff0ff"/><rect x="586.94" y="321.23" width="6.51" height="7.17" fill="#0df2ff"/><rect x="593.40" y="321.23" width="6.51" height="7.17" fill="#0bf4ff"/><rect x="599.86" y="321.23" width="6.51" height="7.17" fill="#09f6ff"/><rect x="606.32" y="321.23" width="6.51" height="7.17" fill="#08f7ff"/><rect x="612.78" y="321.23" width="6.51" height="7.17" fill="#07f8ff"/><rect x="619.24" y="321.23" width="6.51" height="7.17" fill="#06f9ff"/><rect x="625.70" y="321.23" width="6.51" height="7.17" fill="#05faff"/><rect x="632.16" y="321.23" width="6.51" height="7.17" fill="#04fbff"/><rect x="638.62" y="321.23" width="6.51" height="7.17" fill="#03fcff"/><rect x="645.08" y="321.23" width="12.97" height="7.17" fill="#02fdff"/><rect x="658.00" y="321.23" width="19.43" height="7.17" fill="#01feff"/><rect x="134.74" y="328.35" width="12.97" height="7.17" fill="#01feff"/><rect x="147.66" y="328.35" width="6.51" height="7.17" fill="#02fdff"/><rect x="154.12" y="328.35" width="6.51" height="7.17" fill="#04fbff"/><rect x="160.58" y="328.35" width="6.51" height="7.17" fill="#06f9ff"/><rect x="167.04" y="328.35" width="6.51" height="7.17" fill="#0af5ff"/><rect x="173.50" y="328.35" width="6.51" height="7.17" fill="#0ef1ff"/><rect x="179.96" y="328.35" width="6.51" height="7.17" fill="#14ebff"/><rect x="186.42" y="328.35" width="6.51" height="7.17" fill="#1ae5ff"/><rect x="192.88" y="328.35" width="6.51" height="7.17" fill="#22ddff"/><rect x="199.34" y="328.35" width="6.51" height="7.17" fill="#2bd4ff"/><rect x="205.80" y="328.35" width="6.51" height="7.17" fill="#34cbff"/><rect x="212.26" y="328.35" width="6.51" height="7.17" fill="#3dc2ff"/><rect x="218.72" y="328.35" width="6.51" height="7.17" fill="#47b8ff"/><rect x="225.18" y="328.35" width="6.51" height="7.17" fill="#50afff"/><rect x="231.64" y="328.35" width="6.51" height="7.17" fill="#5aa5ff"/><rect x="238.10" y="328.35" width="6.51" height="7.17" fill="#639cff"/><rect x="244.56" y="328.35" width="6.51" height="7.17" fill="#6c93ff"/><rect x="251.02" y="328.35" width="6.51" height="7.17" fill="#748bff"/><rect x="257.48" y="328.35" width="6.51" height="7.17" fill="#7c83ff"/><rect x="263.94" y="328.35" width="6.51" height="7.17" fill="#847bff"/><rect x="270.40" y="328.35" width="6.51" height="7.17" fill="#8b74ff"/><rect x="276.86" y="328.35" width="6.51" height="7.17" fill="#926dff"/><rect x="283.32" y="328.35" width="6.51" height="7.17" fill="#9867ff"/><rect x="289.78" y="328.35" width="6.51" height="7.17" fill="#9e61ff"/><rect x="296.24" y="328.35" width="6.51" height="7.17" fill="#a35cff"/><rect x="302.70" y="328.35" width="6.51" height="7.17" fill="#a857ff"/><rect x="309.16" y="328.35" width="6.51" height="7.17" fill="#ac53ff"/><rect x="315.62" y="328.35" width="6.51" height="7.17" fill="#af50ff"/><rect x="322.08" y="328.35" width="6.51" height="7.17" fill="#b14eff"/><rect x="328.54" y="328.35" width="6.51" height="7.17" fill="#b34cff"/><rect x="335.00" y="328.35" width="12.97" height="7.17" fill="#b44bff"/><rect x="347.92" y="328.35" width="6.51" height="7.17" fill="#b34cff"/><rect x="354.38" y="328.35" width="6.51" height="7.17" fill="#b14eff"/><rect x="360.84" y="328.35" width="6.51" height="7.17" fill="#ae51ff"/><rect x="367.30" y="328.35" width="6.51" height="7.17" fill="#aa55ff"/><rect x="373.76" y="328.35" width="6.51" height="7.17" fill="#a659ff"/><rect x="380.22" y="328.35" width="6.51" height="7.17" fill="#a15eff"/><rect x="386.68" y="328.35" width="6.51" height="7.17" fill="#9b64ff"/><rect x="393.14" y="328.35" width="6.51" height="7.17" fill="#956aff"/><rect x="399.60" y="328.35" width="6.51" height="7.17" fill="#8f70ff"/><rect x="406.06" y="328.35" width="6.51" height="7.17" fill="#8976ff"/><rect x="412.52" y="328.35" width="6.51" height="7.17" fill="#827dff"/><rect x="418.98" y="328.35" width="6.51" height="7.17" fill="#7b84ff"/><rect x="425.44" y="328.35" width="6.51" height="7.17" fill="#748bff"/><rect x="431.90" y="328.35" width="6.51" height="7.17" fill="#6d92ff"/><rect x="438.36" y="328.35" width="6.51" height="7.17" fill="#6699ff"/><rect x="444.82" y="328.35" width="6.51" height="7.17" fill="#5ea1ff"/><rect x="451.28" y="328.35" width="6.51" height="7.17" fill="#57a8ff"/><rect x="457.74" y="328.35" width="6.51" height="7.17" fill="#51aeff"/><rect x="464.20" y="328.35" width="6.51" height="7.17" fill="#4ab5ff"/><rect x="470.66" y="328.35" width="6.51" height="7.17" fill="#44bbff"/><rect x="477.12" y="328.35" width="6.51" height="7.17" fill="#3ec1ff"/><rect x="483.58" y="328.35" width="6.51" height="7.17" fill="#38c7ff"/><rect x="490.04" y="328.35" width="6.51" height="7.17" fill="#33ccff"/><rect x="496.50" y="328.35" width="6.51" height="7.17" fill="#2ed1ff"/><rect x="502.96" y="328.35" width="6.51" height="7.17" fill="#2ad5ff"/><rect x="509.42" y="328.35" width="6.51" height="7.17" fill="#26d9ff"/><rect x="515.88" y="328.35" width="6.51" height="7.17" fill="#22ddff"/><rect x="522.34" y="328.35" width="6.51" height="7.17" fill="#1fe0ff"/><rect x="528.80" y="328.35" width="6.51" height="7.17" fill="#1ce3ff"/><rect x="535.26" y="328.35" width="6.51" height="7.17" fill="#19e6ff"/><rect x="541.72" y="328.35" width="6.51" height="7.17" fill="#16e9ff"/><rect x="548.18" y="328.35" width="6.51" height="7.17" fill="#13ecff"/><rect x="554.64" y="328.35" width="6.51" height="7.17" fill="#11eeff"/><rect x="561.10" y="328.35" width="6.51" height="7.17" fill="#0ff0ff"/><rect x="567.56" y="328.35" width="6.51" height="7.17" fill="#0df2ff"/><rect x="574.02" y="328.35" width="6.51" height="7.17" fill="#0bf4ff"/><rect x="580.48" y="328.35" width="6.51" height="7.17" fill="#09f6ff"/><rect x="586.94" y="328.35" width="6.51" height="7.17" fill="#08f7ff"/><rect x="593.40" y="328.35" width="6.51" height="7.17" fill="#07f8ff"/><rect x="599.86" y="328.35" width="6.51" height="7.17" fill="#06f9ff"/><rect x="606.32" y="328.35" width="6.51" height="7.17" fill="#05faff"/><rect x="612.78" y="328.35" width="6.51" height="7.17" fill="#04fbff"/><rect x="619.24" y="328.35" width="12.97" height="7.17" fill="#03fcff"/><rect x="632.16" y="328.35" width="12.97" height="7.17" fill="#02fdff"/><rect x="645.08" y="328.35" width="25.89" height="7.17" fill="#01feff"/><rect x="141.20" y="335.48" width="6.51" height="7.17" fill="#01feff"/><rect x="147.66" y="335.48" width="6.51" height="7.17" fill="#02fdff"/><rect x="154.12" y="335.48" width="6.51" height="7.17" fill="#03fcff"/><rect x="160.58" y="335.48" width="6.51" height="7.17" fill="#04fbff"/><rect x="167.04" y="335.48" width="6.51" height="7.17" fill="#07f8ff"/><rect x="173.50" y="335.48" width="6.51" height="7.17" fill="#0af5ff"/><rect x="179.96" y="335.48" width="6.51" height="7.17" fill="#0ef1ff"/><rect x="186.42" y="335.48" width="6.51" height="7.17" fill="#12edff"/><rect x="192.88" y="335.48" width="6.51" height="7.17" fill="#18e7ff"/><rect x="199.34" y="335.48" width="6.51" height="7.17" fill="#1ee1ff"/><rect x="205.80" y="335.48" width="6.51" height="7.17" fill="#25daff"/><rect x="212.26" y="335.48" width="6.51" height="7.17" fill="#2cd3ff"/><rect x="218.72" y="335.48" width="6.51" height="7.17" fill="#33ccff"/><rect x="225.18" y="335.48" width="6.51" height="7.17" fill="#3bc4ff"/><rect x="231.64" y="335.48" width="6.51" height="7.17" fill="#43bcff"/><rect x="238.10" y="335.48" width="6.51" height="7.17" fill="#4bb4ff"/><rect x="244.56" y="335.48" width="6.51" height="7.17" fill="#52adff"/><rect x="251.02" y="335.48" width="6.51" height="7.17" fill="#5aa5ff"/><rect x="257.48" y="335.48" width="6.51" height="7.17" fill="#629dff"/><rect x="263.94" y="335.48" width="6.51" height="7.17" fill="#6996ff"/><rect x="270.40" y="335.48" width="6.51" height="7.17" fill="#708fff"/><rect x="276.86" y="335.48" width="6.51" height="7.17" fill="#7788ff"/><rect x="283.32" y="335.48" width="6.51" height="7.17" fill="#7d82ff"/><rect x="289.78" y="335.48" width="6.51" height="7.17" fill="#837cff"/><rect x="296.24" y="335.48" width="6.51" height="7.17" fill="#8976ff"/><rect x="302.70" y="335.48" width="6.51" height="7.17" fill="#8e71ff"/><rect x="309.16" y="335.48" width="6.51" height="7.17" fill="#936cff"/><rect x="315.62" y="335.48" width="6.51" height="7.17" fill="#9768ff"/><rect x="322.08" y="335.48" width="6.51" height="7.17" fill="#9a65ff"/><rect x="328.54" y="335.48" width="6.51" height="7.17" fill="#9c63ff"/><rect x="335.00" y="335.48" width="6.51" height="7.17" fill="#9d62ff"/><rect x="341.46" y="335.48" width="6.51" height="7.17" fill="#9e61ff"/><rect x="347.92" y="335.48" width="6.51" height="7.17" fill="#9d62ff"/><rect x="354.38" y="335.48" width="6.51" height="7.17" fill="#9b64ff"/><rect x="360.84" y="335.48" width="6.51" height="7.17" fill="#9867ff"/><rect x="367.30" y="335.48" width="6.51" height="7.17" fill="#946bff"/><rect x="373.76" y="335.48" width="6.51" height="7.17" fill="#8f70ff"/><rect x="380.22" y="335.48" width="6.51" height="7.17" fill="#8a75ff"/><rect x="386.68" y="335.48" width="6.51" height="7.17" fill="#857aff"/><rect x="393.14" y="335.48" width="6.51" height="7.17" fill="#7f80ff"/><rect x="399.60" y="335.48" width="6.51" height="7.17" fill="#7986ff"/><rect x="406.06" y="335.48" width="6.51" height="7.17" fill="#728dff"/><rect x="412.52" y="335.48" width="6.51" height="7.17" fill="#6c93ff"/><rect x="418.98" y="335.48" width="6.51" height="7.17" fill="#659aff"/><rect x="425.44" y="335.48" width="6.51" height="7.17" fill="#5ea1ff"/><rect x="431.90" y="335.48" width="6.51" height="7.17" fill="#57a8ff"/><rect x="438.36" y="335.48" width="6.51" height="7.17" fill="#51aeff"/><rect x="444.82" y="335.48" width="6.51" height="7.17" fill="#4ab5ff"/><rect x="451.28" y="335.48" width="6.51" height="7.17" fill="#44bbff"/><rect x="457.74" y="335.48" width="6.51" height="7.17" fill="#3ec1ff"/><rect x="464.20" y="335.48" width="6.51" height="7.17" fill="#38c7ff"/><rect x="470.66" y="335.48" width="6.51" height="7.17" fill="#32cdff"/><rect x="477.12" y="335.48" width="6.51" height="7.17" fill="#2dd2ff"/><rect x="483.58" y="335.48" width="6.51" height="7.17" fill="#29d6ff"/><rect x="490.04" y="335.48" width="6.51" height="7.17" fill="#25daff"/><rect x="496.50" y="335.48" width="6.51" height="7.17" fill="#21deff"/><rect x="502.96" y="335.48" width="6.51" height="7.17" fill="#1de2ff"/><rect x="509.42" y="335.48" width="6.51" height="7.17" fill="#1ae5ff"/><rect x="515.88" y="335.48" width="6.51" height="7.17" fill="#17e8ff"/><rect x="522.34" y="335.48" width="6.51" height="7.17" fill="#15eaff"/><rect x="528.80" y="335.48" width="6.51" height="7.17" fill="#12edff"/><rect x="535.26" y="335.48" width="6.51" height="7.17" fill="#10efff"/><rect x="541.72" y="335.48" width="6.51" height="7.17" fill="#0ef1ff"/><rect x="548.18" y="335.48" width="6.51" height="7.17" fill="#0cf3ff"/><rect x="554.64" y="335.48" width="6.51" height="7.17" fill="#0bf4ff"/><rect x="561.10" y="335.48" width="6.51" height="7.17" fill="#09f6ff"/><rect x="567.56" y="335.48" width="6.51" height="7.17" fill="#08f7ff"/><rect x="574.02" y="335.48" width="6.51" height="7.17" fill="#07f8ff"/><rect x="580.48" y="335.48" width="12.97" height="7.17" fill="#05faff"/><rect x="593.40" y="335.48" width="6.51" height="7.17" fill="#04fbff"/><rect x="599.86" y="335.48" width="12.97" height="7.17" fill="#03fcff"/><rect x="612.78" y="335.48" width="12.97" height="7.17" fill="#02fdff"/><rect x="625.70" y="335.48" width="32.35" height="7.17" fill="#01feff"/><rect x="141.20" y="342.60" width="12.97" height="7.17" fill="#01feff"/><rect x="154.12" y="342.60" width="6.51" height="7.17" fill="#02fdff"/><rect x="160.58" y="342.60" width="6.51" height="7.17" fill="#03fcff"/><rect x="167.04" y="342.60" width="6.51" height="7.17" fill="#04fbff"/><rect x="173.50" y="342.60" width="6.51" height="7.17" fill="#06f9ff"/><rect x="179.96" y="342.60" width="6.51" height="7.17" fill="#09f6ff"/><rect x="186.42" y="342.60" width="6.51" height="7.17" fill="#0cf3ff"/><rect x="192.88" y="342.60" width="6.51" height="7.17" fill="#10efff"/><rect x="199.34" y="342.60" width="6.51" height="7.17" fill="#14ebff"/><rect x="205.80" y="342.60" width="6.51" height="7.17" fill="#19e6ff"/><rect x="212.26" y="342.60" width="6.51" height="7.17" fill="#1ee1ff"/><rect x="218.72" y="342.60" width="6.51" height="7.17" fill="#23dcff"/><rect x="225.18" y="342.60" width="6.51" height="7.17" fill="#29d6ff"/><rect x="231.64" y="342.60" width="6.51" height="7.17" fill="#2fd0ff"/><rect x="238.10" y="342.60" width="6.51" height="7.17" fill="#35caff"/><rect x="244.56" y="342.60" width="6.51" height="7.17" fill="#3cc3ff"/><rect x="251.02" y="342.60" width="6.51" height="7.17" fill="#42bdff"/><rect x="257.48" y="342.60" width="6.51" height="7.17" fill="#49b6ff"/><rect x="263.94" y="342.60" width="6.51" height="7.17" fill="#4fb0ff"/><rect x="270.40" y="342.60" width="6.51" height="7.17" fill="#56a9ff"/><rect x="276.86" y="342.60" width="6.51" height="7.17" fill="#5ca3ff"/><rect x="283.32" y="342.60" width="6.51" height="7.17" fill="#629dff"/><rect x="289.78" y="342.60" width="6.51" height="7.17" fill="#6897ff"/><rect x="296.24" y="342.60" width="6.51" height="7.17" fill="#6e91ff"/><rect x="302.70" y="342.60" width="6.51" height="7.17" fill="#748bff"/><rect x="309.16" y="342.60" width="6.51" height="7.17" fill="#7986ff"/><rect x="315.62" y="342.60" width="6.51" height="7.17" fill="#7d82ff"/><rect x="322.08" y="342.60" width="6.51" height="7.17" fill="#817eff"/><rect x="328.54" y="342.60" width="6.51" height="7.17" fill="#837cff"/><rect x="335.00" y="342.60" width="6.51" height="7.17" fill="#857aff"/><rect x="341.46" y="342.60" width="6.51" height="7.17" fill="#8679ff"/><rect x="347.92" y="342.60" width="6.51" height="7.17" fill="#857aff"/><rect x="354.38" y="342.60" width="6.51" height="7.17" fill="#837cff"/><rect x="360.84" y="342.60" width="6.51" height="7.17" fill="#807fff"/><rect x="367.30" y="342.60" width="6.51" height="7.17" fill="#7c83ff"/><rect x="373.76" y="342.60" width="6.51" height="7.17" fill="#7887ff"/><rect x="380.22" y="342.60" width="6.51" height="7.17" fill="#738cff"/><rect x="386.68" y="342.60" width="6.51" height="7.17" fill="#6d92ff"/><rect x="393.14" y="342.60" width="6.51" height="7.17" fill="#6897ff"/><rect x="399.60" y="342.60" width="6.51" height="7.17" fill="#629dff"/><rect x="406.06" y="342.60" width="6.51" height="7.17" fill="#5ca3ff"/><rect x="412.52" y="342.60" width="6.51" height="7.17" fill="#55aaff"/><rect x="418.98" y="342.60" width="6.51" height="7.17" fill="#4fb0ff"/><rect x="425.44" y="342.60" width="6.51" height="7.17" fill="#49b6ff"/><rect x="431.90" y="342.60" width="6.51" height="7.17" fill="#43bcff"/><rect x="438.36" y="342.60" width="6.51" height="7.17" fill="#3dc2ff"/><rect x="444.82" y="342.60" width="6.51" height="7.17" fill="#37c8ff"/><rect x="451.28" y="342.60" width="6.51" height="7.17" fill="#32cdff"/><rect x="457.74" y="342.60" width="6.51" height="7.17" fill="#2dd2ff"/><rect x="464.20" y="342.60" width="6.51" height="7.17" fill="#28d7ff"/><rect x="470.66" y="342.60" width="6.51" height="7.17" fill="#24dbff"/><rect x="477.12" y="342.60" width="6.51" height="7.17" fill="#20dfff"/><rect x="483.58" y="342.60" width="6.51" height="7.17" fill="#1ce3ff"/><rect x="490.04" y="342.60" width="6.51" height="7.17" fill="#19e6ff"/><rect x="496.50" y="342.60" width="6.51" height="7.17" fill="#16e9ff"/><rect x="502.96" y="342.60" width="6.51" height="7.17" fill="#13ecff"/><rect x="509.42" y="342.60" width="6.51" height="7.17" fill="#11eeff"/><rect x="515.88" y="342.60" width="6.51" height="7.17" fill="#0ff0ff"/><rect x="522.34" y="342.60" width="6.51" height="7.17" fill="#0df2ff"/><rect x="528.80" y="342.60" width="6.51" height="7.17" fill="#0bf4ff"/><rect x="535.26" y="342.60" width="6.51" height="7.17" fill="#0af5ff"/><rect x="541.72" y="342.60" width="6.51" height="7.17" fill="#09f6ff"/><rect x="548.18" y="342.60" width="6.51" height="7.17" fill="#07f8ff"/><rect x="554.64" y="342.60" width="6.51" height="7.17" fill="#06f9ff"/><rect x="561.10" y="342.60" width="6.51" height="7.17" fill="#05faff"/><rect x="567.56" y="342.60" width="12.97" height="7.17" fill="#04fbff"/><rect x="580.48" y="342.60" width="12.97" height="7.17" fill="#03fcff"/><rect x="593.40" y="342.60" width="12.97" height="7.17" fill="#02fdff"/><rect x="606.32" y="342.60" width="32.35" height="7.17" fill="#01feff"/><rect x="147.66" y="349.73" width="12.97" height="7.17" fill="#01feff"/><rect x="160.58" y="349.73" width="12.97" height="7.17" fill="#02fdff"/><rect x="173.50" y="349.73" width="6.51" height="7.17" fill="#04fbff"/><rect x="179.96" y="349.73" width="6.51" height="7.17" fill="#05faff"/><rect x="186.42" y="349.73" width="6.51" height="7.17" fill="#07f8ff"/><rect x="192.88" y="349.73" width="6.51" height="7.17" fill="#0af5ff"/><rect x="199.34" y="349.73" width="6.51" height="7.17" fill="#0cf3ff"/><rect x="205.80" y="349.73" width="6.51" height="7.17" fill="#0ff0ff"/><rect x="212.26" y="349.73" width="6.51" height="7.17" fill="#13ecff"/><rect x="218.72" y="349.73" width="6.51" height="7.17" fill="#17e8ff"/><rect x="225.18" y="349.73" width="6.51" height="7.17" fill="#1be4ff"/><rect x="231.64" y="349.73" width="6.51" height="7.17" fill="#1fe0ff"/><rect x="238.10" y="349.73" width="6.51" height="7.17" fill="#24dbff"/><rect x="244.56" y="349.73" width="6.51" height="7.17" fill="#29d6ff"/><rect x="251.02" y="349.73" width="6.51" height="7.17" fill="#2ed1ff"/><rect x="257.48" y="349.73" width="6.51" height="7.17" fill="#34cbff"/><rect x="263.94" y="349.73" width="6.51" height="7.17" fill="#39c6ff"/><rect x="270.40" y="349.73" width="6.51" height="7.17" fill="#3fc0ff"/><rect x="276.86" y="349.73" width="6.51" height="7.17" fill="#44bbff"/><rect x="283.32" y="349.73" width="6.51" height="7.17" fill="#4ab5ff"/><rect x="289.78" y="349.73" width="6.51" height="7.17" fill="#4fb0ff"/><rect x="296.24" y="349.73" width="6.51" height="7.17" fill="#55aaff"/><rect x="302.70" y="349.73" width="6.51" height="7.17" fill="#5aa5ff"/><rect x="309.16" y="349.73" width="6.51" height="7.17" fill="#5fa0ff"/><rect x="315.62" y="349.73" width="6.51" height="7.17" fill="#649bff"/><rect x="322.08" y="349.73" width="6.51" height="7.17" fill="#6897ff"/><rect x="328.54" y="349.73" width="6.51" height="7.17" fill="#6b94ff"/><rect x="335.00" y="349.73" width="6.51" height="7.17" fill="#6c93ff"/><rect x="341.46" y="349.73" width="12.97" height="7.17" fill="#6d92ff"/><rect x="354.38" y="349.73" width="6.51" height="7.17" fill="#6b94ff"/><rect x="360.84" y="349.73" width="6.51" height="7.17" fill="#6897ff"/><rect x="367.30" y="349.73" width="6.51" height="7.17" fill="#659aff"/><rect x="373.76" y="349.73" width="6.51" height="7.17" fill="#609fff"/><rect x="380.22" y="349.73" width="6.51" height="7.17" fill="#5ba4ff"/><rect x="386.68" y="349.73" width="6.51" height="7.17" fill="#56a9ff"/><rect x="393.14" y="349.73" width="6.51" height="7.17" fill="#51aeff"/><rect x="399.60" y="349.73" width="6.51" height="7.17" fill="#4cb3ff"/><rect x="406.06" y="349.73" width="6.51" height="7.17" fill="#46b9ff"/><rect x="412.52" y="349.73" width="6.51" height="7.17" fill="#41beff"/><rect x="418.98" y="349.73" width="6.51" height="7.17" fill="#3bc4ff"/><rect x="425.44" y="349.73" width="6.51" height="7.17" fill="#36c9ff"/><rect x="431.90" y="349.73" width="6.51" height="7.17" fill="#31ceff"/><rect x="438.36" y="349.73" width="6.51" height="7.17" fill="#2cd3ff"/><rect x="444.82" y="349.73" width="6.51" height="7.17" fill="#27d8ff"/><rect x="451.28" y="349.73" width="6.51" height="7.17" fill="#23dcff"/><rect x="457.74" y="349.73" width="6.51" height="7.17" fill="#1fe0ff"/><rect x="464.20" y="349.73" width="6.51" height="7.17" fill="#1be4ff"/><rect x="470.66" y="349.73" width="6.51" height="7.17" fill="#18e7ff"/><rect x="477.12" y="349.73" width="6.51" height="7.17" fill="#15eaff"/><rect x="483.58" y="349.73" width="6.51" height="7.17" fill="#12edff"/><rect x="490.04" y="349.73" width="6.51" height="7.17" fill="#10efff"/><rect x="496.50" y="349.73" width="6.51" height="7.17" fill="#0ef1ff"/><rect x="502.96" y="349.73" width="6.51" height="7.17" fill="#0cf3ff"/><rect x="509.42" y="349.73" width="6.51" height="7.17" fill="#0af5ff"/><rect x="515.88" y="349.73" width="6.51" height="7.17" fill="#09f6ff"/><rect x="522.34" y="349.73" width="6.51" height="7.17" fill="#08f7ff"/><rect x="528.80" y="349.73" width="6.51" height="7.17" fill="#07f8ff"/><rect x="535.26" y="349.73" width="6.51" height="7.17" fill="#06f9ff"/><rect x="541.72" y="349.73" width="6.51" height="7.17" fill="#05faff"/><rect x="548.18" y="349.73" width="6.51" height="7.17" fill="#04fbff"/><rect x="554.64" y="349.73" width="12.97" height="7.17" fill="#03fcff"/><rect x="567.56" y="349.73" width="19.43" height="7.17" fill="#02fdff"/><rect x="586.94" y="349.73" width="32.35" height="7.17" fill="#01feff"/><rect x="154.12" y="356.85" width="19.43" height="7.17" fill="#01feff"/><rect x="173.50" y="356.85" width="6.51" height="7.17" fill="#02fdff"/><rect x="179.96" y="356.85" width="6.51" height="7.17" fill="#03fcff"/><rect x="186.42" y="356.85" width="6.51" height="7.17" fill="#04fbff"/><rect x="192.88" y="356.85" width="6.51" height="7.17" fill="#05faff"/><rect x="199.34" y="356.85" width="6.51" height="7.17" fill="#07f8ff"/><rect x="205.80" y="356.85" width="6.51" height="7.17" fill="#09f6ff"/><rect x="212.26" y="356.85" width="6.51" height="7.17" fill="#0bf4ff"/><rect x="218.72" y="356.85" width="6.51" height="7.17" fill="#0ef1ff"/><rect x="225.18" y="356.85" width="6.51" height="7.17" fill="#11eeff"/><rect x="231.64" y="356.85" width="6.51" height="7.17" fill="#14ebff"/><rect x="238.10" y="356.85" width="6.51" height="7.17" fill="#17e8ff"/><rect x="244.56" y="356.85" width="6.51" height="7.17" fill="#1be4ff"/><rect x="251.02" y="356.85" width="6.51" height="7.17" fill="#1ee1ff"/><rect x="257.48" y="356.85" width="6.51" height="7.17" fill="#23dcff"/><rect x="263.94" y="356.85" width="6.51" height="7.17" fill="#27d8ff"/><rect x="270.40" y="356.85" width="6.51" height="7.17" fill="#2bd4ff"/><rect x="276.86" y="356.85" width="6.51" height="7.17" fill="#30cfff"/><rect x="283.32" y="356.85" width="6.51" height="7.17" fill="#35caff"/><rect x="289.78" y="356.85" width="6.51" height="7.17" fill="#3ac5ff"/><rect x="296.24" y="356.85" width="6.51" height="7.17" fill="#3ec1ff"/><rect x="302.70" y="356.85" width="6.51" height="7.17" fill="#43bcff"/><rect x="309.16" y="356.85" width="6.51" height="7.17" fill="#48b7ff"/><rect x="315.62" y="356.85" width="6.51" height="7.17" fill="#4cb3ff"/><rect x="322.08" y="356.85" width="6.51" height="7.17" fill="#50afff"/><rect x="328.54" y="356.85" width="6.51" height="7.17" fill="#53acff"/><rect x="335.00" y="356.85" width="19.43" height="7.17" fill="#55aaff"/><rect x="354.38" y="356.85" width="6.51" height="7.17" fill="#54abff"/><rect x="360.84" y="356.85" width="6.51" height="7.17" fill="#51aeff"/><rect x="367.30" y="356.85" width="6.51" height="7.17" fill="#4eb1ff"/><rect x="373.76" y="356.85" width="6.51" height="7.17" fill="#4ab5ff"/><rect x="380.22" y="356.85" width="6.51" height="7.17" fill="#46b9ff"/><rect x="386.68" y="356.85" width="6.51" height="7.17" fill="#41beff"/><rect x="393.14" y="356.85" width="6.51" height="7.17" fill="#3cc3ff"/><rect x="399.60" y="356.85" width="6.51" height="7.17" fill="#38c7ff"/><rect x="406.06" y="356.85" width="6.51" height="7.17" fill="#33ccff"/><rect x="412.52" y="356.85" width="6.51" height="7.17" fill="#2ed1ff"/><rect x="418.98" y="356.85" width="6.51" height="7.17" fill="#2ad5ff"/><rect x="425.44" y="356.85" width="6.51" height="7.17" fill="#26d9ff"/><rect x="431.90" y="356.85" width="6.51" height="7.17" fill="#22ddff"/><rect x="438.36" y="356.85" width="6.51" height="7.17" fill="#1ee1ff"/><rect x="444.82" y="356.85" width="6.51" height="7.17" fill="#1be4ff"/><rect x="451.28" y="356.85" width="6.51" height="7.17" fill="#17e8ff"/><rect x="457.74" y="356.85" width="6.51" height="7.17" fill="#14ebff"/><rect x="464.20" y="356.85" width="6.51" height="7.17" fill="#12edff"/><rect x="470.66" y="356.85" width="6.51" height="7.17" fill="#0ff0ff"/><rect x="477.12" y="356.85" width="6.51" height="7.17" fill="#0df2ff"/><rect x="483.58" y="356.85" width="6.51" height="7.17" fill="#0bf4ff"/><rect x="490.04" y="356.85" width="6.51" height="7.17" fill="#0af5ff"/><rect x="496.50" y="356.85" width="6.51" height="7.17" fill="#08f7ff"/><rect x="502.96" y="356.85" width="6.51" height="7.17" fill="#07f8ff"/><rect x="509.42" y="356.85" width="6.51" height="7.17" fill="#06f9ff"/><rect x="515.88" y="356.85" width="6.51" height="7.17" fill="#05faff"/><rect x="522.34" y="356.85" width="12.97" height="7.17" fill="#04fbff"/><rect x="535.26" y="356.85" width="12.97" height="7.17" fill="#03fcff"/><rect x="548.18" y="356.85" width="12.97" height="7.17" fill="#02fdff"/><rect x="561.10" y="356.85" width="32.35" height="7.17" fill="#01feff"/><rect x="167.04" y="363.98" width="12.97" height="7.17" fill="#01feff"/><rect x="179.96" y="363.98" width="12.97" height="7.17" fill="#02fdff"/><rect x="192.88" y="363.98" width="6.51" height="7.17" fill="#03fcff"/><rect x="199.34" y="363.98" width="6.51" height="7.17" fill="#04fbff"/><rect x="205.80" y="363.98" width="6.51" height="7.17" fill="#05faff"/><rect x="212.26" y="363.98" width="6.51" height="7.17" fill="#06f9ff"/><rect x="218.72" y="363.98" width="6.51" height="7.17" fill="#08f7ff"/><rect x="225.18" y="363.98" width="6.51" height="7.17" fill="#0af5ff"/><rect x="231.64" y="363.98" width="6.51" height="7.17" fill="#0cf3ff"/><rect x="238.10" y="363.98" width="6.51" height="7.17" fill="#0ef1ff"/><rect x="244.56" y="363.98" width="6.51" height="7.17" fill="#10efff"/><rect x="251.02" y="363.98" width="6.51" height="7.17" fill="#13ecff"/><rect x="257.48" y="363.98" width="6.51" height="7.17" fill="#16e9ff"/><rect x="263.94" y="363.98" width="6.51" height="7.17" fill="#19e6ff"/><rect x="270.40" y="363.98" width="6.51" height="7.17" fill="#1ce3ff"/><rect x="276.86" y="363.98" width="6.51" height="7.17" fill="#20dfff"/><rect x="283.32" y="363.98" width="6.51" height="7.17" fill="#24dbff"/><rect x="289.78" y="363.98" width="6.51" height="7.17" fill="#28d7ff"/><rect x="296.24" y="363.98" width="6.51" height="7.17" fill="#2cd3ff"/><rect x="302.70" y="363.98" width="6.51" height="7.17" fill="#30cfff"/><rect x="309.16" y="363.98" width="6.51" height="7.17" fill="#34cbff"/><rect x="315.62" y="363.98" width="6.51" height="7.17" fill="#37c8ff"/><rect x="322.08" y="363.98" width="6.51" height="7.17" fill="#3bc4ff"/><rect x="328.54" y="363.98" width="6.51" height="7.17" fill="#3dc2ff"/><rect x="335.00" y="363.98" width="6.51" height="7.17" fill="#3fc0ff"/><rect x="341.46" y="363.98" width="6.51" height="7.17" fill="#40bfff"/><rect x="347.92" y="363.98" width="6.51" height="7.17" fill="#3fc0ff"/><rect x="354.38" y="363.98" width="6.51" height="7.17" fill="#3ec1ff"/><rect x="360.84" y="363.98" width="6.51" height="7.17" fill="#3cc3ff"/><rect x="367.30" y="363.98" width="6.51" height="7.17" fill="#39c6ff"/><rect x="373.76" y="363.98" width="6.51" height="7.17" fill="#36c9ff"/><rect x="380.22" y="363.98" width="6.51" height="7.17" fill="#32cdff"/><rect x="386.68" y="363.98" width="6.51" height="7.17" fill="#2ed1ff"/><rect x="393.14" y="363.98" width="6.51" height="7.17" fill="#2bd4ff"/><rect x="399.60" y="363.98" width="6.51" height="7.17" fill="#27d8ff"/><rect x="406.06" y="363.98" width="6.51" height="7.17" fill="#23dcff"/><rect x="412.52" y="363.98" width="6.51" height="7.17" fill="#20dfff"/><rect x="418.98" y="363.98" width="6.51" height="7.17" fill="#1ce3ff"/><rect x="425.44" y="363.98" width="6.51" height="7.17" fill="#19e6ff"/><rect x="431.90" y="363.98" width="6.51" height="7.17" fill="#16e9ff"/><rect x="438.36" y="363.98" width="6.51" height="7.17" fill="#13ecff"/><rect x="444.82" y="363.98" width="6.51" height="7.17" fill="#11eeff"/><rect x="451.28" y="363.98" width="6.51" height="7.17" fill="#0ff0ff"/><rect x="457.74" y="363.98" width="6.51" height="7.17" fill="#0cf3ff"/><rect x="464.20" y="363.98" width="6.51" height="7.17" fill="#0bf4ff"/><rect x="470.66" y="363.98" width="6.51" height="7.17" fill="#09f6ff"/><rect x="477.12" y="363.98" width="6.51" height="7.17" fill="#08f7ff"/><rect x="483.58" y="363.98" width="6.51" height="7.17" fill="#06f9ff"/><rect x="490.04" y="363.98" width="12.97" height="7.17" fill="#05faff"/><rect x="502.96" y="363.98" width="6.51" height="7.17" fill="#04fbff"/><rect x="509.42" y="363.98" width="12.97" height="7.17" fill="#03fcff"/><rect x="522.34" y="363.98" width="19.43" height="7.17" fill="#02fdff"/><rect x="541.72" y="363.98" width="32.35" height="7.17" fill="#01feff"/><rect x="179.96" y="371.10" width="19.43" height="7.17" fill="#01feff"/><rect x="199.34" y="371.10" width="6.51" height="7.17" fill="#02fdff"/><rect x="205.80" y="371.10" width="12.97" height="7.17" fill="#03fcff"/><rect x="218.72" y="371.10" width="6.51" height="7.17" fill="#04fbff"/><rect x="225.18" y="371.10" width="6.51" height="7.17" fill="#05faff"/><rect x="231.64" y="371.10" width="6.51" height="7.17" fill="#06f9ff"/><rect x="238.10" y="371.10" width="6.51" height="7.17" fill="#08f7ff"/><rect x="244.56" y="371.10" width="6.51" height="7.17" fill="#09f6ff"/><rect x="251.02" y="371.10" width="6.51" height="7.17" fill="#0bf4ff"/><rect x="257.48" y="371.10" width="6.51" height="7.17" fill="#0df2ff"/><rect x="263.94" y="371.10" width="6.51" height="7.17" fill="#0ff0ff"/><rect x="270.40" y="371.10" width="6.51" height="7.17" fill="#12edff"/><rect x="276.86" y="371.10" width="6.51" height="7.17" fill="#14ebff"/><rect x="283.32" y="371.10" width="6.51" height="7.17" fill="#17e8ff"/><rect x="289.78" y="371.10" width="6.51" height="7.17" fill="#1ae5ff"/><rect x="296.24" y="371.10" width="6.51" height="7.17" fill="#1de2ff"/><rect x="302.70" y="371.10" width="6.51" height="7.17" fill="#20dfff"/><rect x="309.16" y="371.10" width="6.51" height="7.17" fill="#23dcff"/><rect x="315.62" y="371.10" width="6.51" height="7.17" fill="#26d9ff"/><rect x="322.08" y="371.10" width="6.51" height="7.17" fill="#29d6ff"/><rect x="328.54" y="371.10" width="6.51" height="7.17" fill="#2bd4ff"/><rect x="335.00" y="371.10" width="19.43" height="7.17" fill="#2dd2ff"/><rect x="354.38" y="371.10" width="6.51" height="7.17" fill="#2cd3ff"/><rect x="360.84" y="371.10" width="6.51" height="7.17" fill="#2ad5ff"/><rect x="367.30" y="371.10" width="6.51" height="7.17" fill="#28d7ff"/><rect x="373.76" y="371.10" width="6.51" height="7.17" fill="#25daff"/><rect x="380.22" y="371.10" width="6.51" height="7.17" fill="#22ddff"/><rect x="386.68" y="371.10" width="6.51" height="7.17" fill="#1fe0ff"/><rect x="393.14" y="371.10" width="6.51" height="7.17" fill="#1ce3ff"/><rect x="399.60" y="371.10" width="6.51" height="7.17" fill="#1ae5ff"/><rect x="406.06" y="371.10" width="6.51" height="7.17" fill="#17e8ff"/><rect x="412.52" y="371.10" width="6.51" height="7.17" fill="#14ebff"/><rect x="418.98" y="371.10" width="6.51" height="7.17" fill="#12edff"/><rect x="425.44" y="371.10" width="6.51" height="7.17" fill="#10efff"/><rect x="431.90" y="371.10" width="6.51" height="7.17" fill="#0ef1ff"/><rect x="438.36" y="371.10" width="6.51" height="7.17" fill="#0cf3ff"/><rect x="444.82" y="371.10" width="6.51" height="7.17" fill="#0af5ff"/><rect x="451.28" y="371.10" width="6.51" height="7.17" fill="#09f6ff"/><rect x="457.74" y="371.10" width="6.51" height="7.17" fill="#07f8ff"/><rect x="464.20" y="371.10" width="6.51" height="7.17" fill="#06f9ff"/><rect x="470.66" y="371.10" width="6.51" height="7.17" fill="#05faff"/><rect x="477.12" y="371.10" width="12.97" height="7.17" fill="#04fbff"/><rect x="490.04" y="371.10" width="6.51" height="7.17" fill="#03fcff"/><rect x="496.50" y="371.10" width="19.43" height="7.17" fill="#02fdff"/><rect x="515.88" y="371.10" width="32.35" height="7.17" fill="#01feff"/><rect x="192.88" y="378.23" width="19.43" height="7.17" fill="#01feff"/><rect x="212.26" y="378.23" width="12.97" height="7.17" fill="#02fdff"/><rect x="225.18" y="378.23" width="12.97" height="7.17" fill="#03fcff"/><rect x="238.10" y="378.23" width="6.51" height="7.17" fill="#04fbff"/><rect x="244.56" y="378.23" width="6.51" height="7.17" fill="#05faff"/><rect x="251.02" y="378.23" width="6.51" height="7.17" fill="#06f9ff"/><rect x="257.48" y="378.23" width="6.51" height="7.17" fill="#07f8ff"/><rect x="263.94" y="378.23" width="6.51" height="7.17" fill="#09f6ff"/><rect x="270.40" y="378.23" width="6.51" height="7.17" fill="#0af5ff"/><rect x="276.86" y="378.23" width="6.51" height="7.17" fill="#0cf3ff"/><rect x="283.32" y="378.23" width="6.51" height="7.17" fill="#0ef1ff"/><rect x="289.78" y="378.23" width="6.51" height="7.17" fill="#10efff"/><rect x="296.24" y="378.23" width="6.51" height="7.17" fill="#12edff"/><rect x="302.70" y="378.23" width="6.51" height="7.17" fill="#14ebff"/><rect x="309.16" y="378.23" width="6.51" height="7.17" fill="#17e8ff"/><rect x="315.62" y="378.23" width="6.51" height="7.17" fill="#19e6ff"/><rect x="322.08" y="378.23" width="6.51" height="7.17" fill="#1be4ff"/><rect x="328.54" y="378.23" width="6.51" height="7.17" fill="#1de2ff"/><rect x="335.00" y="378.23" width="19.43" height="7.17" fill="#1ee1ff"/><rect x="354.38" y="378.23" width="6.51" height="7.17" fill="#1de2ff"/><rect x="360.84" y="378.23" width="6.51" height="7.17" fill="#1ce3ff"/><rect x="367.30" y="378.23" width="6.51" height="7.17" fill="#1ae5ff"/><rect x="373.76" y="378.23" width="6.51" height="7.17" fill="#18e7ff"/><rect x="380.22" y="378.23" width="6.51" height="7.17" fill="#16e9ff"/><rect x="386.68" y="378.23" width="6.51" height="7.17" fill="#14ebff"/><rect x="393.14" y="378.23" width="6.51" height="7.17" fill="#12edff"/><rect x="399.60" y="378.23" width="6.51" height="7.17" fill="#10efff"/><rect x="406.06" y="378.23" width="6.51" height="7.17" fill="#0ef1ff"/><rect x="412.52" y="378.23" width="6.51" height="7.17" fill="#0cf3ff"/><rect x="418.98" y="378.23" width="6.51" height="7.17" fill="#0bf4ff"/><rect x="425.44" y="378.23" width="6.51" height="7.17" fill="#09f6ff"/><rect x="431.90" y="378.23" width="6.51" height="7.17" fill="#08f7ff"/><rect x="438.36" y="378.23" width="6.51" height="7.17" fill="#07f8ff"/><rect x="444.82" y="378.23" width="6.51" height="7.17" fill="#06f9ff"/><rect x="451.28" y="378.23" width="6.51" height="7.17" fill="#05faff"/><rect x="457.74" y="378.23" width="6.51" height="7.17" fill="#04fbff"/><rect x="464.20" y="378.23" width="12.97" height="7.17" fill="#03fcff"/><rect x="477.12" y="378.23" width="12.97" height="7.17" fill="#02fdff"/><rect x="490.04" y="378.23" width="38.81" height="7.17" fill="#01feff"/><rect x="205.80" y="385.35" width="25.89" height="7.17" fill="#01feff"/><rect x="231.64" y="385.35" width="12.97" height="7.17" fill="#02fdff"/><rect x="244.56" y="385.35" width="12.97" height="7.17" fill="#03fcff"/><rect x="257.48" y="385.35" width="6.51" height="7.17" fill="#04fbff"/><rect x="263.94" y="385.35" width="6.51" height="7.17" fill="#05faff"/><rect x="270.40" y="385.35" width="6.51" height="7.17" fill="#06f9ff"/><rect x="276.86" y="385.35" width="6.51" height="7.17" fill="#07f8ff"/><rect x="283.32" y="385.35" width="6.51" height="7.17" fill="#08f7ff"/><rect x="289.78" y="385.35" width="6.51" height="7.17" fill="#09f6ff"/><rect x="296.24" y="385.35" width="6.51" height="7.17" fill="#0bf4ff"/><rect x="302.70" y="385.35" width="6.51" height="7.17" fill="#0cf3ff"/><rect x="309.16" y="385.35" width="6.51" height="7.17" fill="#0ef1ff"/><rect x="315.62" y="385.35" width="6.51" height="7.17" fill="#0ff0ff"/><rect x="322.08" y="385.35" width="6.51" height="7.17" fill="#11eeff"/><rect x="328.54" y="385.35" width="6.51" height="7.17" fill="#12edff"/><rect x="335.00" y="385.35" width="19.43" height="7.17" fill="#13ecff"/><rect x="354.38" y="385.35" width="12.97" height="7.17" fill="#12edff"/><rect x="367.30" y="385.35" width="6.51" height="7.17" fill="#10efff"/><rect x="373.76" y="385.35" width="6.51" height="7.17" fill="#0ff0ff"/><rect x="380.22" y="385.35" width="6.51" height="7.17" fill="#0ef1ff"/><rect x="386.68" y="385.35" width="6.51" height="7.17" fill="#0cf3ff"/><rect x="393.14" y="385.35" width="6.51" height="7.17" fill="#0bf4ff"/><rect x="399.60" y="385.35" width="6.51" height="7.17" fill="#09f6ff"/><rect x="406.06" y="385.35" width="6.51" height="7.17" fill="#08f7ff"/><rect x="412.52" y="385.35" width="6.51" height="7.17" fill="#07f8ff"/><rect x="418.98" y="385.35" width="6.51" height="7.17" fill="#06f9ff"/><rect x="425.44" y="385.35" width="6.51" height="7.17" fill="#05faff"/><rect x="431.90" y="385.35" width="12.97" height="7.17" fill="#04fbff"/><rect x="444.82" y="385.35" width="6.51" height="7.17" fill="#03fcff"/><rect x="451.28" y="385.35" width="19.43" height="7.17" fill="#02fdff"/><rect x="470.66" y="385.35" width="32.35" height="7.17" fill="#01feff"/><rect x="225.18" y="392.48" width="25.89" height="7.17" fill="#01feff"/><rect x="251.02" y="392.48" width="19.43" height="7.17" fill="#02fdff"/><rect x="270.40" y="392.48" width="12.97" height="7.17" fill="#03fcff"/><rect x="283.32" y="392.48" width="6.51" height="7.17" fill="#04fbff"/><rect x="289.78" y="392.48" width="6.51" height="7.17" fill="#05faff"/><rect x="296.24" y="392.48" width="6.51" height="7.17" fill="#06f9ff"/><rect x="302.70" y="392.48" width="6.51" height="7.17" fill="#07f8ff"/><rect x="309.16" y="392.48" width="6.51" height="7.17" fill="#08f7ff"/><rect x="315.62" y="392.48" width="6.51" height="7.17" fill="#09f6ff"/><rect x="322.08" y="392.48" width="6.51" height="7.17" fill="#0af5ff"/><rect x="328.54" y="392.48" width="32.35" height="7.17" fill="#0bf4ff"/><rect x="360.84" y="392.48" width="12.97" height="7.17" fill="#0af5ff"/><rect x="373.76" y="392.48" width="6.51" height="7.17" fill="#09f6ff"/><rect x="380.22" y="392.48" width="6.51" height="7.17" fill="#08f7ff"/><rect x="386.68" y="392.48" width="6.51" height="7.17" fill="#07f8ff"/><rect x="393.14" y="392.48" width="6.51" height="7.17" fill="#06f9ff"/><rect x="399.60" y="392.48" width="6.51" height="7.17" fill="#05faff"/><rect x="406.06" y="392.48" width="12.97" height="7.17" fill="#04fbff"/><rect x="418.98" y="392.48" width="12.97" height="7.17" fill="#03fcff"/><rect x="431.90" y="392.48" width="12.97" height="7.17" fill="#02fdff"/><rect x="444.82" y="392.48" width="32.35" height="7.17" fill="#01feff"/><rect x="244.56" y="399.60" width="32.35" height="4.95" fill="#01feff"/><rect x="276.86" y="399.60" width="12.97" height="4.95" fill="#02fdff"/><rect x="289.78" y="399.60" width="12.97" height="4.95" fill="#03fcff"/><rect x="302.70" y="399.60" width="12.97" height="4.95" fill="#04fbff"/><rect x="315.62" y="399.60" width="12.97" height="4.95" fill="#05faff"/><rect x="328.54" y="399.60" width="38.81" height="4.95" fill="#06f9ff"/><rect x="367.30" y="399.60" width="12.97" height="4.95" fill="#05faff"/><rect x="380.22" y="399.60" width="12.97" height="4.95" fill="#04fbff"/><rect x="393.14" y="399.60" width="12.97" height="4.95" fill="#03fcff"/><rect x="406.06" y="399.60" width="19.43" height="4.95" fill="#02fdff"/><rect x="425.44" y="399.60" width="32.35" height="4.95" fill="#01feff"/></g><path d="M519.1 132.3 L525.6 131.2 L532.0 130.7 L538.5 131.0 L544.7 132.4 L545.0 132.5 L551.4 135.2 L557.9 139.5 L558.0 139.5 L564.3 145.4 L565.5 146.7 L570.8 152.9 L571.5 153.8 L576.8 160.9 L577.2 161.6 L581.7 168.0 L583.7 170.9 L586.6 175.2 L590.2 180.2 L591.6 182.3 L596.6 189.4 L596.7 189.4 L601.7 196.5 L603.1 198.5 L606.6 203.7 L609.5 208.1 L611.3 210.8 L615.5 217.9 L616.0 219.0 L619.0 225.0 L621.9 232.2 L622.5 234.4 L623.8 239.3 L624.6 246.4 L624.0 253.5 L622.5 258.4 L621.6 260.7 L616.8 267.8 L616.0 268.6 L609.5 274.0 L608.2 274.9 L603.1 278.0 L596.6 281.4 L595.4 282.0 L590.2 284.5 L583.7 287.5 L580.1 289.2 L577.2 290.4 L570.8 293.4 L564.3 296.2 L564.2 296.3 L557.9 299.1 L551.4 301.8 L547.5 303.4 L545.0 304.5 L538.5 307.0 L532.0 309.4 L528.8 310.5 L525.6 311.7 L519.1 314.0 L512.6 316.2 L508.2 317.7 L506.2 318.4 L499.7 320.6 L493.3 322.8 L487.7 324.8 L486.8 325.1 L480.4 327.5 L473.9 329.8 L468.1 331.9 L467.4 332.2 L461.0 334.7 L454.5 337.0 L448.9 339.0 L448.0 339.4 L441.6 341.8 L435.1 344.0 L428.7 346.1 L428.5 346.2 L422.2 348.3 L415.8 350.3 L409.3 352.2 L405.5 353.3 L402.8 354.1 L396.4 355.9 L389.9 357.6 L383.5 359.2 L377.8 360.4 L377.0 360.6 L370.5 362.0 L364.1 363.0 L357.6 363.8 L351.1 364.3 L344.7 364.4 L338.2 364.1 L331.8 363.5 L325.3 362.6 L318.9 361.4 L314.5 360.4 L312.4 360.0 L305.9 358.5 L299.5 357.0 L293.0 355.3 L286.6 353.5 L285.9 353.3 L280.1 351.8 L273.6 350.0 L267.2 348.1 L261.2 346.2 L260.7 346.0 L254.2 344.1 L247.8 341.9 L241.3 339.5 L240.2 339.0 L234.9 337.0 L228.4 334.2 L223.8 331.9 L221.9 331.0 L215.5 327.2 L211.9 324.8 L209.0 322.5 L203.8 317.7 L202.6 316.1 L198.5 310.5 L196.1 304.6 L195.7 303.4 L194.7 296.3 L195.8 289.2 L196.1 288.3 L198.7 282.0 L202.6 276.6 L203.8 274.9 L209.0 269.8 L211.4 267.8 L215.5 264.7 L221.6 260.7 L221.9 260.5 L228.4 256.6 L234.1 253.5 L234.9 253.1 L241.3 249.6 L247.6 246.4 L247.8 246.3 L254.3 242.9 L260.7 239.7 L261.6 239.3 L267.2 236.4 L273.6 233.3 L276.0 232.2 L280.1 230.1 L286.6 227.1 L291.2 225.0 L293.0 224.2 L299.5 221.2 L305.9 218.4 L307.1 217.9 L312.4 215.5 L318.9 212.7 L323.4 210.8 L325.3 209.9 L331.8 207.1 L338.2 204.4 L339.9 203.7 L344.7 201.5 L351.1 198.7 L356.1 196.5 L357.6 195.9 L364.1 192.9 L370.5 190.0 L371.8 189.4 L377.0 186.9 L383.5 184.0 L387.3 182.3 L389.9 181.0 L396.4 178.1 L402.8 175.4 L403.4 175.2 L409.3 172.6 L415.8 170.0 L420.8 168.0 L422.2 167.4 L428.7 164.9 L435.1 162.4 L439.2 160.9 L441.6 160.0 L448.0 157.5 L454.5 155.1 L457.9 153.8 L461.0 152.6 L467.4 150.1 L473.9 147.6 L476.4 146.7 L480.4 145.1 L486.8 142.6 L493.3 140.2 L495.3 139.5 L499.7 137.9 L506.2 135.8 L512.6 133.9 L518.5 132.4 L519.1 132.3Z M525.6 139.4 L532.0 139.3 L534.4 139.5 L538.5 140.1 L545.0 142.1 L551.4 145.6 L552.9 146.7 L557.9 150.7 L560.9 153.8 L564.3 157.5 L567.1 160.9 L570.8 165.6 L572.6 168.0 L577.2 174.5 L577.7 175.2 L582.8 182.3 L583.7 183.5 L587.9 189.4 L590.2 192.4 L593.1 196.5 L596.6 201.4 L598.2 203.7 L603.1 210.8 L603.1 210.8 L607.4 217.9 L609.5 222.0 L611.1 225.0 L613.9 232.2 L615.6 239.3 L616.0 245.6 L616.1 246.4 L616.0 246.7 L614.7 253.5 L611.0 260.7 L609.5 262.4 L604.1 267.8 L603.1 268.5 L596.6 272.7 L593.0 274.9 L590.2 276.4 L583.7 279.7 L579.2 282.0 L577.2 283.0 L570.8 286.1 L564.5 289.2 L564.3 289.2 L557.9 292.2 L551.4 295.2 L548.9 296.3 L545.0 298.0 L538.5 300.7 L532.0 303.2 L531.6 303.4 L525.6 305.7 L519.1 308.1 L512.6 310.4 L512.2 310.5 L506.2 312.7 L499.7 314.9 L493.3 317.2 L492.1 317.7 L486.8 319.6 L480.4 322.0 L473.9 324.4 L472.8 324.8 L467.4 326.8 L461.0 329.3 L454.5 331.7 L454.0 331.9 L448.0 334.2 L441.6 336.6 L435.1 338.9 L434.7 339.0 L428.7 341.2 L422.2 343.3 L415.8 345.4 L413.2 346.2 L409.3 347.4 L402.8 349.3 L396.4 351.1 L389.9 352.8 L387.9 353.3 L383.5 354.4 L377.0 355.9 L370.5 357.2 L364.1 358.3 L357.6 359.1 L351.1 359.5 L344.7 359.7 L338.2 359.4 L331.8 358.9 L325.3 358.0 L318.9 356.8 L312.4 355.5 L305.9 354.0 L303.1 353.3 L299.5 352.4 L293.0 350.9 L286.6 349.2 L280.1 347.4 L275.8 346.2 L273.6 345.6 L267.2 343.8 L260.7 341.8 L254.2 339.7 L252.5 339.0 L247.8 337.5 L241.3 335.1 L234.9 332.4 L233.8 331.9 L228.4 329.4 L221.9 325.9 L220.1 324.8 L215.5 321.6 L210.7 317.7 L209.0 315.8 L204.7 310.5 L202.6 306.0 L201.4 303.4 L200.4 296.3 L201.5 289.2 L202.6 286.7 L204.7 282.0 L209.0 276.5 L210.4 274.9 L215.5 270.4 L218.8 267.8 L221.9 265.6 L228.4 261.5 L229.8 260.7 L234.9 257.7 L241.3 254.2 L242.6 253.5 L247.8 250.7 L254.2 247.4 L256.2 246.4 L260.7 244.1 L267.2 240.9 L270.5 239.3 L273.6 237.7 L280.1 234.6 L285.4 232.2 L286.6 231.6 L293.0 228.6 L299.5 225.8 L301.2 225.0 L305.9 222.9 L312.4 220.1 L317.6 217.9 L318.9 217.4 L325.3 214.6 L331.8 211.9 L334.4 210.8 L338.2 209.1 L344.7 206.4 L351.1 203.7 L351.1 203.7 L357.6 200.8 L364.1 197.9 L367.2 196.5 L370.5 195.0 L377.0 192.0 L382.8 189.4 L383.5 189.1 L389.9 186.2 L396.4 183.4 L399.0 182.3 L402.8 180.6 L409.3 178.0 L415.8 175.5 L416.5 175.2 L422.2 172.9 L428.7 170.5 L435.1 168.2 L435.6 168.0 L441.6 165.9 L448.0 163.6 L454.5 161.3 L455.7 160.9 L461.0 159.0 L467.4 156.7 L473.9 154.4 L475.5 153.8 L480.4 152.0 L486.8 149.7 L493.3 147.5 L495.7 146.7 L499.7 145.3 L506.2 143.4 L512.6 141.6 L519.1 140.3 L524.5 139.5 L525.6 139.4Z M499.7 153.0 L506.2 151.3 L512.6 149.9 L519.1 148.8 L525.6 148.4 L532.0 148.7 L538.5 150.2 L545.0 152.9 L546.4 153.8 L551.4 157.3 L555.4 160.9 L557.9 163.3 L562.0 168.0 L564.3 170.8 L567.7 175.2 L570.8 179.2 L573.1 182.3 L577.2 187.8 L578.4 189.4 L583.7 196.4 L583.8 196.5 L589.0 203.7 L590.2 205.3 L594.0 210.8 L596.6 214.8 L598.5 217.9 L602.3 225.0 L603.1 227.0 L605.0 232.2 L606.5 239.3 L606.3 246.4 L603.9 253.5 L603.1 254.8 L598.5 260.7 L596.6 262.2 L590.2 267.2 L589.4 267.8 L583.7 271.2 L577.3 274.9 L577.2 275.0 L570.8 278.4 L564.3 281.8 L564.0 282.0 L557.9 285.1 L551.4 288.3 L549.7 289.2 L545.0 291.3 L538.5 294.3 L533.9 296.3 L532.0 297.0 L525.6 299.6 L519.1 302.2 L515.9 303.4 L512.6 304.6 L506.2 307.0 L499.7 309.4 L496.6 310.5 L493.3 311.8 L486.8 314.1 L480.4 316.6 L477.6 317.7 L473.9 319.1 L467.4 321.6 L461.0 324.1 L459.2 324.8 L454.5 326.6 L448.0 329.1 L441.6 331.6 L440.8 331.9 L435.1 334.0 L428.7 336.3 L422.2 338.5 L420.7 339.0 L415.8 340.7 L409.3 342.7 L402.8 344.6 L397.5 346.2 L396.4 346.5 L389.9 348.3 L383.5 349.9 L377.0 351.4 L370.5 352.7 L366.9 353.3 L364.1 353.8 L357.6 354.6 L351.1 355.1 L344.7 355.3 L338.2 355.0 L331.8 354.5 L325.3 353.6 L323.7 353.3 L318.9 352.5 L312.4 351.2 L305.9 349.8 L299.5 348.3 L293.0 346.7 L291.1 346.2 L286.6 345.0 L280.1 343.4 L273.6 341.6 L267.2 339.7 L265.2 339.0 L260.7 337.7 L254.2 335.6 L247.8 333.3 L244.1 331.9 L241.3 330.8 L234.9 328.0 L228.4 324.8 L228.4 324.8 L221.9 320.8 L217.7 317.7 L215.5 315.6 L210.8 310.5 L209.0 307.3 L207.0 303.4 L205.8 296.3 L207.0 289.2 L209.0 285.1 L210.6 282.0 L215.5 276.4 L216.9 274.9 L221.9 270.7 L225.9 267.8 L228.4 266.2 L234.9 262.2 L237.5 260.7 L241.3 258.5 L247.8 255.0 L250.6 253.5 L254.2 251.6 L260.7 248.3 L264.4 246.4 L267.2 245.0 L273.6 241.8 L279.0 239.3 L280.1 238.8 L286.6 235.7 L293.0 232.8 L294.6 232.2 L299.5 229.9 L305.9 227.2 L311.0 225.0 L312.4 224.4 L318.9 221.7 L325.3 219.0 L328.1 217.9 L331.8 216.3 L338.2 213.7 L344.7 211.0 L345.2 210.8 L351.1 208.2 L357.6 205.5 L361.8 203.7 L364.1 202.6 L370.5 199.7 L377.0 196.9 L377.7 196.5 L383.5 194.0 L389.9 191.1 L394.0 189.4 L396.4 188.4 L402.8 185.7 L409.3 183.1 L411.5 182.3 L415.8 180.7 L422.2 178.3 L428.7 176.0 L431.2 175.2 L435.1 173.8 L441.6 171.6 L448.0 169.5 L452.7 168.0 L454.5 167.4 L461.0 165.4 L467.4 163.3 L473.9 161.1 L474.6 160.9 L480.4 159.0 L486.8 157.0 L493.3 154.9 L497.0 153.8 L499.7 153.0Z M506.2 160.0 L512.6 159.0 L519.1 158.5 L525.6 158.6 L532.0 159.7 L535.7 160.9 L538.5 162.0 L545.0 165.8 L547.7 168.0 L551.4 171.2 L555.2 175.2 L557.9 178.1 L561.4 182.3 L564.3 185.9 L567.1 189.4 L570.8 194.1 L572.7 196.5 L577.2 202.4 L578.2 203.7 L583.5 210.8 L583.7 211.2 L588.1 217.9 L590.2 221.7 L591.9 225.0 L594.6 232.2 L595.7 239.3 L594.5 246.4 L590.7 253.5 L590.2 254.2 L583.7 260.6 L583.6 260.7 L577.2 265.2 L573.7 267.8 L570.8 269.5 L564.3 273.5 L562.0 274.9 L557.9 277.2 L551.4 280.8 L549.3 282.0 L545.0 284.2 L538.5 287.4 L535.0 289.2 L532.0 290.5 L525.6 293.3 L519.1 296.1 L518.7 296.3 L512.6 298.7 L506.2 301.2 L500.5 303.4 L499.7 303.7 L493.3 306.1 L486.8 308.6 L482.0 310.5 L480.4 311.2 L473.9 313.7 L467.4 316.3 L464.1 317.7 L461.0 318.9 L454.5 321.5 L448.0 324.1 L446.4 324.8 L441.6 326.7 L435.1 329.1 L428.7 331.5 L427.7 331.9 L422.2 333.8 L415.8 336.0 L409.3 338.1 L406.3 339.0 L402.8 340.1 L396.4 342.0 L389.9 343.8 L383.5 345.4 L380.4 346.2 L377.0 347.0 L370.5 348.3 L364.1 349.4 L357.6 350.3 L351.1 350.8 L344.7 350.9 L338.2 350.8 L331.8 350.2 L325.3 349.4 L318.9 348.3 L312.4 347.1 L308.1 346.2 L305.9 345.7 L299.5 344.3 L293.0 342.7 L286.5 341.1 L280.1 339.4 L278.7 339.0 L273.6 337.7 L267.2 335.8 L260.7 333.8 L255.1 331.9 L254.2 331.6 L247.8 329.3 L241.3 326.7 L237.2 324.8 L234.9 323.6 L228.4 320.0 L224.8 317.7 L221.9 315.3 L217.0 310.5 L215.5 308.2 L212.7 303.4 L211.3 296.3 L212.6 289.2 L215.5 283.8 L216.5 282.0 L221.9 276.2 L223.3 274.9 L228.4 271.0 L233.0 267.8 L234.9 266.6 L241.3 262.8 L245.0 260.7 L247.8 259.1 L254.2 255.6 L258.3 253.5 L260.7 252.3 L267.2 249.0 L272.4 246.4 L273.6 245.8 L280.1 242.7 L286.6 239.7 L287.6 239.3 L293.0 236.8 L299.5 234.0 L303.8 232.2 L305.9 231.2 L312.4 228.5 L318.9 225.9 L321.0 225.0 L325.3 223.3 L331.8 220.7 L338.2 218.1 L338.6 217.9 L344.7 215.4 L351.1 212.7 L355.8 210.8 L357.6 210.0 L364.1 207.2 L370.5 204.4 L372.3 203.7 L377.0 201.6 L383.5 198.7 L388.6 196.5 L389.9 196.0 L396.4 193.3 L402.8 190.7 L406.1 189.4 L409.3 188.2 L415.8 185.8 L422.2 183.6 L426.1 182.3 L428.7 181.4 L435.1 179.4 L441.6 177.4 L448.0 175.5 L449.3 175.2 L454.5 173.7 L461.0 171.9 L467.4 170.0 L473.9 168.2 L474.4 168.0 L480.4 166.4 L486.8 164.7 L493.3 162.9 L499.7 161.3 L501.6 160.9 L506.2 160.0Z M480.4 174.4 L486.8 173.1 L493.3 171.9 L499.7 170.9 L506.2 170.1 L512.6 169.8 L519.1 170.1 L525.6 171.2 L532.0 173.4 L535.5 175.2 L538.5 176.9 L545.0 181.9 L545.3 182.3 L551.4 188.3 L552.4 189.4 L557.9 195.5 L558.7 196.5 L564.3 203.4 L564.6 203.7 L570.0 210.8 L570.8 211.9 L574.8 217.9 L577.2 222.2 L578.8 225.0 L581.2 232.2 L581.7 239.3 L579.7 246.4 L577.2 250.0 L574.8 253.5 L570.8 257.3 L567.3 260.7 L564.3 262.8 L557.9 267.7 L557.8 267.8 L551.4 271.9 L546.9 274.9 L545.0 276.0 L538.5 279.6 L534.3 282.0 L532.0 283.2 L525.6 286.3 L519.8 289.2 L519.1 289.5 L512.6 292.2 L506.2 295.0 L503.3 296.3 L499.7 297.7 L493.3 300.2 L486.8 302.9 L485.6 303.4 L480.4 305.5 L473.9 308.1 L468.2 310.5 L467.4 310.8 L461.0 313.5 L454.5 316.2 L451.2 317.7 L448.0 318.9 L441.6 321.6 L435.1 324.2 L433.6 324.8 L428.7 326.7 L422.2 329.0 L415.8 331.3 L414.1 331.9 L409.3 333.5 L402.8 335.5 L396.4 337.5 L390.9 339.0 L389.9 339.3 L383.4 341.0 L377.0 342.5 L370.5 343.9 L364.1 345.1 L357.6 345.9 L355.0 346.2 L351.1 346.5 L344.7 346.7 L338.2 346.5 L333.5 346.2 L331.8 346.0 L325.3 345.2 L318.9 344.2 L312.4 343.1 L305.9 341.7 L299.5 340.3 L293.9 339.0 L293.0 338.8 L286.6 337.3 L280.1 335.6 L273.6 333.8 L267.2 332.0 L267.0 331.9 L260.7 329.9 L254.2 327.7 L247.8 325.3 L246.6 324.8 L241.3 322.4 L234.9 319.1 L232.4 317.7 L228.4 314.7 L223.4 310.5 L221.9 308.6 L218.5 303.4 L216.9 296.3 L218.2 289.2 L221.9 282.9 L222.5 282.0 L228.4 276.2 L229.9 274.9 L234.9 271.3 L240.1 267.8 L241.3 267.0 L247.8 263.3 L252.4 260.7 L254.2 259.6 L260.7 256.2 L265.9 253.5 L267.2 252.9 L273.6 249.7 L280.1 246.6 L280.5 246.4 L286.6 243.6 L293.0 240.7 L296.4 239.3 L299.5 237.9 L305.9 235.2 L312.4 232.6 L313.5 232.2 L318.9 230.0 L325.3 227.4 L331.4 225.0 L331.8 224.9 L338.2 222.4 L344.7 219.8 L349.3 217.9 L351.1 217.2 L357.6 214.5 L364.1 211.8 L366.5 210.8 L370.5 209.1 L377.0 206.3 L383.1 203.7 L383.5 203.5 L389.9 200.8 L396.4 198.2 L400.6 196.5 L402.8 195.7 L409.3 193.3 L415.8 191.1 L420.7 189.4 L422.2 188.9 L428.7 187.0 L435.1 185.1 L441.6 183.4 L445.9 182.3 L448.0 181.7 L454.5 180.2 L461.0 178.7 L467.4 177.3 L473.9 175.8 L476.7 175.2 L480.4 174.4Z M493.3 182.3 L499.7 182.1 L505.0 182.3 L506.2 182.3 L512.6 183.2 L519.1 184.8 L525.6 187.4 L529.1 189.4 L532.0 191.2 L538.5 196.3 L538.8 196.5 L545.0 202.6 L545.9 203.7 L551.4 210.0 L552.1 210.8 L557.3 217.9 L557.9 218.9 L561.3 225.0 L563.7 232.2 L564.0 239.3 L561.7 246.4 L557.9 252.3 L557.1 253.5 L551.4 259.4 L550.3 260.7 L545.0 265.0 L541.6 267.8 L538.5 269.9 L532.0 274.3 L531.2 274.9 L525.6 278.1 L519.1 281.8 L518.7 282.0 L512.6 284.9 L506.2 288.1 L504.0 289.2 L499.7 291.0 L493.3 293.8 L487.7 296.3 L486.8 296.7 L480.4 299.3 L473.9 302.1 L471.1 303.4 L467.4 304.9 L461.0 307.7 L454.8 310.5 L454.5 310.7 L448.1 313.4 L441.6 316.2 L438.3 317.7 L435.1 318.9 L428.7 321.5 L422.2 324.1 L420.3 324.8 L415.8 326.4 L409.3 328.6 L402.8 330.8 L399.4 331.9 L396.4 332.8 L389.9 334.7 L383.5 336.4 L377.0 338.0 L372.5 339.0 L370.5 339.5 L364.1 340.6 L357.6 341.5 L351.1 342.1 L344.7 342.3 L338.2 342.2 L331.8 341.8 L325.3 341.1 L318.9 340.1 L312.4 339.0 L312.4 339.0 L305.9 337.8 L299.5 336.4 L293.0 335.0 L286.5 333.4 L280.6 331.9 L280.1 331.8 L273.6 330.0 L267.2 328.1 L260.7 326.0 L257.1 324.8 L254.2 323.7 L247.8 321.0 L241.3 318.0 L240.7 317.7 L234.9 313.9 L230.3 310.5 L228.4 308.4 L224.6 303.4 L222.7 296.3 L224.1 289.2 L228.4 282.5 L228.7 282.0 L234.9 276.4 L236.6 274.9 L241.3 271.7 L247.2 267.8 L247.8 267.5 L254.2 263.8 L259.8 260.7 L260.7 260.2 L267.2 256.8 L273.6 253.5 L273.6 253.5 L280.1 250.5 L286.6 247.5 L288.9 246.4 L293.0 244.6 L299.5 241.9 L305.7 239.3 L305.9 239.2 L312.4 236.6 L318.9 234.1 L323.8 232.2 L325.3 231.6 L331.8 229.1 L338.2 226.7 L342.5 225.0 L344.7 224.2 L351.1 221.7 L357.6 219.1 L360.5 217.9 L364.1 216.5 L370.5 213.8 L377.0 211.1 L377.6 210.8 L383.5 208.4 L389.9 205.8 L395.2 203.7 L396.4 203.2 L402.8 200.9 L409.3 198.6 L415.5 196.5 L415.8 196.4 L422.2 194.6 L428.7 192.8 L435.1 191.2 L441.6 189.7 L442.8 189.4 L448.0 188.4 L454.5 187.2 L461.0 186.1 L467.4 185.2 L473.9 184.3 L480.4 183.4 L486.8 182.8 L493.2 182.3 L493.3 182.3Z M448.0 195.7 L454.5 195.0 L461.0 194.5 L467.4 194.1 L473.9 194.0 L480.4 194.1 L486.8 194.4 L493.3 195.1 L499.7 196.2 L501.2 196.5 L506.2 198.0 L512.6 200.6 L518.3 203.7 L519.1 204.2 L525.6 209.0 L527.6 210.8 L532.0 215.3 L534.3 217.9 L538.5 223.9 L539.2 225.0 L542.3 232.2 L543.2 239.3 L541.9 246.4 L538.5 253.2 L538.3 253.5 L532.6 260.7 L532.0 261.1 L525.6 266.9 L524.6 267.8 L519.1 271.6 L514.5 274.9 L512.6 275.9 L506.2 279.6 L501.9 282.0 L499.7 283.1 L493.3 286.2 L487.5 289.2 L486.8 289.5 L480.4 292.3 L473.9 295.4 L472.2 296.3 L467.4 298.4 L461.0 301.4 L456.8 303.4 L454.5 304.4 L448.0 307.3 L441.6 310.4 L441.4 310.5 L435.1 313.2 L428.7 316.0 L424.8 317.7 L422.2 318.7 L415.8 321.1 L409.3 323.5 L405.9 324.8 L402.8 325.8 L396.4 327.8 L389.9 329.8 L383.5 331.7 L382.6 331.9 L377.0 333.3 L370.5 334.7 L364.1 336.0 L357.6 336.9 L351.1 337.6 L344.7 337.9 L338.2 337.8 L331.8 337.5 L325.3 336.8 L318.9 335.9 L312.4 334.9 L305.9 333.7 L299.5 332.4 L297.0 331.9 L293.0 331.0 L286.6 329.5 L280.1 327.9 L273.6 326.1 L269.1 324.8 L267.2 324.2 L260.7 321.9 L254.2 319.5 L249.9 317.7 L247.8 316.6 L241.3 312.8 L237.8 310.5 L234.9 307.6 L231.2 303.4 L228.8 296.3 L230.3 289.2 L234.9 282.5 L235.2 282.0 L241.3 276.8 L243.6 274.9 L247.8 272.1 L254.2 268.0 L254.5 267.8 L260.7 264.3 L267.2 260.8 L267.4 260.7 L273.6 257.5 L280.1 254.4 L281.8 253.5 L286.6 251.4 L293.0 248.5 L298.0 246.4 L299.5 245.8 L305.9 243.2 L312.4 240.7 L316.0 239.3 L318.9 238.2 L325.3 235.9 L331.8 233.5 L335.3 232.2 L338.2 231.1 L344.7 228.8 L351.1 226.3 L354.4 225.0 L357.6 223.8 L364.1 221.3 L370.5 218.7 L372.4 217.9 L377.0 216.1 L383.5 213.5 L389.9 210.9 L390.3 210.8 L396.4 208.6 L402.8 206.3 L409.3 204.2 L411.0 203.7 L415.8 202.3 L422.2 200.6 L428.7 199.1 L435.1 197.7 L441.6 196.6 L441.8 196.5 L448.0 195.7Z M409.3 210.3 L415.8 208.8 L422.2 207.3 L428.7 206.1 L435.1 205.2 L441.6 204.5 L448.0 204.1 L454.5 204.0 L461.0 204.2 L467.4 204.8 L473.9 205.7 L480.4 207.0 L486.8 208.7 L492.7 210.8 L493.3 211.0 L499.7 214.3 L505.4 217.9 L506.2 218.6 L512.6 224.5 L513.2 225.0 L518.1 232.2 L519.1 234.9 L520.6 239.3 L520.7 246.4 L519.1 251.1 L518.3 253.5 L513.5 260.7 L512.6 261.4 L506.2 267.7 L506.1 267.8 L499.7 272.3 L496.1 274.9 L493.3 276.5 L486.8 280.3 L484.0 282.0 L480.4 283.8 L473.9 287.2 L470.4 289.2 L467.4 290.6 L461.0 293.8 L456.5 296.3 L454.5 297.2 L448.0 300.4 L442.3 303.4 L441.6 303.7 L435.1 306.7 L428.7 309.8 L427.2 310.5 L422.2 312.6 L415.8 315.3 L410.1 317.7 L409.3 317.9 L402.8 320.2 L396.4 322.4 L389.9 324.6 L389.4 324.8 L383.5 326.5 L377.0 328.2 L370.5 329.7 L364.1 331.1 L359.2 331.9 L357.6 332.1 L351.1 332.8 L344.7 333.2 L338.2 333.2 L331.8 332.9 L325.3 332.4 L321.2 331.9 L318.9 331.6 L312.4 330.6 L305.9 329.5 L299.5 328.2 L293.0 326.9 L286.6 325.5 L283.7 324.8 L280.1 323.8 L273.6 322.0 L267.2 319.9 L260.7 317.7 L260.5 317.7 L254.2 314.8 L247.8 311.4 L246.2 310.5 L241.3 306.3 L238.4 303.4 L235.6 296.3 L237.0 289.2 L241.3 283.2 L242.2 282.0 L247.8 277.4 L250.9 274.9 L254.2 272.8 L260.7 268.7 L262.2 267.8 L267.2 265.1 L273.6 261.6 L275.5 260.7 L280.1 258.5 L286.6 255.5 L290.8 253.5 L293.0 252.6 L299.5 249.9 L305.9 247.3 L308.3 246.4 L312.4 244.9 L318.9 242.6 L325.3 240.2 L328.0 239.3 L331.8 238.0 L338.2 235.8 L344.7 233.5 L348.3 232.2 L351.1 231.2 L357.6 228.9 L364.1 226.4 L367.6 225.0 L370.5 224.0 L377.0 221.5 L383.5 219.0 L386.3 217.9 L389.9 216.6 L396.4 214.4 L402.8 212.3 L407.7 210.8 L409.3 210.3Z M409.3 217.4 L415.8 216.2 L422.2 215.2 L428.7 214.5 L435.1 214.1 L441.6 214.1 L448.0 214.5 L454.5 215.3 L461.0 216.6 L466.1 217.9 L467.4 218.3 L473.9 220.9 L480.4 224.1 L481.9 225.0 L486.8 228.8 L490.5 232.2 L493.3 236.0 L495.4 239.3 L497.1 246.4 L496.0 253.5 L493.3 258.4 L492.0 260.7 L486.8 266.0 L485.2 267.8 L480.4 271.4 L475.9 274.9 L473.9 276.1 L467.4 280.2 L464.8 282.0 L461.0 284.2 L454.5 288.1 L452.8 289.2 L448.0 291.7 L441.6 295.5 L440.3 296.3 L435.1 298.9 L428.7 302.4 L426.8 303.4 L422.2 305.5 L415.8 308.5 L411.4 310.5 L409.3 311.4 L402.8 313.9 L396.4 316.4 L393.0 317.7 L389.9 318.7 L383.5 320.7 L377.0 322.5 L370.5 324.3 L368.5 324.8 L364.1 325.7 L357.6 326.8 L351.1 327.6 L344.7 328.0 L338.2 328.2 L331.8 328.0 L325.3 327.6 L318.9 326.9 L312.4 326.1 L305.9 325.1 L304.1 324.8 L299.5 323.9 L293.0 322.5 L286.5 321.1 L280.1 319.4 L273.6 317.7 L273.6 317.7 L267.2 315.3 L260.7 312.7 L256.1 310.5 L254.2 309.3 L247.8 304.5 L246.6 303.4 L243.1 296.3 L244.3 289.2 L247.8 284.6 L249.8 282.0 L254.2 278.4 L258.7 274.9 L260.7 273.7 L267.2 269.8 L270.4 267.8 L273.6 266.1 L280.1 262.9 L284.5 260.7 L286.6 259.7 L293.0 256.9 L299.5 254.2 L301.1 253.5 L305.9 251.7 L312.4 249.4 L318.9 247.0 L320.7 246.4 L325.3 244.9 L331.8 242.8 L338.2 240.7 L342.5 239.3 L344.7 238.6 L351.1 236.5 L357.6 234.3 L363.5 232.2 L364.1 232.0 L370.5 229.8 L377.0 227.5 L383.5 225.1 L383.5 225.0 L389.9 223.0 L396.4 221.0 L402.8 219.1 L407.3 217.9 L409.3 217.4Z M422.2 225.0 L424.7 225.0 L428.7 225.1 L435.1 225.8 L441.6 227.1 L448.0 229.0 L454.5 231.6 L455.7 232.2 L461.0 235.9 L465.1 239.3 L467.4 243.0 L469.3 246.4 L469.8 253.5 L467.4 259.6 L467.0 260.7 L461.4 267.8 L461.0 268.2 L454.5 274.1 L453.7 274.9 L448.0 279.1 L444.5 282.0 L441.6 283.9 L435.1 288.5 L434.2 289.2 L428.7 292.5 L422.7 296.3 L422.2 296.5 L415.8 299.9 L409.3 303.4 L409.3 303.4 L402.8 306.3 L396.4 309.1 L393.1 310.5 L389.9 311.7 L383.5 313.9 L377.0 316.0 L371.8 317.7 L370.5 318.0 L364.1 319.5 L357.6 320.7 L351.1 321.7 L344.7 322.4 L338.2 322.7 L331.8 322.6 L325.3 322.3 L318.9 321.8 L312.4 321.1 L305.9 320.1 L299.5 319.1 L293.0 317.9 L291.9 317.7 L286.6 316.3 L280.1 314.5 L273.6 312.4 L268.3 310.5 L267.2 310.0 L260.7 306.3 L256.3 303.4 L254.2 300.6 L251.6 296.3 L252.6 289.2 L254.2 287.0 L258.1 282.0 L260.7 280.0 L267.2 275.0 L267.3 274.9 L273.6 271.3 L279.7 267.8 L280.1 267.6 L286.6 264.6 L293.0 261.6 L295.1 260.7 L299.5 258.9 L305.9 256.5 L312.4 254.1 L314.1 253.5 L318.9 252.0 L325.3 250.1 L331.8 248.1 L337.2 246.4 L338.2 246.1 L344.7 244.3 L351.1 242.4 L357.6 240.4 L361.1 239.3 L364.1 238.4 L370.5 236.4 L377.0 234.4 L383.5 232.2 L383.6 232.2 L389.9 230.5 L396.4 228.8 L402.8 227.4 L409.3 226.2 L415.8 225.4 L421.5 225.0 L422.2 225.0Z M396.4 238.9 L402.8 238.4 L409.3 238.3 L415.8 238.9 L418.1 239.3 L422.2 240.4 L428.7 243.4 L433.4 246.4 L435.1 248.8 L437.8 253.5 L437.9 260.7 L435.1 267.1 L434.9 267.8 L429.6 274.9 L428.7 275.7 L422.5 282.0 L422.2 282.2 L415.8 287.3 L413.5 289.2 L409.3 291.8 L402.8 296.0 L402.4 296.3 L396.4 299.3 L389.9 302.7 L388.4 303.4 L383.5 305.4 L377.0 307.9 L370.5 310.3 L369.7 310.5 L364.1 312.0 L357.6 313.6 L351.1 314.8 L344.7 315.7 L338.2 316.3 L331.8 316.5 L325.3 316.4 L318.9 316.0 L312.4 315.4 L305.9 314.6 L299.5 313.5 L293.0 312.3 L286.6 310.8 L285.5 310.5 L280.1 308.6 L273.6 305.9 L268.4 303.4 L267.2 302.3 L261.9 296.3 L262.2 289.2 L267.2 282.8 L267.7 282.0 L273.6 277.8 L277.6 274.9 L280.1 273.5 L286.6 270.2 L291.1 267.8 L293.0 267.0 L299.5 264.4 L305.9 261.9 L309.2 260.7 L312.4 259.6 L318.9 257.7 L325.3 255.9 L331.8 254.0 L333.7 253.5 L338.2 252.5 L344.7 251.0 L351.1 249.4 L357.6 247.7 L362.4 246.4 L364.1 246.0 L370.5 244.5 L377.0 242.9 L383.5 241.4 L389.9 240.0 L393.9 239.3 L396.4 238.9Z M338.2 260.3 L344.7 259.3 L351.1 258.3 L357.6 257.4 L364.1 256.6 L370.5 255.8 L377.0 255.2 L383.5 255.0 L389.9 255.6 L396.4 257.5 L401.5 260.7 L402.8 263.8 L403.9 267.8 L402.8 271.3 L401.8 274.9 L396.5 282.0 L396.4 282.2 L389.9 287.8 L388.4 289.2 L383.5 292.2 L377.1 296.3 L377.0 296.3 L370.5 299.2 L364.1 302.0 L360.5 303.4 L357.6 304.3 L351.1 305.9 L344.7 307.2 L338.2 308.2 L331.8 308.8 L325.3 309.1 L318.9 309.0 L312.4 308.5 L305.9 307.7 L299.5 306.6 L293.0 305.2 L286.6 303.4 L286.5 303.4 L280.1 299.6 L275.6 296.3 L274.5 289.2 L279.9 282.0 L280.1 281.9 L286.6 277.7 L290.9 274.9 L293.0 273.9 L299.5 271.2 L305.9 268.4 L307.7 267.8 L312.4 266.4 L318.9 264.7 L325.3 263.0 L331.8 261.5 L335.9 260.7 L338.2 260.3Z M318.9 274.6 L325.3 273.7 L331.8 273.1 L338.2 273.0 L344.7 273.3 L351.2 274.4 L353.1 274.9 L357.6 281.0 L358.1 282.0 L357.6 282.6 L352.5 289.2 L351.1 289.9 L344.7 293.0 L338.2 295.9 L337.1 296.3 L331.8 297.3 L325.3 298.1 L318.9 298.3 L312.4 298.1 L305.9 297.2 L301.8 296.3 L299.5 294.9 L294.2 289.2 L299.5 282.2 L299.6 282.0 L305.9 279.3 L312.4 276.6 L317.4 274.9 L318.9 274.6Z" fill="none" stroke="#000" stroke-width="1.5" stroke-linejoin="round"/><path d="M174.3 299.6 L555.3 100.3 L658.5 278.3 L342.2 363.4 L174.3 299.6" fill="none" stroke="#000" stroke-width="4.17" stroke-linejoin="round" stroke-linecap="butt"/><path d="M109.7 328.1 L687.5 195.4" fill="none" stroke="#007300" stroke-width="1.45" stroke-dasharray="8.33 8.33"/></g><rect x="102.5" y="61.5" width="629.0" height="343.0" fill="none" stroke="#000" stroke-width="1.39"/><path d="M213.50 404.50 v-5.56 M213.50 61.50 v5.56 M342.50 404.50 v-5.56 M342.50 61.50 v5.56 M471.50 404.50 v-5.56 M471.50 61.50 v5.56 M600.50 404.50 v-5.56 M600.50 61.50 v5.56 M730.50 404.50 v-5.56 M730.50 61.50 v5.56 M102.50 72.50 h5.56 M731.50 72.50 h-5.56 M102.50 143.50 h5.56 M731.50 143.50 h-5.56 M102.50 214.50 h5.56 M731.50 214.50 h-5.56 M102.50 286.50 h5.56 M731.50 286.50 h-5.56 M102.50 357.50 h5.56 M731.50 357.50 h-5.56 M174.50 509.50 v-5.56 M174.50 477.50 v5.56 M246.50 509.50 v-5.56 M246.50 477.50 v5.56 M319.50 509.50 v-5.56 M319.50 477.50 v5.56 M391.50 509.50 v-5.56 M391.50 477.50 v5.56 M464.50 509.50 v-5.56 M464.50 477.50 v5.56 M536.50 509.50 v-5.56 M536.50 477.50 v5.56 M608.50 509.50 v-5.56 M608.50 477.50 v5.56 M681.50 509.50 v-5.56 M681.50 477.50 v5.56" stroke="#000" stroke-width="0.95" fill="none"/></svg><div class="t ti" style="left:0;top:37.0px;width:812px;font-size:20.00px"><span style="left:108.40px;letter-spacing:1.060px">Storm-based</span> <span style="left:241.10px;letter-spacing:1.017px">warning</span> <span style="left:325.60px;letter-spacing:1.143px">polygon,</span> <span style="left:417.00px;letter-spacing:1.117px">feature</span> <span style="left:493.30px;letter-spacing:1.200px">54</span> <span style="left:523.80px;letter-spacing:0.850px">new</span> <span style="left:570.60px;letter-spacing:1.283px">midline</span> <span style="left:649.00px;letter-spacing:1.680px">method</span></div><div class="t c" style="left:164.2px;top:406.3px;font-size:16.80px;letter-spacing:1.570px">−90.2</div><div class="t c" style="left:293.1px;top:406.3px;font-size:16.80px;letter-spacing:1.570px">−90.0</div><div class="t c" style="left:422.3px;top:406.3px;font-size:16.80px;letter-spacing:1.570px">−89.8</div><div class="t c" style="left:551.5px;top:406.3px;font-size:16.80px;letter-spacing:1.570px">−89.6</div><div class="t c" style="left:680.1px;top:406.3px;font-size:16.80px;letter-spacing:1.570px">−89.4</div><div class="t r" style="left:-4.0px;top:62.5px;font-size:16.80px;letter-spacing:0.430px">33.3</div><div class="t r" style="left:-4.0px;top:133.5px;font-size:16.80px;letter-spacing:0.430px">33.2</div><div class="t r" style="left:-4.0px;top:204.5px;font-size:16.80px;letter-spacing:0.430px">33.1</div><div class="t r" style="left:-4.0px;top:276.5px;font-size:16.80px;letter-spacing:0.430px">33.0</div><div class="t r" style="left:-4.0px;top:347.5px;font-size:16.80px;letter-spacing:0.430px">32.9</div><div class="t c" style="left:51.6px;top:511.0px;font-size:16.80px;letter-spacing:0.800px">0</div><div class="t c" style="left:124.4px;top:511.0px;font-size:16.80px;letter-spacing:0.800px">2</div><div class="t c" style="left:196.7px;top:511.0px;font-size:16.80px;letter-spacing:0.800px">4</div><div class="t c" style="left:268.8px;top:511.0px;font-size:16.80px;letter-spacing:0.800px">6</div><div class="t c" style="left:341.4px;top:511.0px;font-size:16.80px;letter-spacing:0.800px">8</div><div class="t c" style="left:413.7px;top:511.0px;font-size:16.80px;letter-spacing:0.800px">10</div><div class="t c" style="left:486.2px;top:511.0px;font-size:16.80px;letter-spacing:0.800px">12</div><div class="t c" style="left:558.4px;top:511.0px;font-size:16.80px;letter-spacing:0.800px">14</div><div class="t c" style="left:630.7px;top:511.0px;font-size:16.80px;letter-spacing:0.800px">16</div><div class="t c" style="left:366.0px;top:425.0px;font-size:16.80px;letter-spacing:0.920px">longitude</div><div class="t c yl" style="left:-1.0px;top:222.2px;font-size:16.80px;letter-spacing:0.920px">latitude</div></body></html>
